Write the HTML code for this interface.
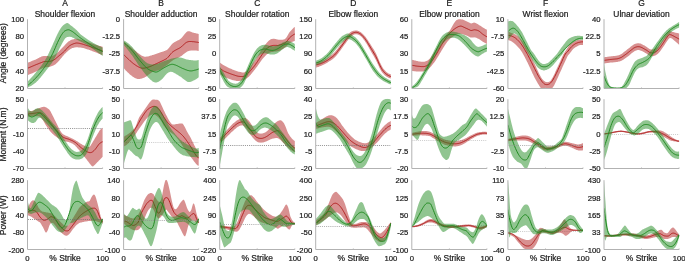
<!DOCTYPE html>
<html><head><meta charset="utf-8"><title>Joint kinematics and kinetics</title>
<style>html,body{margin:0;padding:0;background:#fff}body{width:685px;height:261px;overflow:hidden;font-family:"Liberation Sans",sans-serif}svg text{font-family:"Liberation Sans",sans-serif}</style>
</head><body>
<svg width="685" height="261" viewBox="0 0 685 261" style="display:block">
<rect width="685" height="261" fill="#fff"/>
<defs><clipPath id="cA1"><rect x="27.5" y="18.7" width="75.7" height="69.8"/></clipPath><clipPath id="cB1"><rect x="123.6" y="18.7" width="75.7" height="69.8"/></clipPath><clipPath id="cC1"><rect x="219.7" y="18.7" width="75.7" height="69.8"/></clipPath><clipPath id="cD1"><rect x="315.7" y="18.7" width="75.7" height="69.8"/></clipPath><clipPath id="cE1"><rect x="411.8" y="18.7" width="75.7" height="69.8"/></clipPath><clipPath id="cF1"><rect x="507.9" y="18.7" width="75.7" height="69.8"/></clipPath><clipPath id="cG1"><rect x="604.0" y="18.7" width="75.7" height="69.8"/></clipPath><clipPath id="cA2"><rect x="27.5" y="98.7" width="75.7" height="69.8"/></clipPath><clipPath id="cB2"><rect x="123.6" y="98.7" width="75.7" height="69.8"/></clipPath><clipPath id="cC2"><rect x="219.7" y="98.7" width="75.7" height="69.8"/></clipPath><clipPath id="cD2"><rect x="315.7" y="98.7" width="75.7" height="69.8"/></clipPath><clipPath id="cE2"><rect x="411.8" y="98.7" width="75.7" height="69.8"/></clipPath><clipPath id="cF2"><rect x="507.9" y="98.7" width="75.7" height="69.8"/></clipPath><clipPath id="cG2"><rect x="604.0" y="98.7" width="75.7" height="69.8"/></clipPath><clipPath id="cA3"><rect x="27.5" y="179.7" width="75.7" height="69.8"/></clipPath><clipPath id="cB3"><rect x="123.6" y="179.7" width="75.7" height="69.8"/></clipPath><clipPath id="cC3"><rect x="219.7" y="179.7" width="75.7" height="69.8"/></clipPath><clipPath id="cD3"><rect x="315.7" y="179.7" width="75.7" height="69.8"/></clipPath><clipPath id="cE3"><rect x="411.8" y="179.7" width="75.7" height="69.8"/></clipPath><clipPath id="cF3"><rect x="507.9" y="179.7" width="75.7" height="69.8"/></clipPath><clipPath id="cG3"><rect x="604.0" y="179.7" width="75.7" height="69.8"/></clipPath></defs>
<g clip-path="url(#cA1)"><path d="M27.5,62.7 L28.2,62.4 L28.9,62.2 L29.6,61.9 L30.3,61.7 L31.0,61.4 L31.7,61.1 L32.4,60.8 L33.1,60.5 L33.8,60.3 L34.5,60.0 L35.2,59.7 L35.9,59.4 L36.6,59.0 L37.3,58.7 L38.0,58.3 L38.7,57.9 L39.4,57.6 L40.1,57.2 L40.8,56.9 L41.5,56.6 L42.2,56.3 L42.9,56.2 L43.6,56.0 L44.3,56.0 L45.0,55.9 L45.7,55.9 L46.4,55.9 L47.1,55.9 L47.8,56.1 L48.5,56.2 L49.2,56.4 L49.9,56.4 L50.6,56.4 L51.3,56.3 L52.0,56.1 L52.7,55.8 L53.4,55.5 L54.1,55.1 L54.8,54.7 L55.5,54.2 L56.2,53.7 L56.9,53.2 L57.6,52.6 L58.3,51.9 L59.0,51.2 L59.7,50.5 L60.4,49.8 L61.1,49.1 L61.8,48.3 L62.5,47.6 L63.2,46.9 L63.9,46.1 L64.6,45.4 L65.3,44.6 L66.0,43.9 L66.7,43.1 L67.4,42.4 L68.1,41.8 L68.8,41.3 L69.5,40.9 L70.2,40.5 L70.9,40.1 L71.6,39.8 L72.3,39.6 L73.0,39.4 L73.7,39.2 L74.4,39.0 L75.1,38.8 L75.8,38.7 L76.5,38.7 L77.2,38.7 L77.9,38.8 L78.6,39.0 L79.3,39.2 L80.0,39.4 L80.7,39.6 L81.4,39.8 L82.1,40.0 L82.8,40.2 L83.5,40.5 L84.2,40.7 L84.9,41.0 L85.6,41.2 L86.3,41.5 L87.0,41.7 L87.7,42.0 L88.4,42.3 L89.1,42.5 L89.8,42.8 L90.5,43.1 L91.2,43.3 L91.9,43.5 L92.6,43.8 L93.3,44.0 L94.0,44.2 L94.7,44.5 L95.4,44.7 L96.1,44.9 L96.8,45.1 L97.5,45.3 L98.2,45.5 L98.9,45.7 L99.6,45.9 L100.3,46.1 L101.0,46.3 L101.7,46.5 L102.6,46.7 L102.6,55.2 L101.7,54.8 L101.0,54.5 L100.3,54.2 L99.6,53.9 L98.9,53.7 L98.2,53.4 L97.5,53.1 L96.8,52.8 L96.1,52.5 L95.4,52.3 L94.7,52.0 L94.0,51.7 L93.3,51.4 L92.6,51.2 L91.9,50.9 L91.2,50.6 L90.5,50.4 L89.8,50.1 L89.1,49.9 L88.4,49.6 L87.7,49.4 L87.0,49.2 L86.3,49.0 L85.6,48.7 L84.9,48.5 L84.2,48.3 L83.5,48.1 L82.8,48.0 L82.1,47.8 L81.4,47.7 L80.7,47.6 L80.0,47.5 L79.3,47.5 L78.6,47.4 L77.9,47.3 L77.2,47.3 L76.5,47.3 L75.8,47.3 L75.1,47.4 L74.4,47.5 L73.7,47.7 L73.0,47.9 L72.3,48.1 L71.6,48.4 L70.9,48.8 L70.2,49.2 L69.5,49.7 L68.8,50.2 L68.1,50.8 L67.4,51.4 L66.7,52.0 L66.0,52.7 L65.3,53.4 L64.6,54.1 L63.9,54.9 L63.2,55.8 L62.5,56.6 L61.8,57.4 L61.1,58.3 L60.4,59.1 L59.7,59.9 L59.0,60.7 L58.3,61.5 L57.6,62.2 L56.9,62.9 L56.2,63.5 L55.5,64.2 L54.8,64.7 L54.1,65.1 L53.4,65.5 L52.7,65.8 L52.0,66.1 L51.3,66.3 L50.6,66.5 L49.9,66.7 L49.2,66.9 L48.5,67.0 L47.8,67.1 L47.1,67.1 L46.4,67.2 L45.7,67.3 L45.0,67.4 L44.3,67.6 L43.6,67.8 L42.9,68.1 L42.2,68.4 L41.5,68.7 L40.8,69.1 L40.1,69.4 L39.4,69.8 L38.7,70.2 L38.0,70.6 L37.3,70.9 L36.6,71.3 L35.9,71.6 L35.2,72.0 L34.5,72.3 L33.8,72.6 L33.1,72.9 L32.4,73.2 L31.7,73.5 L31.0,73.8 L30.3,74.1 L29.6,74.3 L28.9,74.6 L28.2,74.9 L27.5,75.1Z" fill="#b22222" fill-opacity="0.5"/><path d="M27.5,68.3 L28.2,68.0 L28.9,67.7 L29.6,67.4 L30.3,67.1 L31.0,66.8 L31.7,66.5 L32.4,66.2 L33.1,65.9 L33.8,65.6 L34.5,65.3 L35.2,65.0 L35.9,64.7 L36.6,64.4 L37.3,64.2 L38.0,63.9 L38.7,63.6 L39.4,63.3 L40.1,63.0 L40.8,62.8 L41.5,62.5 L42.2,62.2 L42.9,62.0 L43.6,61.7 L44.3,61.6 L45.0,61.5 L45.7,61.5 L46.4,61.5 L47.1,61.5 L47.8,61.5 L48.5,61.5 L49.2,61.4 L49.9,61.3 L50.6,61.2 L51.3,61.0 L52.0,60.8 L52.7,60.5 L53.4,60.2 L54.1,59.8 L54.8,59.3 L55.5,58.8 L56.2,58.2 L56.9,57.6 L57.6,57.0 L58.3,56.4 L59.0,55.8 L59.7,55.2 L60.4,54.7 L61.1,54.1 L61.8,53.5 L62.5,52.9 L63.2,52.3 L63.9,51.7 L64.6,51.0 L65.3,50.3 L66.0,49.4 L66.7,48.6 L67.4,47.8 L68.1,47.1 L68.8,46.5 L69.5,45.9 L70.2,45.4 L70.9,45.0 L71.6,44.6 L72.3,44.3 L73.0,44.0 L73.7,43.7 L74.4,43.5 L75.1,43.3 L75.8,43.1 L76.5,43.0 L77.2,43.0 L77.9,43.1 L78.6,43.2 L79.3,43.3 L80.0,43.5 L80.7,43.7 L81.4,43.8 L82.1,44.0 L82.8,44.2 L83.5,44.4 L84.2,44.7 L84.9,44.9 L85.6,45.1 L86.3,45.4 L87.0,45.6 L87.7,45.8 L88.4,46.0 L89.1,46.3 L89.8,46.5 L90.5,46.7 L91.2,47.0 L91.9,47.2 L92.6,47.5 L93.3,47.7 L94.0,48.0 L94.7,48.2 L95.4,48.4 L96.1,48.7 L96.8,48.9 L97.5,49.2 L98.2,49.4 L98.9,49.7 L99.6,49.9 L100.3,50.2 L101.0,50.4 L101.7,50.7 L102.6,51.0" fill="none" stroke="#b22222" stroke-width="1" stroke-linejoin="round"/><path d="M27.5,81.7 L28.2,81.0 L28.9,80.3 L29.6,79.5 L30.3,78.8 L31.0,78.0 L31.7,77.3 L32.4,76.5 L33.1,75.7 L33.8,74.9 L34.5,74.1 L35.2,73.3 L35.9,72.4 L36.6,71.6 L37.3,70.8 L38.0,69.9 L38.7,69.1 L39.4,68.2 L40.1,67.3 L40.8,66.4 L41.5,65.5 L42.2,64.6 L42.9,63.6 L43.6,62.5 L44.3,61.4 L45.0,60.3 L45.7,59.1 L46.4,57.9 L47.1,56.5 L47.8,55.2 L48.5,53.7 L49.2,52.3 L49.9,50.8 L50.6,49.3 L51.3,47.8 L52.0,46.3 L52.7,44.7 L53.4,43.1 L54.1,41.5 L54.8,39.9 L55.5,38.3 L56.2,36.7 L56.9,35.2 L57.6,33.8 L58.3,32.4 L59.0,31.1 L59.7,29.9 L60.4,28.8 L61.1,27.7 L61.8,26.8 L62.5,26.0 L63.2,25.3 L63.9,24.7 L64.6,24.2 L65.3,23.8 L66.0,23.4 L66.7,23.0 L67.4,22.9 L68.1,23.2 L68.8,23.8 L69.5,24.3 L70.2,24.9 L70.9,25.4 L71.6,26.0 L72.3,26.6 L73.0,27.1 L73.7,27.7 L74.4,28.2 L75.1,28.8 L75.8,29.4 L76.5,30.1 L77.2,30.8 L77.9,31.5 L78.6,32.3 L79.3,33.1 L80.0,33.8 L80.7,34.4 L81.4,35.0 L82.1,35.5 L82.8,36.1 L83.5,36.6 L84.2,37.1 L84.9,37.6 L85.6,38.1 L86.3,38.6 L87.0,39.0 L87.7,39.5 L88.4,39.9 L89.1,40.4 L89.8,40.8 L90.5,41.3 L91.2,41.7 L91.9,42.1 L92.6,42.5 L93.3,42.9 L94.0,43.3 L94.7,43.7 L95.4,44.1 L96.1,44.5 L96.8,44.8 L97.5,45.2 L98.2,45.6 L98.9,45.9 L99.6,46.2 L100.3,46.6 L101.0,46.9 L101.7,47.2 L102.6,47.6 L102.6,56.0 L101.7,55.3 L101.0,54.8 L100.3,54.3 L99.6,53.8 L98.9,53.3 L98.2,52.7 L97.5,52.2 L96.8,51.7 L96.1,51.2 L95.4,50.7 L94.7,50.2 L94.0,49.7 L93.3,49.2 L92.6,48.7 L91.9,48.2 L91.2,47.7 L90.5,47.2 L89.8,46.8 L89.1,46.3 L88.4,45.8 L87.7,45.4 L87.0,44.9 L86.3,44.5 L85.6,44.1 L84.9,43.7 L84.2,43.3 L83.5,43.0 L82.8,42.6 L82.1,42.3 L81.4,41.9 L80.7,41.6 L80.0,41.2 L79.3,40.9 L78.6,40.5 L77.9,40.2 L77.2,39.8 L76.5,39.5 L75.8,39.1 L75.1,38.8 L74.4,38.4 L73.7,38.1 L73.0,37.7 L72.3,37.4 L71.6,37.1 L70.9,36.9 L70.2,36.8 L69.5,36.8 L68.8,36.8 L68.1,36.9 L67.4,37.0 L66.7,37.3 L66.0,37.7 L65.3,38.3 L64.6,39.2 L63.9,40.2 L63.2,41.5 L62.5,42.7 L61.8,44.0 L61.1,45.4 L60.4,46.7 L59.7,48.1 L59.0,49.5 L58.3,50.9 L57.6,52.4 L56.9,53.8 L56.2,55.3 L55.5,56.7 L54.8,58.0 L54.1,59.3 L53.4,60.5 L52.7,61.6 L52.0,62.7 L51.3,63.7 L50.6,64.6 L49.9,65.6 L49.2,66.5 L48.5,67.4 L47.8,68.3 L47.1,69.2 L46.4,70.1 L45.7,71.0 L45.0,71.9 L44.3,72.8 L43.6,73.7 L42.9,74.6 L42.2,75.5 L41.5,76.3 L40.8,77.2 L40.1,78.0 L39.4,78.8 L38.7,79.6 L38.0,80.4 L37.3,81.1 L36.6,81.8 L35.9,82.4 L35.2,83.0 L34.5,83.6 L33.8,84.1 L33.1,84.6 L32.4,85.0 L31.7,85.5 L31.0,85.9 L30.3,86.3 L29.6,86.6 L28.9,87.0 L28.2,87.3 L27.5,87.6Z" fill="#228b22" fill-opacity="0.5"/><path d="M27.5,85.6 L28.2,85.1 L28.9,84.5 L29.6,83.9 L30.3,83.3 L31.0,82.7 L31.7,82.0 L32.4,81.4 L33.1,80.7 L33.8,80.0 L34.5,79.3 L35.2,78.6 L35.9,77.9 L36.6,77.1 L37.3,76.3 L38.0,75.6 L38.7,74.8 L39.4,73.9 L40.1,73.1 L40.8,72.2 L41.5,71.3 L42.2,70.4 L42.9,69.5 L43.6,68.5 L44.3,67.6 L45.0,66.6 L45.7,65.5 L46.4,64.5 L47.1,63.5 L47.8,62.4 L48.5,61.2 L49.2,60.1 L49.9,58.8 L50.6,57.6 L51.3,56.3 L52.0,54.9 L52.7,53.6 L53.4,52.1 L54.1,50.5 L54.8,48.9 L55.5,47.3 L56.2,45.6 L56.9,44.0 L57.6,42.4 L58.3,40.9 L59.0,39.5 L59.7,38.1 L60.4,36.8 L61.1,35.6 L61.8,34.5 L62.5,33.4 L63.2,32.5 L63.9,31.7 L64.6,31.1 L65.3,30.7 L66.0,30.3 L66.7,30.1 L67.4,29.9 L68.1,29.8 L68.8,29.8 L69.5,30.0 L70.2,30.4 L70.9,30.7 L71.6,31.1 L72.3,31.5 L73.0,32.0 L73.7,32.5 L74.4,33.1 L75.1,33.6 L75.8,34.2 L76.5,34.8 L77.2,35.4 L77.9,35.9 L78.6,36.5 L79.3,37.1 L80.0,37.6 L80.7,38.1 L81.4,38.6 L82.1,39.1 L82.8,39.6 L83.5,40.1 L84.2,40.5 L84.9,41.0 L85.6,41.5 L86.3,42.0 L87.0,42.4 L87.7,42.9 L88.4,43.4 L89.1,43.8 L89.8,44.3 L90.5,44.7 L91.2,45.2 L91.9,45.6 L92.6,46.1 L93.3,46.5 L94.0,47.0 L94.7,47.4 L95.4,47.8 L96.1,48.2 L96.8,48.6 L97.5,49.0 L98.2,49.4 L98.9,49.8 L99.6,50.1 L100.3,50.5 L101.0,50.8 L101.7,51.1 L102.6,51.5" fill="none" stroke="#228b22" stroke-width="1" stroke-linejoin="round"/></g>
<path d="M27.5,19.2 V88.5 H102.6" fill="none" stroke="#b2b2b2" stroke-width="1"/>
<path d="M65.0,88.5 v-1 M102.6,88.5 v-1 " stroke="#b2b2b2" stroke-width="1" fill="none"/>
<g clip-path="url(#cB1)"><path d="M123.6,41.1 L124.3,41.7 L125.0,42.3 L125.7,42.9 L126.4,43.5 L127.1,44.1 L127.8,44.7 L128.5,45.3 L129.2,45.9 L129.9,46.5 L130.6,47.0 L131.3,47.6 L132.0,48.2 L132.7,48.8 L133.4,49.4 L134.1,50.0 L134.8,50.5 L135.5,51.1 L136.2,51.6 L136.9,52.2 L137.6,52.7 L138.3,53.3 L139.0,53.8 L139.7,54.3 L140.4,54.8 L141.1,55.3 L141.8,55.7 L142.5,56.0 L143.2,56.3 L143.9,56.6 L144.6,56.7 L145.3,56.8 L146.0,56.7 L146.7,56.6 L147.4,56.5 L148.1,56.4 L148.8,56.2 L149.5,56.0 L150.2,55.8 L150.9,55.6 L151.6,55.4 L152.3,55.1 L153.0,54.9 L153.7,54.7 L154.4,54.4 L155.1,54.2 L155.8,54.0 L156.5,53.7 L157.2,53.5 L157.9,53.3 L158.6,53.0 L159.3,52.8 L160.0,52.6 L160.7,52.3 L161.4,52.1 L162.1,51.9 L162.8,51.6 L163.5,51.4 L164.2,51.1 L164.9,50.9 L165.6,50.6 L166.3,50.3 L167.0,49.9 L167.7,49.3 L168.4,48.5 L169.1,47.7 L169.8,46.8 L170.5,45.9 L171.2,45.0 L171.9,44.2 L172.6,43.5 L173.3,43.0 L174.0,42.5 L174.7,42.1 L175.4,41.7 L176.1,41.3 L176.8,41.0 L177.5,40.6 L178.2,40.3 L178.9,39.9 L179.6,39.5 L180.3,39.0 L181.0,38.5 L181.7,37.8 L182.4,37.0 L183.1,36.1 L183.8,35.2 L184.5,34.3 L185.2,33.5 L185.9,32.7 L186.6,32.0 L187.3,31.6 L188.0,31.3 L188.7,31.2 L189.4,31.3 L190.1,31.5 L190.8,31.8 L191.5,32.1 L192.2,32.4 L192.9,32.6 L193.6,32.8 L194.3,32.9 L195.0,33.1 L195.7,33.3 L196.4,33.5 L197.1,33.6 L197.8,33.8 L198.7,34.0 L198.7,51.0 L197.8,50.8 L197.1,50.7 L196.4,50.6 L195.7,50.5 L195.0,50.5 L194.3,50.5 L193.6,50.5 L192.9,50.5 L192.2,50.5 L191.5,50.5 L190.8,50.6 L190.1,50.7 L189.4,50.8 L188.7,51.0 L188.0,51.3 L187.3,51.6 L186.6,52.0 L185.9,52.4 L185.2,52.9 L184.5,53.5 L183.8,54.0 L183.1,54.6 L182.4,55.2 L181.7,55.7 L181.0,56.2 L180.3,56.6 L179.6,57.0 L178.9,57.4 L178.2,57.7 L177.5,58.0 L176.8,58.3 L176.1,58.5 L175.4,58.8 L174.7,59.2 L174.0,59.6 L173.3,60.0 L172.6,60.5 L171.9,61.0 L171.2,61.5 L170.5,62.1 L169.8,62.7 L169.1,63.3 L168.4,63.9 L167.7,64.5 L167.0,65.0 L166.3,65.6 L165.6,66.1 L164.9,66.6 L164.2,67.1 L163.5,67.5 L162.8,68.0 L162.1,68.4 L161.4,68.9 L160.7,69.3 L160.0,69.7 L159.3,70.0 L158.6,70.3 L157.9,70.5 L157.2,70.7 L156.5,70.8 L155.8,71.0 L155.1,71.2 L154.4,71.3 L153.7,71.5 L153.0,71.8 L152.3,72.1 L151.6,72.4 L150.9,72.9 L150.2,73.4 L149.5,74.0 L148.8,74.5 L148.1,75.1 L147.4,75.7 L146.7,76.2 L146.0,76.7 L145.3,77.0 L144.6,77.4 L143.9,77.7 L143.2,78.0 L142.5,78.3 L141.8,78.5 L141.1,78.7 L140.4,78.8 L139.7,79.0 L139.0,79.0 L138.3,79.0 L137.6,78.9 L136.9,78.8 L136.2,78.6 L135.5,78.3 L134.8,78.0 L134.1,77.6 L133.4,77.1 L132.7,76.7 L132.0,76.1 L131.3,75.6 L130.6,75.0 L129.9,74.4 L129.2,73.8 L128.5,73.1 L127.8,72.5 L127.1,71.8 L126.4,71.1 L125.7,70.4 L125.0,69.6 L124.3,68.8 L123.6,68.1Z" fill="#b22222" fill-opacity="0.5"/><path d="M123.6,54.4 L124.3,55.2 L125.0,55.9 L125.7,56.6 L126.4,57.3 L127.1,58.0 L127.8,58.7 L128.5,59.3 L129.2,59.9 L129.9,60.6 L130.6,61.2 L131.3,61.8 L132.0,62.4 L132.7,63.0 L133.4,63.6 L134.1,64.1 L134.8,64.6 L135.5,65.1 L136.2,65.6 L136.9,66.0 L137.6,66.4 L138.3,66.8 L139.0,67.2 L139.7,67.5 L140.4,67.8 L141.1,68.0 L141.8,68.1 L142.5,68.2 L143.2,68.2 L143.9,68.2 L144.6,68.1 L145.3,67.9 L146.0,67.8 L146.7,67.6 L147.4,67.4 L148.1,67.2 L148.8,67.0 L149.5,66.7 L150.2,66.5 L150.9,66.2 L151.6,65.9 L152.3,65.6 L153.0,65.2 L153.7,64.9 L154.4,64.6 L155.1,64.3 L155.8,63.9 L156.5,63.6 L157.2,63.3 L157.9,63.0 L158.6,62.6 L159.3,62.3 L160.0,62.0 L160.7,61.6 L161.4,61.3 L162.1,61.0 L162.8,60.6 L163.5,60.3 L164.2,59.9 L164.9,59.6 L165.6,59.2 L166.3,58.8 L167.0,58.3 L167.7,57.6 L168.4,56.8 L169.1,56.0 L169.8,55.1 L170.5,54.3 L171.2,53.4 L171.9,52.7 L172.6,52.0 L173.3,51.5 L174.0,51.0 L174.7,50.6 L175.4,50.2 L176.1,49.8 L176.8,49.5 L177.5,49.1 L178.2,48.8 L178.9,48.4 L179.6,48.0 L180.3,47.6 L181.0,47.0 L181.7,46.5 L182.4,45.8 L183.1,45.2 L183.8,44.5 L184.5,43.9 L185.2,43.3 L185.9,42.7 L186.6,42.3 L187.3,42.0 L188.0,41.7 L188.7,41.6 L189.4,41.5 L190.1,41.5 L190.8,41.5 L191.5,41.5 L192.2,41.6 L192.9,41.7 L193.6,41.7 L194.3,41.8 L195.0,41.9 L195.7,42.0 L196.4,42.1 L197.1,42.2 L197.8,42.3 L198.7,42.5" fill="none" stroke="#b22222" stroke-width="1" stroke-linejoin="round"/><path d="M123.6,40.3 L124.3,40.7 L125.0,41.1 L125.7,41.5 L126.4,42.0 L127.1,42.5 L127.8,43.0 L128.5,43.6 L129.2,44.1 L129.9,44.7 L130.6,45.4 L131.3,46.1 L132.0,46.8 L132.7,47.6 L133.4,48.4 L134.1,49.2 L134.8,50.1 L135.5,51.0 L136.2,51.8 L136.9,52.7 L137.6,53.6 L138.3,54.4 L139.0,55.2 L139.7,56.0 L140.4,56.8 L141.1,57.5 L141.8,58.3 L142.5,59.0 L143.2,59.7 L143.9,60.4 L144.6,61.0 L145.3,61.7 L146.0,62.3 L146.7,62.8 L147.4,63.2 L148.1,63.6 L148.8,63.8 L149.5,64.1 L150.2,64.2 L150.9,64.3 L151.6,64.4 L152.3,64.4 L153.0,64.4 L153.7,64.4 L154.4,64.4 L155.1,64.3 L155.8,64.2 L156.5,64.1 L157.2,63.9 L157.9,63.7 L158.6,63.4 L159.3,63.1 L160.0,62.8 L160.7,62.5 L161.4,62.2 L162.1,61.9 L162.8,61.6 L163.5,61.4 L164.2,61.1 L164.9,60.9 L165.6,60.6 L166.3,60.4 L167.0,60.1 L167.7,59.9 L168.4,59.7 L169.1,59.5 L169.8,59.3 L170.5,59.0 L171.2,58.8 L171.9,58.6 L172.6,58.4 L173.3,58.3 L174.0,58.1 L174.7,57.9 L175.4,57.8 L176.1,57.7 L176.8,57.6 L177.5,57.5 L178.2,57.5 L178.9,57.5 L179.6,57.5 L180.3,57.6 L181.0,57.7 L181.7,57.8 L182.4,58.0 L183.1,58.3 L183.8,58.5 L184.5,58.8 L185.2,59.0 L185.9,59.2 L186.6,59.4 L187.3,59.5 L188.0,59.7 L188.7,59.8 L189.4,59.9 L190.1,60.0 L190.8,60.1 L191.5,60.2 L192.2,60.2 L192.9,60.3 L193.6,60.4 L194.3,60.4 L195.0,60.4 L195.7,60.4 L196.4,60.4 L197.1,60.3 L197.8,60.3 L198.7,60.1 L198.7,77.3 L197.8,78.0 L197.1,78.5 L196.4,79.0 L195.7,79.4 L195.0,79.8 L194.3,80.2 L193.6,80.5 L192.9,80.8 L192.2,81.2 L191.5,81.5 L190.8,81.7 L190.1,82.0 L189.4,82.1 L188.7,82.1 L188.0,82.0 L187.3,81.7 L186.6,81.3 L185.9,80.8 L185.2,80.3 L184.5,79.8 L183.8,79.3 L183.1,78.7 L182.4,78.2 L181.7,77.6 L181.0,77.1 L180.3,76.6 L179.6,76.2 L178.9,75.7 L178.2,75.3 L177.5,74.8 L176.8,74.4 L176.1,74.0 L175.4,73.6 L174.7,73.2 L174.0,72.8 L173.3,72.4 L172.6,72.1 L171.9,71.9 L171.2,71.8 L170.5,71.8 L169.8,72.0 L169.1,72.2 L168.4,72.6 L167.7,73.0 L167.0,73.5 L166.3,74.2 L165.6,74.9 L164.9,75.8 L164.2,76.7 L163.5,77.6 L162.8,78.4 L162.1,79.1 L161.4,79.7 L160.7,80.2 L160.0,80.8 L159.3,81.2 L158.6,81.7 L157.9,82.0 L157.2,82.3 L156.5,82.5 L155.8,82.5 L155.1,82.5 L154.4,82.3 L153.7,82.1 L153.0,81.7 L152.3,81.2 L151.6,80.6 L150.9,80.0 L150.2,79.4 L149.5,78.8 L148.8,78.1 L148.1,77.4 L147.4,76.6 L146.7,75.8 L146.0,74.9 L145.3,74.1 L144.6,73.2 L143.9,72.3 L143.2,71.4 L142.5,70.5 L141.8,69.5 L141.1,68.6 L140.4,67.6 L139.7,66.7 L139.0,65.7 L138.3,64.7 L137.6,63.7 L136.9,62.6 L136.2,61.5 L135.5,60.5 L134.8,59.4 L134.1,58.4 L133.4,57.3 L132.7,56.3 L132.0,55.3 L131.3,54.4 L130.6,53.4 L129.9,52.5 L129.2,51.6 L128.5,50.7 L127.8,49.8 L127.1,48.9 L126.4,48.1 L125.7,47.2 L125.0,46.4 L124.3,45.6 L123.6,44.8Z" fill="#228b22" fill-opacity="0.5"/><path d="M123.6,42.5 L124.3,43.1 L125.0,43.6 L125.7,44.2 L126.4,44.8 L127.1,45.5 L127.8,46.1 L128.5,46.8 L129.2,47.5 L129.9,48.2 L130.6,48.9 L131.3,49.7 L132.0,50.5 L132.7,51.3 L133.4,52.2 L134.1,53.1 L134.8,54.0 L135.5,54.9 L136.2,55.9 L136.9,56.8 L137.6,57.7 L138.3,58.6 L139.0,59.5 L139.7,60.3 L140.4,61.2 L141.1,62.0 L141.8,62.8 L142.5,63.6 L143.2,64.4 L143.9,65.2 L144.6,65.9 L145.3,66.6 L146.0,67.3 L146.7,68.0 L147.4,68.6 L148.1,69.1 L148.8,69.5 L149.5,69.9 L150.2,70.3 L150.9,70.6 L151.6,70.9 L152.3,71.1 L153.0,71.4 L153.7,71.6 L154.4,71.8 L155.1,72.0 L155.8,72.1 L156.5,72.0 L157.2,71.9 L157.9,71.5 L158.6,71.2 L159.3,70.8 L160.0,70.3 L160.7,69.9 L161.4,69.4 L162.1,69.0 L162.8,68.5 L163.5,68.1 L164.2,67.7 L164.9,67.3 L165.6,66.9 L166.3,66.5 L167.0,66.2 L167.7,65.8 L168.4,65.5 L169.1,65.1 L169.8,64.8 L170.5,64.6 L171.2,64.4 L171.9,64.3 L172.6,64.3 L173.3,64.4 L174.0,64.6 L174.7,64.8 L175.4,65.0 L176.1,65.3 L176.8,65.6 L177.5,65.9 L178.2,66.3 L178.9,66.6 L179.6,67.0 L180.3,67.3 L181.0,67.7 L181.7,68.0 L182.4,68.4 L183.1,68.6 L183.8,68.9 L184.5,69.2 L185.2,69.5 L185.9,69.8 L186.6,70.0 L187.3,70.3 L188.0,70.5 L188.7,70.6 L189.4,70.8 L190.1,70.9 L190.8,70.9 L191.5,70.9 L192.2,70.8 L192.9,70.7 L193.6,70.5 L194.3,70.3 L195.0,70.2 L195.7,70.0 L196.4,69.8 L197.1,69.6 L197.8,69.3 L198.7,69.0" fill="none" stroke="#228b22" stroke-width="1" stroke-linejoin="round"/></g>
<path d="M123.6,19.2 V88.5 H198.7" fill="none" stroke="#b2b2b2" stroke-width="1"/>
<path d="M161.1,88.5 v-1 M198.7,88.5 v-1 " stroke="#b2b2b2" stroke-width="1" fill="none"/>
<g clip-path="url(#cC1)"><path d="M219.7,62.4 L220.4,63.0 L221.1,63.5 L221.8,63.9 L222.5,64.4 L223.2,64.9 L223.9,65.3 L224.6,65.7 L225.3,66.1 L226.0,66.5 L226.7,66.8 L227.4,67.2 L228.1,67.5 L228.8,67.9 L229.5,68.2 L230.2,68.5 L230.9,68.8 L231.6,69.1 L232.3,69.4 L233.0,69.7 L233.7,70.0 L234.4,70.3 L235.1,70.5 L235.8,70.8 L236.5,71.0 L237.2,71.3 L237.9,71.5 L238.6,71.7 L239.3,71.8 L240.0,72.0 L240.7,72.1 L241.4,72.2 L242.1,72.4 L242.8,72.5 L243.5,72.5 L244.2,72.4 L244.9,72.1 L245.6,71.8 L246.3,71.2 L247.0,70.5 L247.7,69.8 L248.4,69.0 L249.1,68.1 L249.8,67.2 L250.5,66.3 L251.2,65.4 L251.9,64.5 L252.6,63.6 L253.3,62.6 L254.0,61.7 L254.7,60.7 L255.4,59.7 L256.1,58.7 L256.8,57.6 L257.5,56.5 L258.2,55.3 L258.9,54.1 L259.6,52.9 L260.3,51.7 L261.0,50.5 L261.7,49.5 L262.4,48.4 L263.1,47.5 L263.8,46.5 L264.5,45.6 L265.2,44.8 L265.9,43.9 L266.6,43.0 L267.3,42.2 L268.0,41.5 L268.7,40.8 L269.4,40.2 L270.1,39.7 L270.8,39.3 L271.5,39.0 L272.2,38.9 L272.9,38.8 L273.6,38.8 L274.3,38.8 L275.0,38.9 L275.7,39.1 L276.4,39.2 L277.1,39.4 L277.8,39.6 L278.5,39.7 L279.2,39.7 L279.9,39.8 L280.6,39.8 L281.3,39.8 L282.0,39.8 L282.7,39.7 L283.4,39.6 L284.1,39.4 L284.8,39.0 L285.5,38.5 L286.2,37.7 L286.9,36.7 L287.6,35.5 L288.3,34.3 L289.0,33.1 L289.7,32.1 L290.4,31.2 L291.1,30.4 L291.8,29.7 L292.5,28.9 L293.2,28.3 L293.9,27.6 L294.8,26.9 L294.8,41.1 L293.9,41.3 L293.2,41.5 L292.5,41.7 L291.8,42.0 L291.1,42.4 L290.4,42.8 L289.7,43.3 L289.0,43.9 L288.3,44.5 L287.6,45.2 L286.9,45.8 L286.2,46.4 L285.5,46.9 L284.8,47.4 L284.1,47.9 L283.4,48.4 L282.7,48.9 L282.0,49.3 L281.3,49.8 L280.6,50.2 L279.9,50.6 L279.2,50.9 L278.5,51.1 L277.8,51.2 L277.1,51.3 L276.4,51.4 L275.7,51.4 L275.0,51.5 L274.3,51.6 L273.6,51.7 L272.9,51.9 L272.2,52.0 L271.5,52.1 L270.8,52.3 L270.1,52.5 L269.4,52.7 L268.7,53.0 L268.0,53.5 L267.3,54.0 L266.6,54.6 L265.9,55.2 L265.2,55.9 L264.5,56.7 L263.8,57.4 L263.1,58.2 L262.4,59.1 L261.7,60.0 L261.0,60.9 L260.3,61.9 L259.6,62.9 L258.9,63.9 L258.2,64.9 L257.5,65.9 L256.8,66.9 L256.1,67.8 L255.4,68.7 L254.7,69.7 L254.0,70.6 L253.3,71.5 L252.6,72.3 L251.9,73.2 L251.2,74.0 L250.5,74.9 L249.8,75.6 L249.1,76.4 L248.4,77.0 L247.7,77.6 L247.0,78.2 L246.3,78.6 L245.6,79.1 L244.9,79.4 L244.2,79.8 L243.5,80.1 L242.8,80.3 L242.1,80.5 L241.4,80.6 L240.7,80.7 L240.0,80.8 L239.3,80.9 L238.6,80.9 L237.9,81.0 L237.2,80.9 L236.5,80.9 L235.8,80.8 L235.1,80.6 L234.4,80.5 L233.7,80.3 L233.0,80.2 L232.3,80.0 L231.6,79.8 L230.9,79.6 L230.2,79.3 L229.5,79.1 L228.8,78.8 L228.1,78.6 L227.4,78.3 L226.7,78.0 L226.0,77.7 L225.3,77.4 L224.6,77.1 L223.9,76.7 L223.2,76.3 L222.5,75.8 L221.8,75.4 L221.1,74.9 L220.4,74.3 L219.7,73.8Z" fill="#b22222" fill-opacity="0.5"/><path d="M219.7,68.1 L220.4,68.7 L221.1,69.2 L221.8,69.7 L222.5,70.2 L223.2,70.7 L223.9,71.1 L224.6,71.4 L225.3,71.7 L226.0,72.0 L226.7,72.3 L227.4,72.6 L228.1,72.9 L228.8,73.1 L229.5,73.4 L230.2,73.7 L230.9,73.9 L231.6,74.2 L232.3,74.4 L233.0,74.7 L233.7,74.9 L234.4,75.1 L235.1,75.4 L235.8,75.6 L236.5,75.8 L237.2,76.0 L237.9,76.2 L238.6,76.3 L239.3,76.4 L240.0,76.5 L240.7,76.5 L241.4,76.5 L242.1,76.6 L242.8,76.5 L243.5,76.4 L244.2,76.2 L244.9,75.9 L245.6,75.4 L246.3,74.9 L247.0,74.3 L247.7,73.7 L248.4,73.0 L249.1,72.2 L249.8,71.4 L250.5,70.6 L251.2,69.8 L251.9,68.9 L252.6,68.1 L253.3,67.2 L254.0,66.4 L254.7,65.5 L255.4,64.5 L256.1,63.5 L256.8,62.5 L257.5,61.5 L258.2,60.4 L258.9,59.4 L259.6,58.3 L260.3,57.2 L261.0,56.2 L261.7,55.1 L262.4,54.1 L263.1,53.2 L263.8,52.2 L264.5,51.3 L265.2,50.4 L265.9,49.6 L266.6,48.8 L267.3,48.1 L268.0,47.4 L268.7,46.9 L269.4,46.5 L270.1,46.2 L270.8,46.0 L271.5,45.8 L272.2,45.6 L272.9,45.5 L273.6,45.4 L274.3,45.4 L275.0,45.3 L275.7,45.4 L276.4,45.4 L277.1,45.5 L277.8,45.5 L278.5,45.4 L279.2,45.2 L279.9,45.0 L280.6,44.8 L281.3,44.6 L282.0,44.3 L282.7,44.0 L283.4,43.7 L284.1,43.4 L284.8,43.1 L285.5,42.7 L286.2,42.1 L286.9,41.3 L287.6,40.4 L288.3,39.4 L289.0,38.5 L289.7,37.7 L290.4,37.0 L291.1,36.4 L291.8,35.9 L292.5,35.4 L293.2,34.9 L293.9,34.5 L294.8,34.0" fill="none" stroke="#b22222" stroke-width="1" stroke-linejoin="round"/><path d="M219.7,65.9 L220.4,67.2 L221.1,68.4 L221.8,69.7 L222.5,70.9 L223.2,72.1 L223.9,73.3 L224.6,74.6 L225.3,75.7 L226.0,76.9 L226.7,78.0 L227.4,79.1 L228.1,80.2 L228.8,80.9 L229.5,81.5 L230.2,82.0 L230.9,82.4 L231.6,82.7 L232.3,83.0 L233.0,83.3 L233.7,83.5 L234.4,83.6 L235.1,83.7 L235.8,83.7 L236.5,83.6 L237.2,83.4 L237.9,83.0 L238.6,82.5 L239.3,81.9 L240.0,81.2 L240.7,80.3 L241.4,79.4 L242.1,78.4 L242.8,77.2 L243.5,75.9 L244.2,74.5 L244.9,73.0 L245.6,71.4 L246.3,69.7 L247.0,68.1 L247.7,66.4 L248.4,64.8 L249.1,63.2 L249.8,61.7 L250.5,60.1 L251.2,58.6 L251.9,57.2 L252.6,55.7 L253.3,54.3 L254.0,53.0 L254.7,51.8 L255.4,50.7 L256.1,49.7 L256.8,48.8 L257.5,48.0 L258.2,47.4 L258.9,46.8 L259.6,46.3 L260.3,45.9 L261.0,45.6 L261.7,45.3 L262.4,45.1 L263.1,45.0 L263.8,44.8 L264.5,44.7 L265.2,44.7 L265.9,44.8 L266.6,45.0 L267.3,45.1 L268.0,45.4 L268.7,45.6 L269.4,45.8 L270.1,45.9 L270.8,46.0 L271.5,46.1 L272.2,46.2 L272.9,46.3 L273.6,46.3 L274.3,46.2 L275.0,46.1 L275.7,45.9 L276.4,45.7 L277.1,45.5 L277.8,45.2 L278.5,44.8 L279.2,44.5 L279.9,44.1 L280.6,43.7 L281.3,43.4 L282.0,43.0 L282.7,42.6 L283.4,42.3 L284.1,42.0 L284.8,41.7 L285.5,41.5 L286.2,41.3 L286.9,41.1 L287.6,41.1 L288.3,41.1 L289.0,41.2 L289.7,41.4 L290.4,41.6 L291.1,41.9 L291.8,42.2 L292.5,42.5 L293.2,42.9 L293.9,43.3 L294.8,43.9 L294.8,51.0 L293.9,50.3 L293.2,49.8 L292.5,49.4 L291.8,48.9 L291.1,48.5 L290.4,48.1 L289.7,47.8 L289.0,47.4 L288.3,47.2 L287.6,47.1 L286.9,47.1 L286.2,47.2 L285.5,47.5 L284.8,47.8 L284.1,48.2 L283.4,48.7 L282.7,49.2 L282.0,49.7 L281.3,50.3 L280.6,50.9 L279.9,51.5 L279.2,52.0 L278.5,52.5 L277.8,53.0 L277.1,53.4 L276.4,53.7 L275.7,54.0 L275.0,54.3 L274.3,54.5 L273.6,54.6 L272.9,54.6 L272.2,54.6 L271.5,54.6 L270.8,54.5 L270.1,54.4 L269.4,54.3 L268.7,54.1 L268.0,53.9 L267.3,53.7 L266.6,53.5 L265.9,53.3 L265.2,53.2 L264.5,53.2 L263.8,53.3 L263.1,53.4 L262.4,53.6 L261.7,53.8 L261.0,54.1 L260.3,54.5 L259.6,55.0 L258.9,55.6 L258.2,56.3 L257.5,57.1 L256.8,57.9 L256.1,58.8 L255.4,59.8 L254.7,60.9 L254.0,62.0 L253.3,63.4 L252.6,64.8 L251.9,66.3 L251.2,67.8 L250.5,69.3 L249.8,70.8 L249.1,72.3 L248.4,73.8 L247.7,75.4 L247.0,76.9 L246.3,78.5 L245.6,80.0 L244.9,81.5 L244.2,83.0 L243.5,84.2 L242.8,85.3 L242.1,86.1 L241.4,86.8 L240.7,87.4 L240.0,87.8 L239.3,88.2 L238.6,88.5 L237.9,88.8 L237.2,89.0 L236.5,89.0 L235.8,89.0 L235.1,89.0 L234.4,88.9 L233.7,88.8 L233.0,88.7 L232.3,88.6 L231.6,88.4 L230.9,88.3 L230.2,88.0 L229.5,87.8 L228.8,87.5 L228.1,87.1 L227.4,86.7 L226.7,86.0 L226.0,85.2 L225.3,84.2 L224.6,83.1 L223.9,81.9 L223.2,80.6 L222.5,79.3 L221.8,78.0 L221.1,76.5 L220.4,75.0 L219.7,73.4Z" fill="#228b22" fill-opacity="0.5"/><path d="M219.7,69.6 L220.4,71.1 L221.1,72.5 L221.8,73.8 L222.5,75.1 L223.2,76.4 L223.9,77.6 L224.6,78.7 L225.3,79.8 L226.0,80.8 L226.7,81.8 L227.4,82.6 L228.1,83.4 L228.8,84.0 L229.5,84.6 L230.2,85.1 L230.9,85.5 L231.6,85.8 L232.3,86.1 L233.0,86.3 L233.7,86.5 L234.4,86.5 L235.1,86.6 L235.8,86.5 L236.5,86.4 L237.2,86.2 L237.9,85.9 L238.6,85.6 L239.3,85.1 L240.0,84.5 L240.7,83.9 L241.4,83.1 L242.1,82.2 L242.8,81.2 L243.5,80.1 L244.2,78.8 L244.9,77.3 L245.6,75.7 L246.3,74.0 L247.0,72.3 L247.7,70.7 L248.4,69.0 L249.1,67.5 L249.8,65.9 L250.5,64.4 L251.2,62.9 L251.9,61.4 L252.6,60.0 L253.3,58.6 L254.0,57.2 L254.7,56.0 L255.4,54.9 L256.1,53.9 L256.8,53.1 L257.5,52.3 L258.2,51.6 L258.9,51.0 L259.6,50.5 L260.3,50.1 L261.0,49.8 L261.7,49.6 L262.4,49.4 L263.1,49.2 L263.8,49.1 L264.5,49.0 L265.2,49.0 L265.9,49.1 L266.6,49.2 L267.3,49.4 L268.0,49.6 L268.7,49.8 L269.4,50.0 L270.1,50.2 L270.8,50.3 L271.5,50.4 L272.2,50.4 L272.9,50.4 L273.6,50.3 L274.3,50.2 L275.0,50.0 L275.7,49.7 L276.4,49.4 L277.1,49.0 L277.8,48.7 L278.5,48.3 L279.2,47.8 L279.9,47.4 L280.6,46.9 L281.3,46.4 L282.0,45.9 L282.7,45.5 L283.4,45.1 L284.1,44.7 L284.8,44.5 L285.5,44.2 L286.2,44.1 L286.9,44.0 L287.6,43.9 L288.3,44.0 L289.0,44.2 L289.7,44.4 L290.4,44.7 L291.1,45.1 L291.8,45.5 L292.5,45.9 L293.2,46.4 L293.9,46.9 L294.8,47.6" fill="none" stroke="#228b22" stroke-width="1" stroke-linejoin="round"/></g>
<path d="M219.7,19.2 V88.5 H294.8" fill="none" stroke="#b2b2b2" stroke-width="1"/>
<path d="M257.2,88.5 v-1 M294.8,88.5 v-1 " stroke="#b2b2b2" stroke-width="1" fill="none"/>
<g clip-path="url(#cD1)"><path d="M315.7,62.4 L316.4,62.3 L317.1,62.1 L317.8,62.0 L318.5,61.8 L319.2,61.6 L319.9,61.4 L320.6,61.2 L321.3,61.0 L322.0,60.8 L322.7,60.5 L323.4,60.2 L324.1,59.9 L324.8,59.5 L325.5,59.1 L326.2,58.7 L326.9,58.3 L327.6,57.8 L328.3,57.3 L329.0,56.8 L329.7,56.3 L330.4,55.8 L331.1,55.3 L331.8,54.7 L332.5,54.2 L333.2,53.6 L333.9,53.0 L334.6,52.2 L335.3,51.5 L336.0,50.6 L336.7,49.8 L337.4,48.9 L338.1,47.9 L338.8,47.0 L339.5,46.1 L340.2,45.1 L340.9,44.2 L341.6,43.2 L342.3,42.2 L343.0,41.3 L343.7,40.3 L344.4,39.3 L345.1,38.4 L345.8,37.4 L346.5,36.5 L347.2,35.6 L347.9,34.8 L348.6,34.0 L349.3,33.3 L350.0,32.6 L350.7,32.0 L351.4,31.6 L352.1,31.3 L352.8,31.0 L353.5,30.8 L354.2,30.7 L354.9,30.5 L355.6,30.5 L356.3,30.5 L357.0,30.6 L357.7,30.8 L358.4,31.0 L359.1,31.3 L359.8,31.7 L360.5,32.1 L361.2,32.6 L361.9,33.2 L362.6,33.8 L363.3,34.5 L364.0,35.2 L364.7,36.0 L365.4,36.8 L366.1,37.7 L366.8,38.7 L367.5,39.7 L368.2,40.8 L368.9,41.9 L369.6,43.0 L370.3,44.1 L371.0,45.2 L371.7,46.3 L372.4,47.4 L373.1,48.5 L373.8,49.6 L374.5,50.8 L375.2,52.0 L375.9,53.3 L376.6,54.7 L377.3,56.3 L378.0,57.9 L378.7,59.6 L379.4,61.2 L380.1,62.7 L380.8,64.1 L381.5,65.4 L382.2,66.7 L382.9,67.9 L383.6,68.9 L384.3,69.8 L385.0,70.6 L385.7,71.3 L386.4,72.0 L387.1,72.5 L387.8,73.0 L388.5,73.4 L389.2,73.8 L389.9,74.1 L390.8,74.3 L390.8,78.6 L389.9,78.3 L389.2,78.0 L388.5,77.7 L387.8,77.3 L387.1,76.9 L386.4,76.4 L385.7,76.0 L385.0,75.4 L384.3,74.8 L383.6,74.1 L382.9,73.3 L382.2,72.4 L381.5,71.4 L380.8,70.3 L380.1,69.1 L379.4,67.7 L378.7,66.1 L378.0,64.5 L377.3,62.9 L376.6,61.5 L375.9,60.1 L375.2,58.7 L374.5,57.5 L373.8,56.3 L373.1,55.1 L372.4,53.9 L371.7,52.7 L371.0,51.4 L370.3,50.2 L369.6,48.9 L368.9,47.7 L368.2,46.5 L367.5,45.2 L366.8,44.0 L366.1,42.9 L365.4,41.9 L364.7,40.8 L364.0,39.9 L363.3,39.0 L362.6,38.1 L361.9,37.3 L361.2,36.6 L360.5,36.0 L359.8,35.4 L359.1,35.0 L358.4,34.7 L357.7,34.4 L357.0,34.2 L356.3,34.2 L355.6,34.2 L354.9,34.3 L354.2,34.5 L353.5,34.8 L352.8,35.2 L352.1,35.7 L351.4,36.2 L350.7,36.9 L350.0,37.7 L349.3,38.5 L348.6,39.3 L347.9,40.2 L347.2,41.1 L346.5,42.0 L345.8,42.9 L345.1,43.9 L344.4,44.8 L343.7,45.8 L343.0,46.8 L342.3,47.8 L341.6,48.7 L340.9,49.7 L340.2,50.7 L339.5,51.6 L338.8,52.5 L338.1,53.4 L337.4,54.3 L336.7,55.2 L336.0,56.0 L335.3,56.8 L334.6,57.5 L333.9,58.1 L333.2,58.7 L332.5,59.2 L331.8,59.7 L331.1,60.2 L330.4,60.7 L329.7,61.1 L329.0,61.6 L328.3,62.1 L327.6,62.5 L326.9,62.9 L326.2,63.3 L325.5,63.7 L324.8,64.0 L324.1,64.4 L323.4,64.8 L322.7,65.1 L322.0,65.4 L321.3,65.8 L320.6,66.1 L319.9,66.3 L319.2,66.6 L318.5,66.9 L317.8,67.1 L317.1,67.3 L316.4,67.4 L315.7,67.6Z" fill="#b22222" fill-opacity="0.5"/><path d="M315.7,65.0 L316.4,64.8 L317.1,64.7 L317.8,64.5 L318.5,64.3 L319.2,64.1 L319.9,63.9 L320.6,63.7 L321.3,63.4 L322.0,63.1 L322.7,62.8 L323.4,62.5 L324.1,62.1 L324.8,61.8 L325.5,61.4 L326.2,61.0 L326.9,60.6 L327.6,60.2 L328.3,59.7 L329.0,59.2 L329.7,58.7 L330.4,58.2 L331.1,57.7 L331.8,57.2 L332.5,56.7 L333.2,56.1 L333.9,55.5 L334.6,54.9 L335.3,54.1 L336.0,53.3 L336.7,52.5 L337.4,51.6 L338.1,50.7 L338.8,49.8 L339.5,48.8 L340.2,47.9 L340.9,46.9 L341.6,46.0 L342.3,45.0 L343.0,44.0 L343.7,43.1 L344.4,42.1 L345.1,41.1 L345.8,40.2 L346.5,39.3 L347.2,38.4 L347.9,37.5 L348.6,36.7 L349.3,35.9 L350.0,35.2 L350.7,34.5 L351.4,33.9 L352.1,33.5 L352.8,33.1 L353.5,32.8 L354.2,32.6 L354.9,32.4 L355.6,32.3 L356.3,32.3 L357.0,32.4 L357.7,32.6 L358.4,32.8 L359.1,33.2 L359.8,33.6 L360.5,34.0 L361.2,34.6 L361.9,35.2 L362.6,35.9 L363.3,36.7 L364.0,37.6 L364.7,38.4 L365.4,39.3 L366.1,40.3 L366.8,41.3 L367.5,42.5 L368.2,43.6 L368.9,44.8 L369.6,46.0 L370.3,47.1 L371.0,48.3 L371.7,49.5 L372.4,50.6 L373.1,51.8 L373.8,53.0 L374.5,54.1 L375.2,55.3 L375.9,56.7 L376.6,58.1 L377.3,59.6 L378.0,61.2 L378.7,62.9 L379.4,64.4 L380.1,65.9 L380.8,67.2 L381.5,68.4 L382.2,69.6 L382.9,70.6 L383.6,71.5 L384.3,72.3 L385.0,73.0 L385.7,73.6 L386.4,74.2 L387.1,74.7 L387.8,75.1 L388.5,75.5 L389.2,75.9 L389.9,76.2 L390.8,76.5" fill="none" stroke="#b22222" stroke-width="1" stroke-linejoin="round"/><path d="M315.7,60.7 L316.4,60.5 L317.1,60.3 L317.8,60.1 L318.5,59.8 L319.2,59.5 L319.9,59.1 L320.6,58.8 L321.3,58.3 L322.0,57.9 L322.7,57.3 L323.4,56.8 L324.1,56.2 L324.8,55.6 L325.5,55.0 L326.2,54.4 L326.9,53.7 L327.6,52.9 L328.3,52.2 L329.0,51.4 L329.7,50.6 L330.4,49.7 L331.1,48.9 L331.8,48.0 L332.5,47.1 L333.2,46.2 L333.9,45.3 L334.6,44.4 L335.3,43.6 L336.0,42.7 L336.7,41.9 L337.4,41.0 L338.1,40.2 L338.8,39.4 L339.5,38.6 L340.2,37.9 L340.9,37.2 L341.6,36.6 L342.3,36.1 L343.0,35.6 L343.7,35.2 L344.4,34.8 L345.1,34.4 L345.8,34.1 L346.5,33.8 L347.2,33.6 L347.9,33.6 L348.6,33.6 L349.3,33.7 L350.0,33.9 L350.7,34.2 L351.4,34.5 L352.1,35.0 L352.8,35.4 L353.5,35.9 L354.2,36.4 L354.9,37.0 L355.6,37.6 L356.3,38.2 L357.0,39.0 L357.7,39.7 L358.4,40.6 L359.1,41.4 L359.8,42.3 L360.5,43.3 L361.2,44.3 L361.9,45.4 L362.6,46.5 L363.3,47.7 L364.0,48.8 L364.7,50.0 L365.4,51.2 L366.1,52.4 L366.8,53.6 L367.5,54.8 L368.2,56.1 L368.9,57.3 L369.6,58.6 L370.3,59.8 L371.0,61.0 L371.7,62.1 L372.4,63.2 L373.1,64.3 L373.8,65.3 L374.5,66.3 L375.2,67.3 L375.9,68.3 L376.6,69.3 L377.3,70.2 L378.0,71.0 L378.7,71.9 L379.4,72.7 L380.1,73.4 L380.8,74.1 L381.5,74.8 L382.2,75.4 L382.9,75.9 L383.6,76.5 L384.3,77.0 L385.0,77.4 L385.7,77.9 L386.4,78.3 L387.1,78.8 L387.8,79.2 L388.5,79.5 L389.2,79.9 L389.9,80.2 L390.8,80.6 L390.8,84.6 L389.9,84.3 L389.2,84.0 L388.5,83.7 L387.8,83.3 L387.1,83.0 L386.4,82.6 L385.7,82.3 L385.0,81.9 L384.3,81.6 L383.6,81.2 L382.9,80.8 L382.2,80.3 L381.5,79.8 L380.8,79.3 L380.1,78.8 L379.4,78.3 L378.7,77.6 L378.0,77.0 L377.3,76.2 L376.6,75.5 L375.9,74.6 L375.2,73.7 L374.5,72.8 L373.8,71.9 L373.1,70.9 L372.4,69.9 L371.7,68.8 L371.0,67.7 L370.3,66.5 L369.6,65.3 L368.9,64.1 L368.2,62.8 L367.5,61.6 L366.8,60.3 L366.1,59.1 L365.4,57.9 L364.7,56.7 L364.0,55.5 L363.3,54.3 L362.6,53.1 L361.9,51.9 L361.2,50.8 L360.5,49.6 L359.8,48.6 L359.1,47.6 L358.4,46.6 L357.7,45.7 L357.0,44.8 L356.3,44.0 L355.6,43.3 L354.9,42.6 L354.2,42.0 L353.5,41.4 L352.8,40.9 L352.1,40.5 L351.4,40.0 L350.7,39.7 L350.0,39.4 L349.3,39.2 L348.6,39.1 L347.9,39.1 L347.2,39.2 L346.5,39.4 L345.8,39.7 L345.1,40.1 L344.4,40.6 L343.7,41.2 L343.0,41.7 L342.3,42.3 L341.6,42.9 L340.9,43.6 L340.2,44.3 L339.5,45.1 L338.8,45.9 L338.1,46.7 L337.4,47.5 L336.7,48.3 L336.0,49.2 L335.3,50.0 L334.6,50.8 L333.9,51.7 L333.2,52.5 L332.5,53.4 L331.8,54.2 L331.1,55.0 L330.4,55.9 L329.7,56.6 L329.0,57.3 L328.3,58.0 L327.6,58.6 L326.9,59.2 L326.2,59.8 L325.5,60.3 L324.8,60.8 L324.1,61.3 L323.4,61.8 L322.7,62.2 L322.0,62.6 L321.3,63.0 L320.6,63.4 L319.9,63.7 L319.2,64.1 L318.5,64.3 L317.8,64.6 L317.1,64.9 L316.4,65.1 L315.7,65.3Z" fill="#228b22" fill-opacity="0.5"/><path d="M315.7,63.0 L316.4,62.8 L317.1,62.6 L317.8,62.3 L318.5,62.1 L319.2,61.8 L319.9,61.4 L320.6,61.1 L321.3,60.7 L322.0,60.2 L322.7,59.8 L323.4,59.3 L324.1,58.8 L324.8,58.2 L325.5,57.7 L326.2,57.1 L326.9,56.4 L327.6,55.8 L328.3,55.1 L329.0,54.4 L329.7,53.6 L330.4,52.8 L331.1,52.0 L331.8,51.1 L332.5,50.2 L333.2,49.4 L333.9,48.5 L334.6,47.6 L335.3,46.8 L336.0,45.9 L336.7,45.1 L337.4,44.3 L338.1,43.5 L338.8,42.7 L339.5,41.9 L340.2,41.1 L340.9,40.4 L341.6,39.8 L342.3,39.2 L343.0,38.7 L343.7,38.2 L344.4,37.7 L345.1,37.3 L345.8,36.9 L346.5,36.6 L347.2,36.4 L347.9,36.3 L348.6,36.3 L349.3,36.4 L350.0,36.6 L350.7,36.9 L351.4,37.3 L352.1,37.7 L352.8,38.2 L353.5,38.7 L354.2,39.2 L354.9,39.8 L355.6,40.4 L356.3,41.1 L357.0,41.9 L357.7,42.7 L358.4,43.6 L359.1,44.5 L359.8,45.4 L360.5,46.5 L361.2,47.6 L361.9,48.7 L362.6,49.8 L363.3,51.0 L364.0,52.2 L364.7,53.3 L365.4,54.5 L366.1,55.7 L366.8,57.0 L367.5,58.2 L368.2,59.5 L368.9,60.7 L369.6,62.0 L370.3,63.2 L371.0,64.3 L371.7,65.5 L372.4,66.5 L373.1,67.6 L373.8,68.6 L374.5,69.6 L375.2,70.5 L375.9,71.5 L376.6,72.4 L377.3,73.2 L378.0,74.0 L378.7,74.8 L379.4,75.5 L380.1,76.1 L380.8,76.7 L381.5,77.3 L382.2,77.8 L382.9,78.3 L383.6,78.8 L384.3,79.3 L385.0,79.7 L385.7,80.1 L386.4,80.5 L387.1,80.9 L387.8,81.2 L388.5,81.6 L389.2,81.9 L389.9,82.2 L390.8,82.6" fill="none" stroke="#228b22" stroke-width="1" stroke-linejoin="round"/></g>
<path d="M315.7,19.2 V88.5 H390.8" fill="none" stroke="#b2b2b2" stroke-width="1"/>
<path d="M353.3,88.5 v-1 M390.8,88.5 v-1 " stroke="#b2b2b2" stroke-width="1" fill="none"/>
<g clip-path="url(#cE1)"><path d="M411.8,59.6 L412.5,59.9 L413.2,60.1 L413.9,60.3 L414.6,60.4 L415.3,60.6 L416.0,60.8 L416.7,61.0 L417.4,61.1 L418.1,61.3 L418.8,61.4 L419.5,61.5 L420.2,61.6 L420.9,61.7 L421.6,61.7 L422.3,61.8 L423.0,61.8 L423.7,61.8 L424.4,61.7 L425.1,61.5 L425.8,61.3 L426.5,61.0 L427.2,60.7 L427.9,60.2 L428.6,59.7 L429.3,59.1 L430.0,58.4 L430.7,57.5 L431.4,56.5 L432.1,55.5 L432.8,54.4 L433.5,53.4 L434.2,52.3 L434.9,51.3 L435.6,50.2 L436.3,49.1 L437.0,48.0 L437.7,46.8 L438.4,45.6 L439.1,44.4 L439.8,43.3 L440.5,42.1 L441.2,41.0 L441.9,40.1 L442.6,39.2 L443.3,38.3 L444.0,37.5 L444.7,36.7 L445.4,35.8 L446.1,35.0 L446.8,34.1 L447.5,33.3 L448.2,32.4 L448.9,31.6 L449.6,30.7 L450.3,29.7 L451.0,28.6 L451.7,27.3 L452.4,26.0 L453.1,24.8 L453.8,23.6 L454.5,22.5 L455.2,21.6 L455.9,20.8 L456.6,20.1 L457.3,19.7 L458.0,19.4 L458.7,19.3 L459.4,19.2 L460.1,19.2 L460.8,19.3 L461.5,19.4 L462.2,19.5 L462.9,19.6 L463.6,19.9 L464.3,20.2 L465.0,20.6 L465.7,21.0 L466.4,21.3 L467.1,21.6 L467.8,22.0 L468.5,22.3 L469.2,22.6 L469.9,23.0 L470.6,23.3 L471.3,23.4 L472.0,23.2 L472.7,23.0 L473.4,22.7 L474.1,22.6 L474.8,22.7 L475.5,23.0 L476.2,23.3 L476.9,23.7 L477.6,24.1 L478.3,24.5 L479.0,24.9 L479.7,25.4 L480.4,25.8 L481.1,26.3 L481.8,26.8 L482.5,27.3 L483.2,27.7 L483.9,28.1 L484.6,28.5 L485.3,28.9 L486.0,29.3 L486.9,29.8 L486.9,43.9 L486.0,43.5 L485.3,43.1 L484.6,42.7 L483.9,42.3 L483.2,41.9 L482.5,41.5 L481.8,41.0 L481.1,40.5 L480.4,40.0 L479.7,39.5 L479.0,39.1 L478.3,38.7 L477.6,38.4 L476.9,38.1 L476.2,37.8 L475.5,37.6 L474.8,37.4 L474.1,37.3 L473.4,37.4 L472.7,37.5 L472.0,37.6 L471.3,37.6 L470.6,37.4 L469.9,37.2 L469.2,36.8 L468.5,36.5 L467.8,36.1 L467.1,35.8 L466.4,35.5 L465.7,35.2 L465.0,35.0 L464.3,34.7 L463.6,34.5 L462.9,34.3 L462.2,34.1 L461.5,33.9 L460.8,33.8 L460.1,33.7 L459.4,33.7 L458.7,33.8 L458.0,34.0 L457.3,34.2 L456.6,34.5 L455.9,34.8 L455.2,35.2 L454.5,35.6 L453.8,36.1 L453.1,36.6 L452.4,37.0 L451.7,37.5 L451.0,38.0 L450.3,38.6 L449.6,39.2 L448.9,39.9 L448.2,40.7 L447.5,41.6 L446.8,42.5 L446.1,43.5 L445.4,44.6 L444.7,45.6 L444.0,46.7 L443.3,47.8 L442.6,49.0 L441.9,50.1 L441.2,51.2 L440.5,52.4 L439.8,53.6 L439.1,54.7 L438.4,55.9 L437.7,57.1 L437.0,58.2 L436.3,59.3 L435.6,60.4 L434.9,61.4 L434.2,62.4 L433.5,63.3 L432.8,64.2 L432.1,65.1 L431.4,66.0 L430.7,66.8 L430.0,67.6 L429.3,68.3 L428.6,69.0 L427.9,69.5 L427.2,70.0 L426.5,70.4 L425.8,70.7 L425.1,70.9 L424.4,71.1 L423.7,71.3 L423.0,71.4 L422.3,71.5 L421.6,71.5 L420.9,71.5 L420.2,71.5 L419.5,71.5 L418.8,71.5 L418.1,71.5 L417.4,71.5 L416.7,71.5 L416.0,71.4 L415.3,71.3 L414.6,71.3 L413.9,71.2 L413.2,71.1 L412.5,71.0 L411.8,70.9Z" fill="#b22222" fill-opacity="0.5"/><path d="M411.8,65.3 L412.5,65.4 L413.2,65.5 L413.9,65.6 L414.6,65.7 L415.3,65.9 L416.0,66.0 L416.7,66.1 L417.4,66.2 L418.1,66.3 L418.8,66.3 L419.5,66.4 L420.2,66.5 L420.9,66.5 L421.6,66.6 L422.3,66.6 L423.0,66.6 L423.7,66.6 L424.4,66.5 L425.1,66.3 L425.8,66.1 L426.5,65.8 L427.2,65.5 L427.9,65.1 L428.6,64.7 L429.3,64.1 L430.0,63.4 L430.7,62.6 L431.4,61.6 L432.1,60.7 L432.8,59.7 L433.5,58.7 L434.2,57.6 L434.9,56.5 L435.6,55.4 L436.3,54.2 L437.0,53.0 L437.7,51.8 L438.4,50.6 L439.1,49.3 L439.8,48.1 L440.5,46.8 L441.2,45.6 L441.9,44.4 L442.6,43.3 L443.3,42.1 L444.0,41.0 L444.7,39.9 L445.4,38.9 L446.1,37.8 L446.8,36.8 L447.5,35.9 L448.2,35.0 L448.9,34.2 L449.6,33.4 L450.3,32.7 L451.0,32.0 L451.7,31.3 L452.4,30.7 L453.1,30.1 L453.8,29.5 L454.5,29.0 L455.2,28.5 L455.9,28.0 L456.6,27.6 L457.3,27.2 L458.0,26.8 L458.7,26.5 L459.4,26.3 L460.1,26.1 L460.8,26.1 L461.5,26.2 L462.2,26.4 L462.9,26.8 L463.6,27.1 L464.3,27.4 L465.0,27.7 L465.7,28.1 L466.4,28.4 L467.1,28.7 L467.8,29.0 L468.5,29.4 L469.2,29.7 L469.9,30.0 L470.6,30.4 L471.3,30.5 L472.0,30.4 L472.7,30.2 L473.4,30.0 L474.1,29.8 L474.8,29.8 L475.5,29.9 L476.2,30.0 L476.9,30.2 L477.6,30.4 L478.3,30.7 L479.0,31.1 L479.7,31.6 L480.4,32.2 L481.1,32.8 L481.8,33.4 L482.5,34.0 L483.2,34.5 L483.9,35.0 L484.6,35.4 L485.3,35.9 L486.0,36.3 L486.9,36.9" fill="none" stroke="#b22222" stroke-width="1" stroke-linejoin="round"/><path d="M411.8,86.4 L412.5,86.0 L413.2,85.5 L413.9,85.0 L414.6,84.3 L415.3,83.6 L416.0,82.8 L416.7,81.9 L417.4,81.0 L418.1,80.1 L418.8,79.1 L419.5,78.0 L420.2,76.8 L420.9,75.7 L421.6,74.5 L422.3,73.4 L423.0,72.2 L423.7,71.0 L424.4,69.8 L425.1,68.5 L425.8,67.3 L426.5,66.1 L427.2,64.8 L427.9,63.4 L428.6,62.0 L429.3,60.6 L430.0,59.2 L430.7,57.7 L431.4,56.3 L432.1,54.8 L432.8,53.4 L433.5,52.0 L434.2,50.5 L434.9,49.1 L435.6,47.7 L436.3,46.3 L437.0,44.9 L437.7,43.5 L438.4,42.1 L439.1,40.7 L439.8,39.4 L440.5,38.2 L441.2,37.2 L441.9,36.3 L442.6,35.5 L443.3,34.8 L444.0,34.2 L444.7,33.7 L445.4,33.2 L446.1,32.8 L446.8,32.4 L447.5,32.2 L448.2,31.9 L448.9,31.8 L449.6,31.7 L450.3,31.7 L451.0,31.6 L451.7,31.6 L452.4,31.6 L453.1,31.7 L453.8,31.8 L454.5,31.9 L455.2,32.0 L455.9,32.2 L456.6,32.3 L457.3,32.5 L458.0,32.7 L458.7,32.9 L459.4,33.1 L460.1,33.3 L460.8,33.6 L461.5,33.9 L462.2,34.2 L462.9,34.5 L463.6,34.8 L464.3,35.1 L465.0,35.5 L465.7,35.9 L466.4,36.3 L467.1,36.8 L467.8,37.3 L468.5,37.8 L469.2,38.4 L469.9,39.0 L470.6,39.8 L471.3,40.6 L472.0,41.5 L472.7,42.4 L473.4,43.2 L474.1,44.0 L474.8,44.7 L475.5,45.4 L476.2,46.0 L476.9,46.5 L477.6,46.8 L478.3,46.9 L479.0,46.8 L479.7,46.7 L480.4,46.5 L481.1,46.2 L481.8,46.0 L482.5,45.7 L483.2,45.4 L483.9,45.1 L484.6,44.8 L485.3,44.5 L486.0,44.2 L486.9,43.8 L486.9,51.6 L486.0,52.0 L485.3,52.3 L484.6,52.6 L483.9,53.0 L483.2,53.4 L482.5,53.8 L481.8,54.3 L481.1,54.8 L480.4,55.3 L479.7,55.8 L479.0,56.2 L478.3,56.4 L477.6,56.4 L476.9,56.3 L476.2,56.1 L475.5,55.7 L474.8,55.3 L474.1,54.8 L473.4,54.2 L472.7,53.7 L472.0,53.1 L471.3,52.4 L470.6,51.7 L469.9,50.9 L469.2,50.1 L468.5,49.3 L467.8,48.5 L467.1,47.7 L466.4,46.9 L465.7,46.2 L465.0,45.4 L464.3,44.7 L463.6,44.0 L462.9,43.4 L462.2,42.7 L461.5,42.0 L460.8,41.4 L460.1,40.8 L459.4,40.3 L458.7,39.8 L458.0,39.3 L457.3,38.8 L456.6,38.5 L455.9,38.2 L455.2,38.0 L454.5,37.8 L453.8,37.7 L453.1,37.7 L452.4,37.7 L451.7,37.7 L451.0,37.8 L450.3,37.9 L449.6,38.2 L448.9,38.4 L448.2,38.8 L447.5,39.2 L446.8,39.6 L446.1,40.2 L445.4,40.8 L444.7,41.4 L444.0,42.1 L443.3,42.8 L442.6,43.5 L441.9,44.3 L441.2,45.3 L440.5,46.3 L439.8,47.4 L439.1,48.7 L438.4,50.0 L437.7,51.3 L437.0,52.6 L436.3,53.9 L435.6,55.3 L434.9,56.6 L434.2,58.0 L433.5,59.3 L432.8,60.7 L432.1,62.1 L431.4,63.5 L430.7,64.8 L430.0,66.2 L429.3,67.6 L428.6,68.9 L427.9,70.2 L427.2,71.5 L426.5,72.7 L425.8,73.9 L425.1,75.1 L424.4,76.3 L423.7,77.5 L423.0,78.7 L422.3,79.9 L421.6,81.1 L420.9,82.2 L420.2,83.4 L419.5,84.5 L418.8,85.5 L418.1,86.2 L417.4,86.7 L416.7,87.1 L416.0,87.4 L415.3,87.6 L414.6,87.8 L413.9,88.0 L413.2,88.1 L412.5,88.1 L411.8,88.0Z" fill="#228b22" fill-opacity="0.5"/><path d="M411.8,87.3 L412.5,87.3 L413.2,87.1 L413.9,86.8 L414.6,86.4 L415.3,85.9 L416.0,85.2 L416.7,84.5 L417.4,83.7 L418.1,82.9 L418.8,81.9 L419.5,80.8 L420.2,79.6 L420.9,78.5 L421.6,77.3 L422.3,76.1 L423.0,75.0 L423.7,73.8 L424.4,72.7 L425.1,71.5 L425.8,70.4 L426.5,69.2 L427.2,68.1 L427.9,66.8 L428.6,65.5 L429.3,64.2 L430.0,62.8 L430.7,61.4 L431.4,59.9 L432.1,58.5 L432.8,57.1 L433.5,55.6 L434.2,54.2 L434.9,52.8 L435.6,51.4 L436.3,50.0 L437.0,48.6 L437.7,47.2 L438.4,45.8 L439.1,44.4 L439.8,43.1 L440.5,41.9 L441.2,40.8 L441.9,39.9 L442.6,39.1 L443.3,38.4 L444.0,37.7 L444.7,37.1 L445.4,36.5 L446.1,36.0 L446.8,35.5 L447.5,35.2 L448.2,34.8 L448.9,34.6 L449.6,34.6 L450.3,34.5 L451.0,34.5 L451.7,34.5 L452.4,34.5 L453.1,34.5 L453.8,34.6 L454.5,34.7 L455.2,34.8 L455.9,34.9 L456.6,35.1 L457.3,35.3 L458.0,35.5 L458.7,35.8 L459.4,36.2 L460.1,36.7 L460.8,37.2 L461.5,37.8 L462.2,38.4 L462.9,39.1 L463.6,39.8 L464.3,40.5 L465.0,41.2 L465.7,41.9 L466.4,42.6 L467.1,43.4 L467.8,44.2 L468.5,45.0 L469.2,45.9 L469.9,46.7 L470.6,47.4 L471.3,48.1 L472.0,48.7 L472.7,49.2 L473.4,49.6 L474.1,50.1 L474.8,50.5 L475.5,50.9 L476.2,51.2 L476.9,51.5 L477.6,51.7 L478.3,51.8 L479.0,51.6 L479.7,51.3 L480.4,51.0 L481.1,50.7 L481.8,50.3 L482.5,50.0 L483.2,49.7 L483.9,49.4 L484.6,49.1 L485.3,48.8 L486.0,48.5 L486.9,48.2" fill="none" stroke="#228b22" stroke-width="1" stroke-linejoin="round"/></g>
<path d="M411.8,19.2 V88.5 H486.9" fill="none" stroke="#b2b2b2" stroke-width="1"/>
<path d="M449.4,88.5 v-1 M486.9,88.5 v-1 " stroke="#b2b2b2" stroke-width="1" fill="none"/>
<g clip-path="url(#cF1)"><path d="M507.9,31.6 L508.6,31.8 L509.3,32.1 L510.0,32.4 L510.7,32.7 L511.4,32.9 L512.1,33.2 L512.8,33.5 L513.5,33.7 L514.2,33.9 L514.9,34.2 L515.6,34.5 L516.3,34.9 L517.0,35.4 L517.7,36.0 L518.4,36.6 L519.1,37.2 L519.8,37.9 L520.5,38.7 L521.2,39.5 L521.9,40.4 L522.6,41.3 L523.3,42.3 L524.0,43.3 L524.7,44.4 L525.4,45.5 L526.1,46.7 L526.8,47.9 L527.5,49.2 L528.2,50.6 L528.9,52.0 L529.6,53.5 L530.3,54.9 L531.0,56.4 L531.7,57.8 L532.4,59.3 L533.1,60.7 L533.8,62.2 L534.5,63.6 L535.2,65.1 L535.9,66.6 L536.6,68.2 L537.3,69.8 L538.0,71.3 L538.7,72.8 L539.4,74.3 L540.1,75.6 L540.8,76.8 L541.5,77.9 L542.2,78.9 L542.9,79.8 L543.6,80.6 L544.3,81.1 L545.0,81.6 L545.7,81.9 L546.4,82.1 L547.1,82.2 L547.8,82.1 L548.5,82.0 L549.2,81.8 L549.9,81.3 L550.6,80.7 L551.3,79.7 L552.0,78.6 L552.7,77.4 L553.4,76.1 L554.1,74.7 L554.8,73.2 L555.5,71.6 L556.2,70.1 L556.9,68.6 L557.6,67.0 L558.3,65.5 L559.0,63.9 L559.7,62.4 L560.4,60.9 L561.1,59.3 L561.8,57.8 L562.5,56.3 L563.2,54.8 L563.9,53.5 L564.6,52.4 L565.3,51.3 L566.0,50.3 L566.7,49.1 L567.4,47.9 L568.1,46.7 L568.8,45.7 L569.5,44.8 L570.2,44.1 L570.9,43.5 L571.6,43.0 L572.3,42.5 L573.0,42.1 L573.7,41.7 L574.4,41.3 L575.1,41.0 L575.8,40.7 L576.5,40.5 L577.2,40.3 L577.9,40.1 L578.6,40.0 L579.3,39.9 L580.0,39.8 L580.7,39.7 L581.4,39.7 L582.1,39.7 L583.0,39.7 L583.0,44.9 L582.1,44.9 L581.4,44.9 L580.7,45.0 L580.0,45.1 L579.3,45.3 L578.6,45.6 L577.9,45.9 L577.2,46.3 L576.5,46.7 L575.8,47.1 L575.1,47.5 L574.4,48.0 L573.7,48.6 L573.0,49.3 L572.3,50.1 L571.6,51.0 L570.9,51.9 L570.2,52.8 L569.5,53.7 L568.8,54.5 L568.1,55.3 L567.4,56.4 L566.7,57.9 L566.0,59.4 L565.3,61.0 L564.6,62.5 L563.9,64.1 L563.2,65.6 L562.5,67.1 L561.8,68.7 L561.1,70.2 L560.4,71.8 L559.7,73.3 L559.0,74.8 L558.3,76.4 L557.6,77.9 L556.9,79.5 L556.2,81.0 L555.5,82.5 L554.8,84.0 L554.1,85.4 L553.4,86.6 L552.7,87.6 L552.0,88.4 L551.3,89.0 L550.6,89.4 L549.9,89.7 L549.2,89.9 L548.5,89.9 L547.8,90.0 L547.1,90.0 L546.4,90.0 L545.7,90.0 L545.0,90.0 L544.3,89.9 L543.6,89.8 L542.9,89.5 L542.2,89.1 L541.5,88.6 L540.8,87.9 L540.1,87.0 L539.4,85.9 L538.7,84.8 L538.0,83.7 L537.3,82.4 L536.6,81.2 L535.9,80.0 L535.2,78.7 L534.5,77.4 L533.8,76.1 L533.1,74.6 L532.4,73.2 L531.7,71.6 L531.0,70.1 L530.3,68.6 L529.6,67.0 L528.9,65.5 L528.2,64.1 L527.5,62.6 L526.8,61.2 L526.1,59.8 L525.4,58.4 L524.7,57.0 L524.0,55.7 L523.3,54.4 L522.6,53.2 L521.9,52.1 L521.2,51.0 L520.5,50.1 L519.8,49.1 L519.1,48.3 L518.4,47.4 L517.7,46.7 L517.0,45.9 L516.3,45.2 L515.6,44.5 L514.9,43.9 L514.2,43.3 L513.5,42.7 L512.8,42.2 L512.1,41.7 L511.4,41.3 L510.7,40.9 L510.0,40.6 L509.3,40.4 L508.6,40.2 L507.9,40.0Z" fill="#b22222" fill-opacity="0.5"/><path d="M507.9,35.4 L508.6,35.4 L509.3,35.5 L510.0,35.7 L510.7,35.8 L511.4,36.0 L512.1,36.3 L512.8,36.6 L513.5,36.9 L514.2,37.3 L514.9,37.7 L515.6,38.2 L516.3,38.8 L517.0,39.4 L517.7,40.1 L518.4,40.8 L519.1,41.5 L519.8,42.3 L520.5,43.2 L521.2,44.1 L521.9,45.1 L522.6,46.1 L523.3,47.2 L524.0,48.3 L524.7,49.6 L525.4,50.8 L526.1,52.0 L526.8,53.2 L527.5,54.5 L528.2,55.7 L528.9,57.1 L529.6,58.5 L530.3,59.9 L531.0,61.3 L531.7,62.7 L532.4,64.1 L533.1,65.5 L533.8,66.9 L534.5,68.3 L535.2,69.7 L535.9,71.1 L536.6,72.5 L537.3,73.9 L538.0,75.3 L538.7,76.6 L539.4,77.7 L540.1,78.8 L540.8,79.8 L541.5,80.8 L542.2,81.8 L542.9,82.6 L543.6,83.3 L544.3,83.9 L545.0,84.3 L545.7,84.5 L546.4,84.6 L547.1,84.6 L547.8,84.5 L548.5,84.3 L549.2,84.0 L549.9,83.5 L550.6,82.9 L551.3,82.1 L552.0,81.2 L552.7,80.2 L553.4,79.0 L554.1,77.7 L554.8,76.4 L555.5,75.0 L556.2,73.6 L556.9,72.2 L557.6,70.7 L558.3,69.2 L559.0,67.6 L559.7,66.1 L560.4,64.5 L561.1,63.0 L561.8,61.5 L562.5,59.9 L563.2,58.4 L563.9,56.9 L564.6,55.4 L565.3,54.0 L566.0,53.0 L566.7,52.4 L567.4,51.8 L568.1,51.0 L568.8,50.0 L569.5,49.1 L570.2,48.2 L570.9,47.4 L571.6,46.7 L572.3,46.0 L573.0,45.4 L573.7,44.9 L574.4,44.4 L575.1,43.9 L575.8,43.5 L576.5,43.2 L577.2,42.9 L577.9,42.7 L578.6,42.4 L579.3,42.3 L580.0,42.1 L580.7,42.0 L581.4,41.9 L582.1,41.9 L583.0,41.8" fill="none" stroke="#b22222" stroke-width="1" stroke-linejoin="round"/><path d="M507.9,21.6 L508.6,21.3 L509.3,21.0 L510.0,20.9 L510.7,20.8 L511.4,20.9 L512.1,21.0 L512.8,21.3 L513.5,21.8 L514.2,22.4 L514.9,23.0 L515.6,23.8 L516.3,24.6 L517.0,25.4 L517.7,26.3 L518.4,27.1 L519.1,28.0 L519.8,29.0 L520.5,29.9 L521.2,30.9 L521.9,32.0 L522.6,33.3 L523.3,34.7 L524.0,36.1 L524.7,37.5 L525.4,38.9 L526.1,40.3 L526.8,41.7 L527.5,43.1 L528.2,44.5 L528.9,45.9 L529.6,47.3 L530.3,48.7 L531.0,49.9 L531.7,50.9 L532.4,51.7 L533.1,52.6 L533.8,53.5 L534.5,54.5 L535.2,55.6 L535.9,56.7 L536.6,57.8 L537.3,58.8 L538.0,59.8 L538.7,60.8 L539.4,61.6 L540.1,62.3 L540.8,62.9 L541.5,63.3 L542.2,63.7 L542.9,63.9 L543.6,64.0 L544.3,64.0 L545.0,63.9 L545.7,63.7 L546.4,63.5 L547.1,63.3 L547.8,62.9 L548.5,62.4 L549.2,61.9 L549.9,61.3 L550.6,60.6 L551.3,60.0 L552.0,59.3 L552.7,58.6 L553.4,57.8 L554.1,57.1 L554.8,56.3 L555.5,55.5 L556.2,54.7 L556.9,53.9 L557.6,53.0 L558.3,52.1 L559.0,51.1 L559.7,50.1 L560.4,49.0 L561.1,48.1 L561.8,47.1 L562.5,46.2 L563.2,45.3 L563.9,44.3 L564.6,43.4 L565.3,42.5 L566.0,41.6 L566.7,40.7 L567.4,40.0 L568.1,39.3 L568.8,38.8 L569.5,38.3 L570.2,37.9 L570.9,37.5 L571.6,37.2 L572.3,36.9 L573.0,36.7 L573.7,36.5 L574.4,36.3 L575.1,36.1 L575.8,36.0 L576.5,35.9 L577.2,35.8 L577.9,35.8 L578.6,35.8 L579.3,35.8 L580.0,35.8 L580.7,35.9 L581.4,35.9 L582.1,36.0 L583.0,36.2 L583.0,40.0 L582.1,39.8 L581.4,39.8 L580.7,39.7 L580.0,39.8 L579.3,39.8 L578.6,40.0 L577.9,40.1 L577.2,40.4 L576.5,40.6 L575.8,40.9 L575.1,41.3 L574.4,41.7 L573.7,42.1 L573.0,42.5 L572.3,43.0 L571.6,43.4 L570.9,43.9 L570.2,44.5 L569.5,45.0 L568.8,45.6 L568.1,46.2 L567.4,46.9 L566.7,47.7 L566.0,48.5 L565.3,49.4 L564.6,50.5 L563.9,51.8 L563.2,53.0 L562.5,54.1 L561.8,54.9 L561.1,55.7 L560.4,56.5 L559.7,57.4 L559.0,58.2 L558.3,59.0 L557.6,59.8 L556.9,60.6 L556.2,61.4 L555.5,62.3 L554.8,63.1 L554.1,63.9 L553.4,64.7 L552.7,65.5 L552.0,66.2 L551.3,66.8 L550.6,67.4 L549.9,67.9 L549.2,68.4 L548.5,68.9 L547.8,69.3 L547.1,69.6 L546.4,69.9 L545.7,70.1 L545.0,70.3 L544.3,70.4 L543.6,70.4 L542.9,70.3 L542.2,70.1 L541.5,69.9 L540.8,69.5 L540.1,69.2 L539.4,68.8 L538.7,68.3 L538.0,67.7 L537.3,67.0 L536.6,66.2 L535.9,65.1 L535.2,64.1 L534.5,63.0 L533.8,62.0 L533.1,60.9 L532.4,59.9 L531.7,58.8 L531.0,57.8 L530.3,56.8 L529.6,55.7 L528.9,54.7 L528.2,53.7 L527.5,52.6 L526.8,51.5 L526.1,50.3 L525.4,49.1 L524.7,47.8 L524.0,46.5 L523.3,45.2 L522.6,44.0 L521.9,42.7 L521.2,41.5 L520.5,40.3 L519.8,39.1 L519.1,37.9 L518.4,36.9 L517.7,36.0 L517.0,35.2 L516.3,34.6 L515.6,34.0 L514.9,33.6 L514.2,33.5 L513.5,33.7 L512.8,34.3 L512.1,35.0 L511.4,35.7 L510.7,36.5 L510.0,37.4 L509.3,38.2 L508.6,39.1 L507.9,40.0Z" fill="#228b22" fill-opacity="0.5"/><path d="M507.9,31.6 L508.6,30.8 L509.3,30.2 L510.0,29.7 L510.7,29.2 L511.4,28.7 L512.1,28.4 L512.8,28.2 L513.5,28.2 L514.2,28.4 L514.9,28.8 L515.6,29.3 L516.3,29.9 L517.0,30.7 L517.7,31.4 L518.4,32.3 L519.1,33.3 L519.8,34.5 L520.5,35.7 L521.2,36.9 L521.9,38.1 L522.6,39.4 L523.3,40.6 L524.0,41.9 L524.7,43.2 L525.4,44.4 L526.1,45.7 L526.8,46.9 L527.5,48.2 L528.2,49.4 L528.9,50.6 L529.6,51.7 L530.3,52.9 L531.0,54.1 L531.7,55.1 L532.4,56.2 L533.1,57.2 L533.8,58.2 L534.5,59.2 L535.2,60.2 L535.9,61.1 L536.6,62.0 L537.3,62.8 L538.0,63.6 L538.7,64.3 L539.4,65.0 L540.1,65.6 L540.8,66.0 L541.5,66.4 L542.2,66.6 L542.9,66.7 L543.6,66.8 L544.3,66.8 L545.0,66.8 L545.7,66.7 L546.4,66.5 L547.1,66.3 L547.8,65.9 L548.5,65.5 L549.2,65.0 L549.9,64.4 L550.6,63.8 L551.3,63.2 L552.0,62.6 L552.7,61.9 L553.4,61.2 L554.1,60.5 L554.8,59.7 L555.5,59.0 L556.2,58.2 L556.9,57.5 L557.6,56.7 L558.3,56.0 L559.0,55.3 L559.7,54.6 L560.4,53.9 L561.1,53.2 L561.8,52.5 L562.5,51.6 L563.2,50.7 L563.9,50.0 L564.6,49.3 L565.3,48.6 L566.0,47.9 L566.7,47.2 L567.4,46.5 L568.1,45.8 L568.8,45.1 L569.5,44.4 L570.2,43.9 L570.9,43.3 L571.6,42.7 L572.3,42.1 L573.0,41.6 L573.7,41.1 L574.4,40.6 L575.1,40.2 L575.8,39.8 L576.5,39.4 L577.2,39.1 L577.9,38.9 L578.6,38.6 L579.3,38.5 L580.0,38.3 L580.7,38.3 L581.4,38.2 L582.1,38.2 L583.0,38.2" fill="none" stroke="#228b22" stroke-width="1" stroke-linejoin="round"/></g>
<path d="M507.9,19.2 V88.5 H583.0" fill="none" stroke="#b2b2b2" stroke-width="1"/>
<path d="M545.5,88.5 v-1 M583.0,88.5 v-1 " stroke="#b2b2b2" stroke-width="1" fill="none"/>
<g clip-path="url(#cG1)"><path d="M604.0,57.3 L604.7,57.2 L605.4,57.1 L606.1,57.0 L606.8,56.9 L607.5,56.8 L608.2,56.7 L608.9,56.6 L609.6,56.5 L610.3,56.4 L611.0,56.3 L611.7,56.2 L612.4,56.2 L613.1,56.1 L613.8,56.1 L614.5,56.0 L615.2,55.9 L615.9,55.8 L616.6,55.7 L617.3,55.6 L618.0,55.4 L618.7,55.2 L619.4,55.0 L620.1,54.7 L620.8,54.3 L621.5,53.9 L622.2,53.4 L622.9,52.9 L623.6,52.3 L624.3,51.8 L625.0,51.3 L625.7,50.7 L626.4,50.2 L627.1,49.6 L627.8,49.1 L628.5,48.5 L629.2,48.0 L629.9,47.4 L630.6,46.8 L631.3,46.3 L632.0,45.7 L632.7,45.2 L633.4,44.7 L634.1,44.3 L634.8,43.9 L635.5,43.7 L636.2,43.5 L636.9,43.4 L637.6,43.3 L638.3,43.3 L639.0,43.3 L639.7,43.4 L640.4,43.6 L641.1,43.8 L641.8,44.2 L642.5,44.5 L643.2,44.9 L643.9,45.3 L644.6,45.6 L645.3,46.1 L646.0,46.5 L646.7,46.9 L647.4,47.4 L648.1,47.9 L648.8,48.4 L649.5,48.9 L650.2,49.2 L650.9,49.5 L651.6,49.5 L652.3,49.5 L653.0,49.4 L653.7,49.2 L654.4,48.9 L655.1,48.6 L655.8,48.2 L656.5,47.8 L657.2,47.2 L657.9,46.5 L658.6,45.6 L659.3,44.7 L660.0,43.7 L660.7,42.7 L661.4,41.7 L662.1,40.7 L662.8,39.7 L663.5,38.6 L664.2,37.5 L664.9,36.4 L665.6,35.3 L666.3,34.3 L667.0,33.2 L667.7,32.4 L668.4,31.7 L669.1,31.3 L669.8,31.1 L670.5,31.2 L671.2,31.4 L671.9,31.7 L672.6,31.9 L673.3,32.1 L674.0,32.3 L674.7,32.5 L675.4,32.7 L676.1,32.8 L676.8,33.0 L677.5,33.1 L678.2,33.3 L679.1,33.5 L679.1,44.8 L678.2,43.9 L677.5,43.3 L676.8,42.7 L676.1,42.1 L675.4,41.5 L674.7,40.9 L674.0,40.3 L673.3,39.7 L672.6,39.1 L671.9,38.6 L671.2,38.2 L670.5,38.0 L669.8,38.0 L669.1,38.5 L668.4,39.2 L667.7,40.2 L667.0,41.2 L666.3,42.2 L665.6,43.3 L664.9,44.4 L664.2,45.5 L663.5,46.6 L662.8,47.6 L662.1,48.6 L661.4,49.6 L660.7,50.5 L660.0,51.4 L659.3,52.2 L658.6,53.0 L657.9,53.7 L657.2,54.3 L656.5,54.8 L655.8,55.2 L655.1,55.5 L654.4,55.8 L653.7,56.0 L653.0,56.2 L652.3,56.3 L651.6,56.3 L650.9,56.2 L650.2,56.0 L649.5,55.7 L648.8,55.2 L648.1,54.7 L647.4,54.2 L646.7,53.7 L646.0,53.3 L645.3,52.9 L644.6,52.5 L643.9,52.1 L643.2,51.7 L642.5,51.3 L641.8,51.0 L641.1,50.7 L640.4,50.4 L639.7,50.2 L639.0,50.1 L638.3,50.0 L637.6,50.1 L636.9,50.2 L636.2,50.5 L635.5,50.8 L634.8,51.1 L634.1,51.6 L633.4,52.0 L632.7,52.5 L632.0,53.1 L631.3,53.6 L630.6,54.2 L629.9,54.8 L629.2,55.4 L628.5,55.9 L627.8,56.5 L627.1,57.0 L626.4,57.5 L625.7,58.1 L625.0,58.6 L624.3,59.0 L623.6,59.5 L622.9,59.9 L622.2,60.3 L621.5,60.7 L620.8,61.0 L620.1,61.2 L619.4,61.4 L618.7,61.6 L618.0,61.8 L617.3,61.9 L616.6,62.0 L615.9,62.1 L615.2,62.2 L614.5,62.2 L613.8,62.3 L613.1,62.4 L612.4,62.4 L611.7,62.5 L611.0,62.6 L610.3,62.6 L609.6,62.7 L608.9,62.8 L608.2,62.9 L607.5,63.0 L606.8,63.1 L606.1,63.2 L605.4,63.3 L604.7,63.4 L604.0,63.5Z" fill="#b22222" fill-opacity="0.5"/><path d="M604.0,60.4 L604.7,60.3 L605.4,60.2 L606.1,60.1 L606.8,60.0 L607.5,59.9 L608.2,59.8 L608.9,59.7 L609.6,59.6 L610.3,59.5 L611.0,59.4 L611.7,59.4 L612.4,59.3 L613.1,59.2 L613.8,59.2 L614.5,59.1 L615.2,59.0 L615.9,59.0 L616.6,58.9 L617.3,58.8 L618.0,58.6 L618.7,58.4 L619.4,58.2 L620.1,57.9 L620.8,57.6 L621.5,57.3 L622.2,56.8 L622.9,56.4 L623.6,55.9 L624.3,55.4 L625.0,54.9 L625.7,54.4 L626.4,53.9 L627.1,53.3 L627.8,52.8 L628.5,52.2 L629.2,51.7 L629.9,51.1 L630.6,50.5 L631.3,50.0 L632.0,49.4 L632.7,48.9 L633.4,48.3 L634.1,47.9 L634.8,47.5 L635.5,47.2 L636.2,47.0 L636.9,46.8 L637.6,46.7 L638.3,46.7 L639.0,46.7 L639.7,46.8 L640.4,47.0 L641.1,47.2 L641.8,47.6 L642.5,47.9 L643.2,48.3 L643.9,48.7 L644.6,49.1 L645.3,49.5 L646.0,49.9 L646.7,50.3 L647.4,50.8 L648.1,51.3 L648.8,51.8 L649.5,52.3 L650.2,52.6 L650.9,52.9 L651.6,52.9 L652.3,52.9 L653.0,52.8 L653.7,52.6 L654.4,52.3 L655.1,52.1 L655.8,51.7 L656.5,51.3 L657.2,50.8 L657.9,50.1 L658.6,49.3 L659.3,48.4 L660.0,47.5 L660.7,46.6 L661.4,45.6 L662.1,44.7 L662.8,43.6 L663.5,42.6 L664.2,41.5 L664.9,40.4 L665.6,39.3 L666.3,38.2 L667.0,37.2 L667.7,36.2 L668.4,35.4 L669.1,34.8 L669.8,34.5 L670.5,34.7 L671.2,34.9 L671.9,35.2 L672.6,35.6 L673.3,35.9 L674.0,36.3 L674.7,36.7 L675.4,37.1 L676.1,37.4 L676.8,37.8 L677.5,38.2 L678.2,38.6 L679.1,39.1" fill="none" stroke="#b22222" stroke-width="1" stroke-linejoin="round"/><path d="M604.0,63.8 L604.7,68.1 L605.4,71.9 L606.1,75.1 L606.8,77.9 L607.5,80.3 L608.2,82.3 L608.9,83.9 L609.6,85.2 L610.3,86.2 L611.0,86.6 L611.7,86.9 L612.4,87.1 L613.1,87.3 L613.8,87.4 L614.5,87.5 L615.2,87.6 L615.9,87.6 L616.6,87.7 L617.3,87.7 L618.0,87.8 L618.7,87.7 L619.4,87.7 L620.1,87.5 L620.8,87.2 L621.5,86.9 L622.2,86.2 L622.9,85.3 L623.6,84.2 L624.3,82.9 L625.0,81.6 L625.7,80.3 L626.4,78.9 L627.1,77.5 L627.8,76.0 L628.5,74.4 L629.2,72.8 L629.9,71.2 L630.6,69.6 L631.3,68.1 L632.0,66.7 L632.7,65.3 L633.4,64.0 L634.1,62.8 L634.8,61.8 L635.5,61.0 L636.2,60.4 L636.9,59.9 L637.6,59.6 L638.3,59.3 L639.0,59.1 L639.7,58.8 L640.4,58.5 L641.1,58.2 L641.8,57.9 L642.5,57.7 L643.2,57.4 L643.9,57.1 L644.6,56.8 L645.3,56.5 L646.0,56.2 L646.7,55.8 L647.4,55.0 L648.1,54.1 L648.8,53.1 L649.5,52.3 L650.2,51.6 L650.9,50.9 L651.6,50.0 L652.3,49.0 L653.0,48.0 L653.7,47.0 L654.4,46.1 L655.1,45.1 L655.8,44.1 L656.5,43.1 L657.2,42.1 L657.9,41.2 L658.6,40.2 L659.3,39.2 L660.0,38.2 L660.7,37.3 L661.4,36.4 L662.1,35.5 L662.8,34.6 L663.5,33.8 L664.2,32.9 L664.9,32.1 L665.6,31.4 L666.3,30.6 L667.0,30.0 L667.7,29.4 L668.4,28.8 L669.1,28.3 L669.8,27.8 L670.5,27.4 L671.2,26.9 L671.9,26.5 L672.6,26.0 L673.3,25.6 L674.0,25.2 L674.7,24.7 L675.4,24.3 L676.1,23.9 L676.8,23.5 L677.5,23.0 L678.2,22.6 L679.1,22.1 L679.1,27.5 L678.2,27.9 L677.5,28.2 L676.8,28.5 L676.1,28.9 L675.4,29.3 L674.7,29.7 L674.0,30.2 L673.3,30.6 L672.6,31.1 L671.9,31.6 L671.2,32.2 L670.5,32.8 L669.8,33.4 L669.1,34.1 L668.4,34.7 L667.7,35.4 L667.0,36.1 L666.3,36.9 L665.6,37.7 L664.9,38.5 L664.2,39.4 L663.5,40.4 L662.8,41.4 L662.1,42.4 L661.4,43.5 L660.7,44.5 L660.0,45.6 L659.3,46.6 L658.6,47.7 L657.9,48.8 L657.2,49.9 L656.5,50.9 L655.8,52.0 L655.1,52.9 L654.4,53.5 L653.7,54.1 L653.0,55.1 L652.3,56.4 L651.6,57.7 L650.9,59.0 L650.2,60.2 L649.5,61.3 L648.8,62.4 L648.1,63.4 L647.4,64.3 L646.7,65.0 L646.0,65.6 L645.3,66.0 L644.6,66.3 L643.9,66.6 L643.2,66.9 L642.5,67.2 L641.8,67.3 L641.1,67.5 L640.4,67.6 L639.7,67.8 L639.0,68.1 L638.3,68.4 L637.6,68.9 L636.9,69.6 L636.2,70.4 L635.5,71.4 L634.8,72.6 L634.1,74.0 L633.4,75.4 L632.7,76.9 L632.0,78.4 L631.3,80.0 L630.6,81.8 L629.9,83.5 L629.2,84.8 L628.5,85.8 L627.8,86.6 L627.1,87.2 L626.4,87.9 L625.7,88.7 L625.0,89.7 L624.3,90.6 L623.6,91.5 L622.9,92.2 L622.2,92.9 L621.5,93.4 L620.8,93.9 L620.1,94.3 L619.4,94.7 L618.7,95.0 L618.0,95.2 L617.3,95.4 L616.6,95.5 L615.9,95.7 L615.2,95.7 L614.5,95.7 L613.8,95.7 L613.1,95.7 L612.4,95.6 L611.7,95.4 L611.0,95.3 L610.3,95.1 L609.6,94.8 L608.9,94.5 L608.2,94.2 L607.5,93.8 L606.8,93.4 L606.1,93.0 L605.4,92.5 L604.7,91.9 L604.0,91.3Z" fill="#228b22" fill-opacity="0.5"/><path d="M604.0,76.0 L604.7,78.0 L605.4,79.8 L606.1,81.4 L606.8,82.8 L607.5,84.1 L608.2,85.2 L608.9,86.2 L609.6,86.8 L610.3,87.2 L611.0,87.4 L611.7,87.7 L612.4,87.8 L613.1,87.9 L613.8,88.0 L614.5,88.1 L615.2,88.1 L615.9,88.1 L616.6,88.2 L617.3,88.2 L618.0,88.1 L618.7,88.1 L619.4,88.1 L620.1,88.0 L620.8,87.8 L621.5,87.6 L622.2,87.3 L622.9,87.0 L623.6,86.6 L624.3,86.1 L625.0,85.5 L625.7,84.6 L626.4,83.6 L627.1,82.5 L627.8,81.3 L628.5,80.0 L629.2,78.7 L629.9,77.3 L630.6,75.8 L631.3,74.3 L632.0,72.8 L632.7,71.4 L633.4,70.1 L634.1,69.0 L634.8,68.0 L635.5,67.1 L636.2,66.3 L636.9,65.6 L637.6,65.0 L638.3,64.4 L639.0,64.0 L639.7,63.7 L640.4,63.4 L641.1,63.1 L641.8,62.8 L642.5,62.5 L643.2,62.1 L643.9,61.8 L644.6,61.4 L645.3,61.0 L646.0,60.6 L646.7,60.1 L647.4,59.7 L648.1,59.1 L648.8,58.5 L649.5,57.8 L650.2,57.0 L650.9,56.1 L651.6,55.1 L652.3,54.0 L653.0,52.8 L653.7,51.4 L654.4,50.1 L655.1,48.8 L655.8,47.8 L656.5,46.7 L657.2,45.6 L657.9,44.6 L658.6,43.6 L659.3,42.6 L660.0,41.6 L660.7,40.7 L661.4,39.7 L662.1,38.8 L662.8,37.8 L663.5,36.9 L664.2,36.1 L664.9,35.2 L665.6,34.4 L666.3,33.7 L667.0,33.0 L667.7,32.3 L668.4,31.6 L669.1,31.0 L669.8,30.4 L670.5,29.8 L671.2,29.3 L671.9,28.8 L672.6,28.3 L673.3,27.8 L674.0,27.4 L674.7,27.0 L675.4,26.5 L676.1,26.1 L676.8,25.8 L677.5,25.4 L678.2,25.1 L679.1,24.7" fill="none" stroke="#228b22" stroke-width="1" stroke-linejoin="round"/></g>
<path d="M604.0,19.2 V88.5 H679.1" fill="none" stroke="#b2b2b2" stroke-width="1"/>
<path d="M641.5,88.5 v-1 M679.1,88.5 v-1 " stroke="#b2b2b2" stroke-width="1" fill="none"/>
<g clip-path="url(#cA2)"><path d="M27.5,111.2 L28.2,111.2 L28.9,111.2 L29.6,111.2 L30.3,111.1 L31.0,111.0 L31.7,110.9 L32.4,110.7 L33.1,110.5 L33.8,110.2 L34.5,109.9 L35.2,109.6 L35.9,109.3 L36.6,109.1 L37.3,108.8 L38.0,108.5 L38.7,108.2 L39.4,108.0 L40.1,107.7 L40.8,107.5 L41.5,107.3 L42.2,107.1 L42.9,106.9 L43.6,106.8 L44.3,106.8 L45.0,107.0 L45.7,107.2 L46.4,107.5 L47.1,107.9 L47.8,108.4 L48.5,108.9 L49.2,109.6 L49.9,110.5 L50.6,111.6 L51.3,112.9 L52.0,114.3 L52.7,115.7 L53.4,117.1 L54.1,118.5 L54.8,119.9 L55.5,121.3 L56.2,122.7 L56.9,124.1 L57.6,125.5 L58.3,126.9 L59.0,128.3 L59.7,129.7 L60.4,131.0 L61.1,132.1 L61.8,133.0 L62.5,133.7 L63.2,134.3 L63.9,134.7 L64.6,135.1 L65.3,135.4 L66.0,135.7 L66.7,136.0 L67.4,136.3 L68.1,136.6 L68.8,136.9 L69.5,137.2 L70.2,137.6 L70.9,137.9 L71.6,138.3 L72.3,138.6 L73.0,139.0 L73.7,139.3 L74.4,139.7 L75.1,140.0 L75.8,140.4 L76.5,140.9 L77.2,141.3 L77.9,141.8 L78.6,142.3 L79.3,142.7 L80.0,143.2 L80.7,143.7 L81.4,144.1 L82.1,144.5 L82.8,144.9 L83.5,145.2 L84.2,145.6 L84.9,145.9 L85.6,146.2 L86.3,146.5 L87.0,146.8 L87.7,147.0 L88.4,147.1 L89.1,146.9 L89.8,146.5 L90.5,145.7 L91.2,144.6 L91.9,143.4 L92.6,142.3 L93.3,141.1 L94.0,139.9 L94.7,138.8 L95.4,137.6 L96.1,136.4 L96.8,135.3 L97.5,134.1 L98.2,132.9 L98.9,131.8 L99.6,130.6 L100.3,129.7 L101.0,128.9 L101.7,128.4 L102.6,127.7 L102.6,156.7 L101.7,157.7 L101.0,158.4 L100.3,159.2 L99.6,159.9 L98.9,160.6 L98.2,161.4 L97.5,162.1 L96.8,162.8 L96.1,163.6 L95.4,164.3 L94.7,164.9 L94.0,165.6 L93.3,166.2 L92.6,166.4 L91.9,166.1 L91.2,165.5 L90.5,164.6 L89.8,163.7 L89.1,162.8 L88.4,161.8 L87.7,160.9 L87.0,159.9 L86.3,159.0 L85.6,158.2 L84.9,157.3 L84.2,156.4 L83.5,155.5 L82.8,154.7 L82.1,153.8 L81.4,152.9 L80.7,152.1 L80.0,151.2 L79.3,150.3 L78.6,149.5 L77.9,148.7 L77.2,147.9 L76.5,147.1 L75.8,146.4 L75.1,145.6 L74.4,145.0 L73.7,144.4 L73.0,144.0 L72.3,143.6 L71.6,143.2 L70.9,142.9 L70.2,142.6 L69.5,142.4 L68.8,142.1 L68.1,142.0 L67.4,141.8 L66.7,141.7 L66.0,141.6 L65.3,141.4 L64.6,141.2 L63.9,141.0 L63.2,140.7 L62.5,140.4 L61.8,140.0 L61.1,139.7 L60.4,139.3 L59.7,139.0 L59.0,138.6 L58.3,138.2 L57.6,137.8 L56.9,137.3 L56.2,136.8 L55.5,136.3 L54.8,135.8 L54.1,135.2 L53.4,134.6 L52.7,134.0 L52.0,133.3 L51.3,132.6 L50.6,131.8 L49.9,130.9 L49.2,130.0 L48.5,129.0 L47.8,128.1 L47.1,127.1 L46.4,126.1 L45.7,124.9 L45.0,123.7 L44.3,122.4 L43.6,121.2 L42.9,120.1 L42.2,119.1 L41.5,118.3 L40.8,117.6 L40.1,117.0 L39.4,116.6 L38.7,116.3 L38.0,116.3 L37.3,116.2 L36.6,116.2 L35.9,116.2 L35.2,116.2 L34.5,116.2 L33.8,116.2 L33.1,116.3 L32.4,116.3 L31.7,116.4 L31.0,116.4 L30.3,116.5 L29.6,116.6 L28.9,116.7 L28.2,116.7 L27.5,116.9Z" fill="#b22222" fill-opacity="0.5"/><path d="M27.5,114.0 L28.2,114.0 L28.9,113.9 L29.6,113.8 L30.3,113.7 L31.0,113.6 L31.7,113.6 L32.4,113.5 L33.1,113.4 L33.8,113.3 L34.5,113.2 L35.2,113.1 L35.9,113.0 L36.6,112.9 L37.3,112.7 L38.0,112.6 L38.7,112.6 L39.4,112.6 L40.1,112.7 L40.8,112.9 L41.5,113.3 L42.2,113.7 L42.9,114.2 L43.6,114.8 L44.3,115.5 L45.0,116.1 L45.7,116.9 L46.4,117.7 L47.1,118.6 L47.8,119.4 L48.5,120.3 L49.2,121.2 L49.9,122.1 L50.6,122.9 L51.3,123.8 L52.0,124.7 L52.7,125.6 L53.4,126.4 L54.1,127.3 L54.8,128.2 L55.5,129.1 L56.2,129.9 L56.9,130.8 L57.6,131.7 L58.3,132.6 L59.0,133.4 L59.7,134.2 L60.4,134.9 L61.1,135.6 L61.8,136.2 L62.5,136.7 L63.2,137.2 L63.9,137.6 L64.6,137.9 L65.3,138.2 L66.0,138.4 L66.7,138.6 L67.4,138.8 L68.1,139.0 L68.8,139.2 L69.5,139.5 L70.2,139.8 L70.9,140.1 L71.6,140.4 L72.3,140.7 L73.0,141.1 L73.7,141.5 L74.4,141.9 L75.1,142.3 L75.8,142.8 L76.5,143.4 L77.2,144.0 L77.9,144.7 L78.6,145.4 L79.3,146.0 L80.0,146.7 L80.7,147.3 L81.4,147.9 L82.1,148.4 L82.8,148.9 L83.5,149.4 L84.2,149.9 L84.9,150.4 L85.6,150.8 L86.3,151.3 L87.0,151.7 L87.7,152.1 L88.4,152.3 L89.1,152.5 L89.8,152.6 L90.5,152.6 L91.2,152.5 L91.9,152.2 L92.6,151.8 L93.3,151.2 L94.0,150.6 L94.7,149.9 L95.4,149.1 L96.1,148.2 L96.8,147.2 L97.5,146.2 L98.2,145.2 L98.9,144.3 L99.6,143.5 L100.3,143.0 L101.0,142.5 L101.7,142.1 L102.6,141.8" fill="none" stroke="#b22222" stroke-width="1" stroke-linejoin="round"/><path d="M27.5,106.9 L28.2,108.4 L28.9,109.5 L29.6,110.4 L30.3,110.9 L31.0,111.3 L31.7,111.4 L32.4,111.3 L33.1,110.9 L33.8,110.3 L34.5,109.7 L35.2,109.1 L35.9,108.8 L36.6,108.5 L37.3,108.3 L38.0,108.3 L38.7,108.4 L39.4,108.6 L40.1,109.0 L40.8,109.4 L41.5,110.0 L42.2,110.6 L42.9,111.3 L43.6,112.0 L44.3,112.7 L45.0,113.5 L45.7,114.3 L46.4,115.2 L47.1,116.1 L47.8,116.9 L48.5,117.8 L49.2,118.7 L49.9,119.6 L50.6,120.5 L51.3,121.3 L52.0,122.1 L52.7,122.9 L53.4,123.7 L54.1,124.4 L54.8,125.2 L55.5,126.0 L56.2,126.8 L56.9,127.8 L57.6,128.8 L58.3,129.9 L59.0,131.0 L59.7,132.2 L60.4,133.3 L61.1,134.5 L61.8,135.6 L62.5,136.8 L63.2,137.8 L63.9,138.9 L64.6,140.0 L65.3,141.0 L66.0,142.1 L66.7,143.1 L67.4,144.1 L68.1,145.2 L68.8,146.1 L69.5,147.0 L70.2,147.8 L70.9,148.5 L71.6,149.2 L72.3,149.7 L73.0,150.3 L73.7,150.8 L74.4,151.3 L75.1,151.6 L75.8,151.8 L76.5,151.9 L77.2,151.9 L77.9,151.8 L78.6,151.7 L79.3,151.5 L80.0,151.3 L80.7,150.9 L81.4,150.4 L82.1,149.7 L82.8,148.9 L83.5,147.9 L84.2,146.7 L84.9,145.4 L85.6,144.0 L86.3,142.4 L87.0,140.7 L87.7,138.9 L88.4,137.0 L89.1,134.9 L89.8,132.7 L90.5,130.5 L91.2,128.3 L91.9,126.3 L92.6,124.5 L93.3,122.7 L94.0,121.0 L94.7,119.3 L95.4,117.8 L96.1,116.3 L96.8,114.9 L97.5,113.5 L98.2,112.3 L98.9,111.2 L99.6,110.3 L100.3,109.4 L101.0,108.6 L101.7,107.8 L102.6,107.0 L102.6,118.4 L101.7,119.4 L101.0,120.2 L100.3,121.2 L99.6,122.1 L98.9,123.2 L98.2,124.4 L97.5,125.6 L96.8,127.0 L96.1,128.5 L95.4,130.2 L94.7,131.9 L94.0,133.6 L93.3,135.4 L92.6,137.2 L91.9,139.1 L91.2,141.1 L90.5,143.1 L89.8,145.2 L89.1,147.3 L88.4,149.3 L87.7,151.0 L87.0,152.6 L86.3,153.9 L85.6,155.0 L84.9,155.9 L84.2,156.7 L83.5,157.3 L82.8,157.9 L82.1,158.4 L81.4,158.8 L80.7,159.1 L80.0,159.3 L79.3,159.4 L78.6,159.5 L77.9,159.6 L77.2,159.6 L76.5,159.6 L75.8,159.5 L75.1,159.3 L74.4,159.1 L73.7,158.8 L73.0,158.4 L72.3,157.9 L71.6,157.4 L70.9,156.9 L70.2,156.2 L69.5,155.5 L68.8,154.6 L68.1,153.7 L67.4,152.7 L66.7,151.6 L66.0,150.6 L65.3,149.6 L64.6,148.5 L63.9,147.4 L63.2,146.4 L62.5,145.3 L61.8,144.2 L61.1,143.0 L60.4,141.9 L59.7,140.7 L59.0,139.6 L58.3,138.5 L57.6,137.4 L56.9,136.3 L56.2,135.3 L55.5,134.3 L54.8,133.3 L54.1,132.4 L53.4,131.5 L52.7,130.6 L52.0,129.8 L51.3,129.0 L50.6,128.2 L49.9,127.4 L49.2,126.6 L48.5,125.8 L47.8,125.1 L47.1,124.3 L46.4,123.6 L45.7,122.8 L45.0,122.0 L44.3,121.3 L43.6,120.6 L42.9,119.9 L42.2,119.2 L41.5,118.6 L40.8,118.0 L40.1,117.7 L39.4,117.8 L38.7,118.1 L38.0,118.6 L37.3,119.5 L36.6,120.6 L35.9,121.6 L35.2,122.2 L34.5,122.6 L33.8,122.9 L33.1,123.1 L32.4,123.1 L31.7,122.9 L31.0,122.6 L30.3,122.3 L29.6,121.8 L28.9,121.2 L28.2,120.5 L27.5,119.7Z" fill="#228b22" fill-opacity="0.5"/><path d="M27.5,114.0 L28.2,114.9 L28.9,115.6 L29.6,116.1 L30.3,116.5 L31.0,116.8 L31.7,117.0 L32.4,116.9 L33.1,116.7 L33.8,116.4 L34.5,116.0 L35.2,115.6 L35.9,115.2 L36.6,114.7 L37.3,114.1 L38.0,113.7 L38.7,113.3 L39.4,113.2 L40.1,113.3 L40.8,113.7 L41.5,114.3 L42.2,114.9 L42.9,115.6 L43.6,116.3 L44.3,117.0 L45.0,117.8 L45.7,118.6 L46.4,119.4 L47.1,120.2 L47.8,121.0 L48.5,121.8 L49.2,122.6 L49.9,123.4 L50.6,124.2 L51.3,125.0 L52.0,125.8 L52.7,126.6 L53.4,127.4 L54.1,128.3 L54.8,129.1 L55.5,129.9 L56.2,130.8 L56.9,131.7 L57.6,132.7 L58.3,133.8 L59.0,135.0 L59.7,136.2 L60.4,137.4 L61.1,138.7 L61.8,139.9 L62.5,141.0 L63.2,142.1 L63.9,143.2 L64.6,144.3 L65.3,145.3 L66.0,146.4 L66.7,147.4 L67.4,148.4 L68.1,149.4 L68.8,150.3 L69.5,151.1 L70.2,151.9 L70.9,152.5 L71.6,153.1 L72.3,153.6 L73.0,154.0 L73.7,154.5 L74.4,154.9 L75.1,155.3 L75.8,155.5 L76.5,155.7 L77.2,155.8 L77.9,155.8 L78.6,155.8 L79.3,155.7 L80.0,155.6 L80.7,155.3 L81.4,154.8 L82.1,154.2 L82.8,153.5 L83.5,152.6 L84.2,151.6 L84.9,150.5 L85.6,149.2 L86.3,147.8 L87.0,146.3 L87.7,144.6 L88.4,142.7 L89.1,140.6 L89.8,138.4 L90.5,136.2 L91.2,134.0 L91.9,132.0 L92.6,130.1 L93.3,128.4 L94.0,126.7 L94.7,125.0 L95.4,123.4 L96.1,121.9 L96.8,120.5 L97.5,119.2 L98.2,118.0 L98.9,116.9 L99.6,115.9 L100.3,115.0 L101.0,114.2 L101.7,113.5 L102.6,112.7" fill="none" stroke="#228b22" stroke-width="1" stroke-linejoin="round"/><line x1="28.3" x2="102.6" y1="128.5" y2="128.5" stroke="#6a6a6a" stroke-width="0.9" stroke-dasharray="0.75 1.15"/></g>
<path d="M27.5,99.2 V168.5 H102.6" fill="none" stroke="#b2b2b2" stroke-width="1"/>
<path d="M65.0,168.5 v-1 M102.6,168.5 v-1 " stroke="#b2b2b2" stroke-width="1" fill="none"/>
<g clip-path="url(#cB2)"><line x1="124.4" x2="198.7" y1="142.5" y2="142.5" stroke="#b8b8b8" stroke-width="0.9" stroke-dasharray="0.75 1.15"/><path d="M123.6,136.7 L124.3,136.4 L125.0,136.0 L125.7,135.6 L126.4,135.2 L127.1,134.7 L127.8,134.2 L128.5,133.7 L129.2,133.3 L129.9,132.8 L130.6,132.2 L131.3,131.6 L132.0,131.0 L132.7,130.3 L133.4,129.6 L134.1,128.7 L134.8,127.8 L135.5,126.7 L136.2,125.1 L136.9,123.3 L137.6,121.3 L138.3,119.5 L139.0,117.8 L139.7,116.6 L140.4,115.6 L141.1,114.5 L141.8,113.5 L142.5,112.5 L143.2,111.4 L143.9,110.4 L144.6,109.4 L145.3,108.4 L146.0,107.4 L146.7,106.5 L147.4,105.5 L148.1,104.5 L148.8,103.5 L149.5,102.6 L150.2,101.7 L150.9,100.9 L151.6,100.3 L152.3,99.8 L153.0,99.6 L153.7,99.5 L154.4,99.6 L155.1,99.7 L155.8,99.7 L156.5,99.7 L157.2,99.8 L157.9,100.0 L158.6,100.4 L159.3,101.0 L160.0,102.1 L160.7,103.4 L161.4,104.9 L162.1,106.5 L162.8,108.1 L163.5,109.7 L164.2,111.1 L164.9,112.5 L165.6,113.9 L166.3,115.2 L167.0,116.6 L167.7,117.9 L168.4,119.2 L169.1,120.4 L169.8,121.5 L170.5,122.6 L171.2,123.4 L171.9,124.0 L172.6,124.4 L173.3,124.5 L174.0,124.5 L174.7,124.4 L175.4,124.3 L176.1,124.1 L176.8,124.0 L177.5,123.9 L178.2,123.8 L178.9,123.7 L179.6,123.6 L180.3,123.5 L181.0,123.4 L181.7,123.4 L182.4,123.6 L183.1,124.2 L183.8,125.2 L184.5,126.4 L185.2,127.7 L185.9,129.2 L186.6,130.7 L187.3,132.0 L188.0,133.2 L188.7,134.4 L189.4,135.6 L190.1,136.8 L190.8,138.1 L191.5,139.5 L192.2,140.9 L192.9,142.3 L193.6,143.8 L194.3,145.2 L195.0,146.6 L195.7,147.9 L196.4,149.0 L197.1,149.8 L197.8,150.3 L198.7,150.8 L198.7,165.8 L197.8,165.4 L197.1,164.9 L196.4,164.3 L195.7,163.5 L195.0,162.6 L194.3,161.7 L193.6,160.7 L192.9,159.8 L192.2,158.8 L191.5,157.9 L190.8,157.0 L190.1,156.2 L189.4,155.3 L188.7,154.5 L188.0,153.6 L187.3,152.7 L186.6,151.8 L185.9,150.9 L185.2,150.0 L184.5,149.0 L183.8,147.9 L183.1,146.8 L182.4,145.7 L181.7,144.6 L181.0,143.6 L180.3,142.5 L179.6,141.5 L178.9,140.6 L178.2,139.6 L177.5,138.7 L176.8,137.8 L176.1,137.0 L175.4,136.2 L174.7,135.5 L174.0,134.8 L173.3,134.2 L172.6,133.7 L171.9,133.2 L171.2,132.7 L170.5,132.3 L169.8,131.8 L169.1,131.2 L168.4,130.6 L167.7,130.0 L167.0,129.4 L166.3,128.7 L165.6,127.9 L164.9,127.1 L164.2,126.3 L163.5,125.2 L162.8,124.0 L162.1,122.6 L161.4,121.4 L160.7,120.2 L160.0,119.2 L159.3,118.4 L158.6,117.6 L157.9,116.9 L157.2,116.3 L156.5,115.7 L155.8,115.2 L155.1,114.9 L154.4,114.6 L153.7,114.4 L153.0,114.3 L152.3,114.4 L151.6,114.7 L150.9,115.0 L150.2,115.4 L149.5,115.8 L148.8,116.4 L148.1,117.0 L147.4,117.7 L146.7,118.5 L146.0,119.3 L145.3,120.2 L144.6,121.1 L143.9,122.1 L143.2,123.0 L142.5,123.9 L141.8,124.9 L141.1,125.9 L140.4,126.9 L139.7,127.9 L139.0,129.0 L138.3,130.0 L137.6,131.1 L136.9,132.2 L136.2,133.2 L135.5,134.3 L134.8,135.3 L134.1,136.3 L133.4,137.3 L132.7,138.2 L132.0,139.1 L131.3,139.9 L130.6,140.7 L129.9,141.5 L129.2,142.3 L128.5,143.0 L127.8,143.7 L127.1,144.3 L126.4,144.9 L125.7,145.4 L125.0,145.8 L124.3,146.3 L123.6,146.6Z" fill="#b22222" fill-opacity="0.5"/><path d="M123.6,141.8 L124.3,141.3 L125.0,140.7 L125.7,140.1 L126.4,139.4 L127.1,138.8 L127.8,138.1 L128.5,137.4 L129.2,136.6 L129.9,135.9 L130.6,135.1 L131.3,134.3 L132.0,133.5 L132.7,132.6 L133.4,131.7 L134.1,130.7 L134.8,129.6 L135.5,128.5 L136.2,127.3 L136.9,126.1 L137.6,124.8 L138.3,123.5 L139.0,122.3 L139.7,121.0 L140.4,119.8 L141.1,118.7 L141.8,117.6 L142.5,116.5 L143.2,115.4 L143.9,114.3 L144.6,113.3 L145.3,112.3 L146.0,111.4 L146.7,110.5 L147.4,109.8 L148.1,109.1 L148.8,108.6 L149.5,108.1 L150.2,107.7 L150.9,107.3 L151.6,107.0 L152.3,106.7 L153.0,106.5 L153.7,106.4 L154.4,106.4 L155.1,106.5 L155.8,106.8 L156.5,107.2 L157.2,107.6 L157.9,108.2 L158.6,108.9 L159.3,109.8 L160.0,110.7 L160.7,111.7 L161.4,112.9 L162.1,114.1 L162.8,115.3 L163.5,116.5 L164.2,117.7 L164.9,118.7 L165.6,119.8 L166.3,120.8 L167.0,121.8 L167.7,122.7 L168.4,123.5 L169.1,124.2 L169.8,124.8 L170.5,125.4 L171.2,126.0 L171.9,126.6 L172.6,127.2 L173.3,127.8 L174.0,128.3 L174.7,128.9 L175.4,129.5 L176.1,130.0 L176.8,130.6 L177.5,131.1 L178.2,131.7 L178.9,132.2 L179.6,132.8 L180.3,133.4 L181.0,134.0 L181.7,134.7 L182.4,135.4 L183.1,136.1 L183.8,136.9 L184.5,137.8 L185.2,138.7 L185.9,139.6 L186.6,140.6 L187.3,141.6 L188.0,142.6 L188.7,143.7 L189.4,144.7 L190.1,145.8 L190.8,146.9 L191.5,148.0 L192.2,149.1 L192.9,150.3 L193.6,151.5 L194.3,152.7 L195.0,153.9 L195.7,155.0 L196.4,156.0 L197.1,156.7 L197.8,157.3 L198.7,157.9" fill="none" stroke="#b22222" stroke-width="1" stroke-linejoin="round"/><path d="M123.6,122.5 L124.3,122.3 L125.0,122.0 L125.7,121.8 L126.4,121.6 L127.1,121.3 L127.8,121.1 L128.5,120.8 L129.2,120.4 L129.9,120.2 L130.6,120.3 L131.3,121.3 L132.0,123.4 L132.7,125.9 L133.4,128.2 L134.1,130.3 L134.8,132.5 L135.5,134.6 L136.2,136.6 L136.9,138.2 L137.6,139.0 L138.3,139.4 L139.0,139.5 L139.7,139.6 L140.4,139.3 L141.1,138.5 L141.8,137.0 L142.5,134.8 L143.2,132.3 L143.9,129.7 L144.6,127.2 L145.3,125.0 L146.0,122.8 L146.7,120.6 L147.4,118.5 L148.1,116.5 L148.8,114.5 L149.5,112.8 L150.2,111.2 L150.9,109.9 L151.6,108.8 L152.3,107.9 L153.0,107.2 L153.7,106.6 L154.4,106.1 L155.1,106.0 L155.8,106.0 L156.5,106.2 L157.2,106.6 L157.9,107.1 L158.6,107.9 L159.3,108.9 L160.0,110.1 L160.7,111.2 L161.4,112.4 L162.1,113.6 L162.8,114.8 L163.5,116.0 L164.2,117.3 L164.9,118.6 L165.6,119.8 L166.3,121.1 L167.0,122.3 L167.7,123.6 L168.4,124.7 L169.1,125.8 L169.8,126.9 L170.5,127.9 L171.2,128.9 L171.9,129.9 L172.6,130.9 L173.3,131.8 L174.0,132.7 L174.7,133.6 L175.4,134.5 L176.1,135.3 L176.8,136.1 L177.5,136.9 L178.2,137.6 L178.9,138.3 L179.6,139.0 L180.3,139.7 L181.0,140.3 L181.7,140.8 L182.4,141.4 L183.1,141.9 L183.8,142.3 L184.5,142.8 L185.2,143.2 L185.9,143.6 L186.6,144.0 L187.3,144.4 L188.0,144.8 L188.7,145.2 L189.4,145.6 L190.1,146.0 L190.8,146.4 L191.5,146.7 L192.2,147.1 L192.9,147.4 L193.6,147.7 L194.3,148.0 L195.0,148.3 L195.7,148.4 L196.4,148.4 L197.1,148.4 L197.8,148.3 L198.7,148.1 L198.7,157.1 L197.8,157.2 L197.1,157.2 L196.4,157.2 L195.7,157.2 L195.0,157.2 L194.3,157.1 L193.6,157.1 L192.9,157.0 L192.2,157.0 L191.5,156.9 L190.8,156.8 L190.1,156.7 L189.4,156.6 L188.7,156.6 L188.0,156.5 L187.3,156.3 L186.6,156.2 L185.9,156.0 L185.2,155.8 L184.5,155.6 L183.8,155.4 L183.1,155.2 L182.4,154.9 L181.7,154.5 L181.0,154.1 L180.3,153.7 L179.6,153.1 L178.9,152.5 L178.2,151.8 L177.5,151.1 L176.8,150.2 L176.1,149.4 L175.4,148.5 L174.7,147.7 L174.0,146.8 L173.3,145.9 L172.6,145.0 L171.9,144.1 L171.2,143.2 L170.5,142.3 L169.8,141.5 L169.1,140.6 L168.4,139.6 L167.7,138.6 L167.0,137.4 L166.3,136.2 L165.6,135.1 L164.9,133.9 L164.2,132.7 L163.5,131.6 L162.8,130.4 L162.1,129.2 L161.4,128.1 L160.7,126.9 L160.0,125.7 L159.3,124.6 L158.6,123.5 L157.9,122.7 L157.2,122.2 L156.5,122.0 L155.8,122.0 L155.1,122.2 L154.4,122.7 L153.7,123.4 L153.0,124.3 L152.3,125.3 L151.6,126.4 L150.9,127.7 L150.2,129.2 L149.5,131.0 L148.8,133.1 L148.1,135.4 L147.4,137.8 L146.7,140.4 L146.0,143.0 L145.3,145.7 L144.6,148.6 L143.9,151.5 L143.2,154.2 L142.5,156.5 L141.8,158.2 L141.1,159.3 L140.4,159.4 L139.7,158.8 L139.0,158.0 L138.3,157.1 L137.6,156.5 L136.9,156.2 L136.2,156.0 L135.5,155.7 L134.8,155.1 L134.1,154.4 L133.4,153.7 L132.7,153.0 L132.0,152.3 L131.3,151.6 L130.6,150.9 L129.9,150.2 L129.2,149.5 L128.5,149.5 L127.8,150.7 L127.1,152.6 L126.4,154.8 L125.7,157.1 L125.0,159.4 L124.3,162.1 L123.6,165.1Z" fill="#228b22" fill-opacity="0.5"/><path d="M123.6,142.4 L124.3,141.6 L125.0,140.9 L125.7,140.2 L126.4,139.5 L127.1,138.8 L127.8,138.0 L128.5,137.3 L129.2,136.6 L129.9,135.9 L130.6,135.3 L131.3,135.3 L132.0,136.4 L132.7,138.0 L133.4,139.6 L134.1,141.2 L134.8,143.1 L135.5,145.0 L136.2,146.6 L136.9,147.7 L137.6,148.3 L138.3,148.6 L139.0,148.6 L139.7,148.5 L140.4,148.0 L141.1,147.1 L141.8,145.5 L142.5,143.3 L143.2,140.8 L143.9,138.2 L144.6,135.7 L145.3,133.5 L146.0,131.3 L146.7,129.2 L147.4,127.1 L148.1,125.0 L148.8,123.1 L149.5,121.2 L150.2,119.6 L150.9,118.1 L151.6,116.9 L152.3,115.8 L153.0,114.9 L153.7,114.1 L154.4,113.6 L155.1,113.4 L155.8,113.4 L156.5,113.6 L157.2,113.8 L157.9,114.2 L158.6,115.0 L159.3,116.1 L160.0,117.2 L160.7,118.4 L161.4,119.6 L162.1,120.7 L162.8,121.9 L163.5,123.1 L164.2,124.2 L164.9,125.4 L165.6,126.6 L166.3,127.7 L167.0,128.9 L167.7,130.1 L168.4,131.2 L169.1,132.4 L169.8,133.6 L170.5,134.7 L171.2,135.9 L171.9,137.1 L172.6,138.2 L173.3,139.2 L174.0,140.1 L174.7,141.0 L175.4,141.8 L176.1,142.5 L176.8,143.2 L177.5,143.9 L178.2,144.6 L178.9,145.2 L179.6,145.8 L180.3,146.4 L181.0,146.9 L181.7,147.4 L182.4,147.8 L183.1,148.1 L183.8,148.4 L184.5,148.7 L185.2,149.0 L185.9,149.2 L186.6,149.5 L187.3,149.8 L188.0,150.1 L188.7,150.3 L189.4,150.6 L190.1,150.8 L190.8,151.1 L191.5,151.3 L192.2,151.6 L192.9,151.8 L193.6,152.1 L194.3,152.3 L195.0,152.5 L195.7,152.6 L196.4,152.6 L197.1,152.6 L197.8,152.5 L198.7,152.3" fill="none" stroke="#228b22" stroke-width="1" stroke-linejoin="round"/></g>
<path d="M123.6,99.2 V168.5 H198.7" fill="none" stroke="#b2b2b2" stroke-width="1"/>
<path d="M161.1,168.5 v-1 M198.7,168.5 v-1 " stroke="#b2b2b2" stroke-width="1" fill="none"/>
<g clip-path="url(#cC2)"><path d="M219.7,138.0 L220.4,137.3 L221.1,136.5 L221.8,135.7 L222.5,134.9 L223.2,134.1 L223.9,133.4 L224.6,132.6 L225.3,131.8 L226.0,131.0 L226.7,130.3 L227.4,129.5 L228.1,128.7 L228.8,128.0 L229.5,127.2 L230.2,126.4 L230.9,125.7 L231.6,125.0 L232.3,124.3 L233.0,123.6 L233.7,123.0 L234.4,122.4 L235.1,121.9 L235.8,121.3 L236.5,120.8 L237.2,120.3 L237.9,119.9 L238.6,119.5 L239.3,119.2 L240.0,118.9 L240.7,118.6 L241.4,118.4 L242.1,118.2 L242.8,118.0 L243.5,117.9 L244.2,117.9 L244.9,117.9 L245.6,118.1 L246.3,118.4 L247.0,118.9 L247.7,119.5 L248.4,120.2 L249.1,121.0 L249.8,121.9 L250.5,122.9 L251.2,124.0 L251.9,125.2 L252.6,126.5 L253.3,127.8 L254.0,128.9 L254.7,129.9 L255.4,130.7 L256.1,131.5 L256.8,132.1 L257.5,132.7 L258.2,133.1 L258.9,133.4 L259.6,133.5 L260.3,133.6 L261.0,133.7 L261.7,133.6 L262.4,133.5 L263.1,133.3 L263.8,133.0 L264.5,132.8 L265.2,132.5 L265.9,132.1 L266.6,131.6 L267.3,131.0 L268.0,130.3 L268.7,129.6 L269.4,128.9 L270.1,128.2 L270.8,127.5 L271.5,126.8 L272.2,126.1 L272.9,125.4 L273.6,124.7 L274.3,124.0 L275.0,123.3 L275.7,122.6 L276.4,122.0 L277.1,121.4 L277.8,121.0 L278.5,120.7 L279.2,120.5 L279.9,120.3 L280.6,120.2 L281.3,120.5 L282.0,121.0 L282.7,121.7 L283.4,122.6 L284.1,123.6 L284.8,124.9 L285.5,126.5 L286.2,128.3 L286.9,130.2 L287.6,131.9 L288.3,133.4 L289.0,134.6 L289.7,135.7 L290.4,136.7 L291.1,137.6 L291.8,138.5 L292.5,139.2 L293.2,139.8 L293.9,140.4 L294.8,141.0 L294.8,152.3 L293.9,151.8 L293.2,151.5 L292.5,151.1 L291.8,150.6 L291.1,150.2 L290.4,149.7 L289.7,149.1 L289.0,148.5 L288.3,147.8 L287.6,147.1 L286.9,146.4 L286.2,145.7 L285.5,145.0 L284.8,144.3 L284.1,143.6 L283.4,142.9 L282.7,142.2 L282.0,141.5 L281.3,140.8 L280.6,140.1 L279.9,139.4 L279.2,138.9 L278.5,138.5 L277.8,138.3 L277.1,138.1 L276.4,138.1 L275.7,138.1 L275.0,138.2 L274.3,138.3 L273.6,138.4 L272.9,138.5 L272.2,138.7 L271.5,139.0 L270.8,139.3 L270.1,139.6 L269.4,140.0 L268.7,140.3 L268.0,140.6 L267.3,140.9 L266.6,141.2 L265.9,141.5 L265.2,141.7 L264.5,141.9 L263.8,142.2 L263.1,142.4 L262.4,142.5 L261.7,142.6 L261.0,142.7 L260.3,142.6 L259.6,142.6 L258.9,142.4 L258.2,142.2 L257.5,141.9 L256.8,141.5 L256.1,141.0 L255.4,140.4 L254.7,139.7 L254.0,139.0 L253.3,138.2 L252.6,137.4 L251.9,136.5 L251.2,135.7 L250.5,134.8 L249.8,133.8 L249.1,132.8 L248.4,131.8 L247.7,130.7 L247.0,129.6 L246.3,128.6 L245.6,127.7 L244.9,126.9 L244.2,126.3 L243.5,125.8 L242.8,125.5 L242.1,125.3 L241.4,125.4 L240.7,125.6 L240.0,125.8 L239.3,126.1 L238.6,126.4 L237.9,126.8 L237.2,127.3 L236.5,127.8 L235.8,128.4 L235.1,129.0 L234.4,129.6 L233.7,130.3 L233.0,130.9 L232.3,131.5 L231.6,132.1 L230.9,132.8 L230.2,133.5 L229.5,134.2 L228.8,134.9 L228.1,135.6 L227.4,136.3 L226.7,137.0 L226.0,137.7 L225.3,138.4 L224.6,139.1 L223.9,139.8 L223.2,140.4 L222.5,141.1 L221.8,141.8 L221.1,142.4 L220.4,143.1 L219.7,143.7Z" fill="#b22222" fill-opacity="0.5"/><path d="M219.7,140.9 L220.4,140.1 L221.1,139.3 L221.8,138.5 L222.5,137.7 L223.2,136.9 L223.9,136.2 L224.6,135.4 L225.3,134.7 L226.0,134.0 L226.7,133.3 L227.4,132.6 L228.1,131.9 L228.8,131.2 L229.5,130.5 L230.2,129.8 L230.9,129.1 L231.6,128.5 L232.3,127.8 L233.0,127.2 L233.7,126.6 L234.4,125.9 L235.1,125.3 L235.8,124.7 L236.5,124.2 L237.2,123.7 L237.9,123.2 L238.6,122.9 L239.3,122.6 L240.0,122.3 L240.7,122.1 L241.4,122.0 L242.1,121.9 L242.8,121.9 L243.5,122.0 L244.2,122.3 L244.9,122.8 L245.6,123.5 L246.3,124.3 L247.0,125.3 L247.7,126.2 L248.4,127.1 L249.1,128.1 L249.8,129.0 L250.5,129.9 L251.2,130.9 L251.9,131.8 L252.6,132.7 L253.3,133.7 L254.0,134.6 L254.7,135.5 L255.4,136.3 L256.1,136.9 L256.8,137.4 L257.5,137.7 L258.2,138.0 L258.9,138.2 L259.6,138.3 L260.3,138.4 L261.0,138.4 L261.7,138.4 L262.4,138.3 L263.1,138.1 L263.8,137.8 L264.5,137.6 L265.2,137.3 L265.9,136.9 L266.6,136.5 L267.3,136.1 L268.0,135.6 L268.7,135.1 L269.4,134.6 L270.1,134.0 L270.8,133.5 L271.5,133.0 L272.2,132.6 L272.9,132.2 L273.6,131.9 L274.3,131.6 L275.0,131.3 L275.7,131.1 L276.4,130.8 L277.1,130.7 L277.8,130.6 L278.5,130.7 L279.2,131.0 L279.9,131.5 L280.6,132.2 L281.3,133.0 L282.0,133.8 L282.7,134.7 L283.4,135.6 L284.1,136.5 L284.8,137.4 L285.5,138.3 L286.2,139.3 L286.9,140.2 L287.6,141.2 L288.3,142.1 L289.0,142.9 L289.7,143.7 L290.4,144.4 L291.1,145.1 L291.8,145.8 L292.5,146.3 L293.2,146.9 L293.9,147.4 L294.8,148.1" fill="none" stroke="#b22222" stroke-width="1" stroke-linejoin="round"/><path d="M219.7,134.9 L220.4,131.9 L221.1,129.1 L221.8,126.4 L222.5,123.8 L223.2,121.3 L223.9,119.0 L224.6,116.8 L225.3,114.8 L226.0,112.9 L226.7,111.3 L227.4,109.9 L228.1,108.7 L228.8,107.6 L229.5,106.6 L230.2,105.7 L230.9,104.9 L231.6,104.2 L232.3,103.6 L233.0,103.2 L233.7,102.8 L234.4,102.7 L235.1,102.7 L235.8,102.8 L236.5,103.1 L237.2,103.6 L237.9,104.2 L238.6,105.1 L239.3,106.1 L240.0,107.2 L240.7,108.3 L241.4,109.5 L242.1,110.7 L242.8,111.9 L243.5,113.2 L244.2,114.6 L244.9,116.1 L245.6,117.5 L246.3,119.0 L247.0,120.4 L247.7,121.6 L248.4,122.6 L249.1,123.5 L249.8,124.2 L250.5,124.7 L251.2,125.1 L251.9,125.5 L252.6,125.7 L253.3,125.8 L254.0,125.7 L254.7,125.5 L255.4,125.2 L256.1,124.6 L256.8,124.0 L257.5,123.2 L258.2,122.4 L258.9,121.6 L259.6,120.8 L260.3,120.2 L261.0,119.6 L261.7,119.0 L262.4,118.5 L263.1,118.0 L263.8,117.7 L264.5,117.4 L265.2,117.2 L265.9,117.2 L266.6,117.2 L267.3,117.4 L268.0,117.8 L268.7,118.3 L269.4,118.9 L270.1,119.5 L270.8,120.1 L271.5,120.7 L272.2,121.3 L272.9,121.9 L273.6,122.5 L274.3,122.9 L275.0,123.3 L275.7,123.8 L276.4,124.4 L277.1,125.2 L277.8,126.2 L278.5,127.1 L279.2,128.0 L279.9,129.0 L280.6,129.9 L281.3,130.8 L282.0,131.8 L282.7,132.7 L283.4,133.6 L284.1,134.6 L284.8,135.5 L285.5,136.4 L286.2,137.4 L286.9,138.3 L287.6,139.2 L288.3,140.2 L289.0,141.1 L289.7,142.0 L290.4,143.0 L291.1,143.8 L291.8,144.7 L292.5,145.5 L293.2,146.3 L293.9,147.1 L294.8,148.1 L294.8,154.6 L293.9,154.1 L293.2,153.6 L292.5,153.2 L291.8,152.6 L291.1,152.0 L290.4,151.4 L289.7,150.6 L289.0,149.8 L288.3,149.0 L287.6,148.2 L286.9,147.3 L286.2,146.4 L285.5,145.5 L284.8,144.6 L284.1,143.6 L283.4,142.7 L282.7,141.7 L282.0,140.8 L281.3,139.9 L280.6,139.1 L279.9,138.2 L279.2,137.4 L278.5,136.6 L277.8,135.9 L277.1,135.2 L276.4,134.5 L275.7,133.9 L275.0,133.3 L274.3,132.7 L273.6,132.1 L272.9,131.6 L272.2,131.0 L271.5,130.5 L270.8,130.1 L270.1,129.6 L269.4,129.2 L268.7,128.8 L268.0,128.4 L267.3,128.1 L266.6,127.9 L265.9,127.7 L265.2,127.6 L264.5,127.6 L263.8,127.7 L263.1,127.9 L262.4,128.2 L261.7,128.6 L261.0,129.0 L260.3,129.5 L259.6,130.1 L258.9,130.8 L258.2,131.6 L257.5,132.4 L256.8,133.1 L256.1,133.7 L255.4,134.2 L254.7,134.6 L254.0,134.8 L253.3,134.9 L252.6,134.9 L251.9,134.8 L251.2,134.6 L250.5,134.3 L249.8,133.9 L249.1,133.4 L248.4,132.8 L247.7,132.0 L247.0,131.0 L246.3,130.1 L245.6,129.1 L244.9,128.0 L244.2,127.0 L243.5,125.9 L242.8,124.8 L242.1,123.6 L241.4,122.5 L240.7,121.2 L240.0,120.1 L239.3,118.9 L238.6,117.8 L237.9,117.0 L237.2,116.3 L236.5,115.9 L235.8,115.6 L235.1,115.5 L234.4,115.4 L233.7,115.7 L233.0,116.2 L232.3,116.9 L231.6,117.8 L230.9,118.9 L230.2,120.0 L229.5,121.1 L228.8,122.4 L228.1,123.9 L227.4,125.8 L226.7,128.4 L226.0,131.8 L225.3,135.5 L224.6,139.2 L223.9,143.0 L223.2,146.8 L222.5,150.6 L221.8,154.5 L221.1,158.3 L220.4,162.2 L219.7,166.0Z" fill="#228b22" fill-opacity="0.5"/><path d="M219.7,149.1 L220.4,145.9 L221.1,142.7 L221.8,139.6 L222.5,136.5 L223.2,133.4 L223.9,130.3 L224.6,127.3 L225.3,124.4 L226.0,121.7 L226.7,119.2 L227.4,117.2 L228.1,115.7 L228.8,114.6 L229.5,113.6 L230.2,112.8 L230.9,112.0 L231.6,111.3 L232.3,110.7 L233.0,110.2 L233.7,109.9 L234.4,109.8 L235.1,109.8 L235.8,110.0 L236.5,110.2 L237.2,110.6 L237.9,111.2 L238.6,112.1 L239.3,113.3 L240.0,114.4 L240.7,115.6 L241.4,116.8 L242.1,117.9 L242.8,119.1 L243.5,120.3 L244.2,121.4 L244.9,122.6 L245.6,123.8 L246.3,124.9 L247.0,126.1 L247.7,127.2 L248.4,128.2 L249.1,128.9 L249.8,129.5 L250.5,130.0 L251.2,130.3 L251.9,130.5 L252.6,130.7 L253.3,130.7 L254.0,130.6 L254.7,130.3 L255.4,130.0 L256.1,129.5 L256.8,128.8 L257.5,128.1 L258.2,127.3 L258.9,126.6 L259.6,125.9 L260.3,125.3 L261.0,124.8 L261.7,124.3 L262.4,123.9 L263.1,123.5 L263.8,123.2 L264.5,123.1 L265.2,123.0 L265.9,123.0 L266.6,123.1 L267.3,123.3 L268.0,123.6 L268.7,124.0 L269.4,124.4 L270.1,124.8 L270.8,125.2 L271.5,125.7 L272.2,126.2 L272.9,126.7 L273.6,127.3 L274.3,127.9 L275.0,128.5 L275.7,129.1 L276.4,129.7 L277.1,130.4 L277.8,131.1 L278.5,131.8 L279.2,132.6 L279.9,133.4 L280.6,134.2 L281.3,135.1 L282.0,136.1 L282.7,137.1 L283.4,138.3 L284.1,139.4 L284.8,140.6 L285.5,141.6 L286.2,142.4 L286.9,143.3 L287.6,144.1 L288.3,144.9 L289.0,145.6 L289.7,146.4 L290.4,147.1 L291.1,147.8 L291.8,148.5 L292.5,149.2 L293.2,149.9 L293.9,150.6 L294.8,151.5" fill="none" stroke="#228b22" stroke-width="1" stroke-linejoin="round"/><line x1="220.5" x2="294.8" y1="145.5" y2="145.5" stroke="#6a6a6a" stroke-width="0.9" stroke-dasharray="0.75 1.15"/></g>
<path d="M219.7,99.2 V168.5 H294.8" fill="none" stroke="#b2b2b2" stroke-width="1"/>
<path d="M257.2,168.5 v-1 M294.8,168.5 v-1 " stroke="#b2b2b2" stroke-width="1" fill="none"/>
<g clip-path="url(#cD2)"><path d="M315.7,123.1 L316.4,122.6 L317.1,122.2 L317.8,121.7 L318.5,121.3 L319.2,120.9 L319.9,120.4 L320.6,120.0 L321.3,119.5 L322.0,119.1 L322.7,118.7 L323.4,118.3 L324.1,117.8 L324.8,117.4 L325.5,117.0 L326.2,116.6 L326.9,116.2 L327.6,115.9 L328.3,115.6 L329.0,115.4 L329.7,115.3 L330.4,115.2 L331.1,115.2 L331.8,115.3 L332.5,115.5 L333.2,115.7 L333.9,116.0 L334.6,116.4 L335.3,116.8 L336.0,117.4 L336.7,118.1 L337.4,118.8 L338.1,119.7 L338.8,120.6 L339.5,121.6 L340.2,122.6 L340.9,123.6 L341.6,124.7 L342.3,125.7 L343.0,126.6 L343.7,127.6 L344.4,128.4 L345.1,129.3 L345.8,130.2 L346.5,131.0 L347.2,131.9 L347.9,132.7 L348.6,133.5 L349.3,134.3 L350.0,135.0 L350.7,135.8 L351.4,136.5 L352.1,137.1 L352.8,137.7 L353.5,138.3 L354.2,138.9 L354.9,139.4 L355.6,139.9 L356.3,140.3 L357.0,140.7 L357.7,141.1 L358.4,141.4 L359.1,141.7 L359.8,142.0 L360.5,142.3 L361.2,142.5 L361.9,142.7 L362.6,142.9 L363.3,143.1 L364.0,143.2 L364.7,143.2 L365.4,143.2 L366.1,143.2 L366.8,143.0 L367.5,142.8 L368.2,142.5 L368.9,142.1 L369.6,141.6 L370.3,141.1 L371.0,140.5 L371.7,139.9 L372.4,139.3 L373.1,138.6 L373.8,137.8 L374.5,137.1 L375.2,136.3 L375.9,135.5 L376.6,134.7 L377.3,133.9 L378.0,133.1 L378.7,132.2 L379.4,131.4 L380.1,130.5 L380.8,129.7 L381.5,128.9 L382.2,128.0 L382.9,127.2 L383.6,126.5 L384.3,125.8 L385.0,125.1 L385.7,124.5 L386.4,123.9 L387.1,123.3 L387.8,122.8 L388.5,122.3 L389.2,121.9 L389.9,121.5 L390.8,121.1 L390.8,129.6 L389.9,130.1 L389.2,130.4 L388.5,130.8 L387.8,131.3 L387.1,131.8 L386.4,132.4 L385.7,133.0 L385.0,133.6 L384.3,134.3 L383.6,135.0 L382.9,135.8 L382.2,136.5 L381.5,137.3 L380.8,138.2 L380.1,139.1 L379.4,140.0 L378.7,140.8 L378.0,141.6 L377.3,142.3 L376.6,143.0 L375.9,143.6 L375.2,144.3 L374.5,144.9 L373.8,145.6 L373.1,146.2 L372.4,146.8 L371.7,147.4 L371.0,148.1 L370.3,148.7 L369.6,149.2 L368.9,149.8 L368.2,150.1 L367.5,150.4 L366.8,150.6 L366.1,150.7 L365.4,150.8 L364.7,150.9 L364.0,151.0 L363.3,151.1 L362.6,151.1 L361.9,151.1 L361.2,151.0 L360.5,150.8 L359.8,150.6 L359.1,150.4 L358.4,150.1 L357.7,149.8 L357.0,149.5 L356.3,149.2 L355.6,148.9 L354.9,148.5 L354.2,148.2 L353.5,147.8 L352.8,147.5 L352.1,147.1 L351.4,146.7 L350.7,146.2 L350.0,145.7 L349.3,145.1 L348.6,144.5 L347.9,143.8 L347.2,143.1 L346.5,142.4 L345.8,141.7 L345.1,141.0 L344.4,140.2 L343.7,139.5 L343.0,138.7 L342.3,138.0 L341.6,137.2 L340.9,136.4 L340.2,135.6 L339.5,134.8 L338.8,134.1 L338.1,133.3 L337.4,132.6 L336.7,131.9 L336.0,131.2 L335.3,130.5 L334.6,129.9 L333.9,129.3 L333.2,128.8 L332.5,128.3 L331.8,127.8 L331.1,127.5 L330.4,127.2 L329.7,127.0 L329.0,126.8 L328.3,126.8 L327.6,126.7 L326.9,126.8 L326.2,126.8 L325.5,126.9 L324.8,127.0 L324.1,127.1 L323.4,127.2 L322.7,127.3 L322.0,127.4 L321.3,127.6 L320.6,127.7 L319.9,127.9 L319.2,128.1 L318.5,128.3 L317.8,128.4 L317.1,128.6 L316.4,128.8 L315.7,129.0Z" fill="#b22222" fill-opacity="0.5"/><path d="M315.7,126.2 L316.4,125.9 L317.1,125.6 L317.8,125.3 L318.5,125.0 L319.2,124.7 L319.9,124.4 L320.6,124.1 L321.3,123.9 L322.0,123.6 L322.7,123.3 L323.4,123.1 L324.1,122.8 L324.8,122.6 L325.5,122.3 L326.2,122.1 L326.9,121.9 L327.6,121.8 L328.3,121.7 L329.0,121.7 L329.7,121.7 L330.4,121.8 L331.1,122.0 L331.8,122.3 L332.5,122.6 L333.2,122.9 L333.9,123.3 L334.6,123.7 L335.3,124.2 L336.0,124.8 L336.7,125.4 L337.4,126.0 L338.1,126.8 L338.8,127.6 L339.5,128.4 L340.2,129.2 L340.9,130.0 L341.6,130.8 L342.3,131.6 L343.0,132.4 L343.7,133.2 L344.4,134.0 L345.1,134.8 L345.8,135.6 L346.5,136.4 L347.2,137.1 L347.9,137.9 L348.6,138.7 L349.3,139.4 L350.0,140.1 L350.7,140.7 L351.4,141.3 L352.1,141.8 L352.8,142.3 L353.5,142.8 L354.2,143.2 L354.9,143.7 L355.6,144.1 L356.3,144.5 L357.0,144.9 L357.7,145.2 L358.4,145.6 L359.1,145.9 L359.8,146.2 L360.5,146.5 L361.2,146.8 L361.9,147.0 L362.6,147.2 L363.3,147.4 L364.0,147.5 L364.7,147.5 L365.4,147.5 L366.1,147.3 L366.8,147.1 L367.5,146.8 L368.2,146.4 L368.9,146.0 L369.6,145.6 L370.3,145.1 L371.0,144.7 L371.7,144.1 L372.4,143.5 L373.1,142.9 L373.8,142.1 L374.5,141.3 L375.2,140.4 L375.9,139.6 L376.6,138.7 L377.3,137.9 L378.0,137.0 L378.7,136.2 L379.4,135.4 L380.1,134.6 L380.8,133.9 L381.5,133.1 L382.2,132.3 L382.9,131.5 L383.6,130.8 L384.3,130.1 L385.0,129.4 L385.7,128.8 L386.4,128.1 L387.1,127.5 L387.8,127.0 L388.5,126.6 L389.2,126.2 L389.9,125.8 L390.8,125.4" fill="none" stroke="#b22222" stroke-width="1" stroke-linejoin="round"/><path d="M315.7,106.9 L316.4,110.5 L317.1,113.5 L317.8,115.8 L318.5,117.3 L319.2,118.5 L319.9,119.3 L320.6,119.7 L321.3,119.6 L322.0,119.4 L322.7,119.2 L323.4,118.9 L324.1,118.6 L324.8,118.4 L325.5,118.2 L326.2,118.1 L326.9,118.0 L327.6,117.9 L328.3,117.9 L329.0,118.0 L329.7,118.3 L330.4,118.8 L331.1,119.4 L331.8,120.1 L332.5,120.8 L333.2,121.7 L333.9,122.6 L334.6,123.5 L335.3,124.5 L336.0,125.4 L336.7,126.3 L337.4,127.3 L338.1,128.2 L338.8,129.1 L339.5,130.1 L340.2,131.0 L340.9,131.9 L341.6,132.9 L342.3,133.8 L343.0,134.7 L343.7,135.7 L344.4,136.6 L345.1,137.5 L345.8,138.5 L346.5,139.4 L347.2,140.5 L347.9,141.8 L348.6,143.3 L349.3,144.9 L350.0,146.4 L350.7,147.8 L351.4,148.9 L352.1,150.0 L352.8,151.0 L353.5,151.9 L354.2,152.7 L354.9,153.5 L355.6,154.2 L356.3,154.8 L357.0,155.2 L357.7,155.5 L358.4,155.8 L359.1,155.9 L359.8,156.0 L360.5,156.0 L361.2,155.8 L361.9,155.4 L362.6,154.8 L363.3,154.1 L364.0,153.2 L364.7,152.1 L365.4,150.8 L366.1,149.4 L366.8,147.9 L367.5,146.2 L368.2,144.4 L368.9,142.5 L369.6,140.5 L370.3,138.4 L371.0,136.2 L371.7,133.9 L372.4,131.5 L373.1,128.8 L373.8,125.9 L374.5,123.0 L375.2,120.1 L375.9,117.3 L376.6,114.6 L377.3,112.2 L378.0,109.8 L378.7,107.7 L379.4,105.7 L380.1,104.0 L380.8,102.6 L381.5,101.5 L382.2,100.7 L382.9,100.2 L383.6,99.8 L384.3,99.5 L385.0,99.2 L385.7,99.0 L386.4,98.9 L387.1,98.8 L387.8,98.8 L388.5,98.9 L389.2,99.1 L389.9,99.3 L390.8,99.8 L390.8,110.6 L389.9,109.7 L389.2,109.2 L388.5,109.0 L387.8,109.1 L387.1,109.6 L386.4,110.3 L385.7,111.2 L385.0,112.3 L384.3,113.6 L383.6,115.1 L382.9,116.8 L382.2,118.5 L381.5,120.3 L380.8,122.2 L380.1,124.1 L379.4,126.2 L378.7,128.4 L378.0,130.8 L377.3,133.2 L376.6,135.5 L375.9,137.9 L375.2,140.2 L374.5,142.4 L373.8,144.6 L373.1,146.7 L372.4,148.8 L371.7,150.9 L371.0,152.9 L370.3,154.9 L369.6,156.7 L368.9,158.5 L368.2,160.1 L367.5,161.6 L366.8,163.0 L366.1,164.3 L365.4,165.3 L364.7,166.1 L364.0,166.7 L363.3,167.3 L362.6,167.7 L361.9,168.1 L361.2,168.4 L360.5,168.7 L359.8,168.9 L359.1,169.0 L358.4,169.0 L357.7,168.7 L357.0,168.3 L356.3,167.7 L355.6,166.8 L354.9,165.8 L354.2,164.6 L353.5,163.3 L352.8,161.9 L352.1,160.4 L351.4,158.9 L350.7,157.5 L350.0,156.1 L349.3,154.9 L348.6,153.7 L347.9,152.6 L347.2,151.4 L346.5,150.2 L345.8,149.1 L345.1,147.9 L344.4,146.7 L343.7,145.6 L343.0,144.4 L342.3,143.2 L341.6,142.1 L340.9,140.9 L340.2,139.8 L339.5,138.8 L338.8,137.9 L338.1,137.0 L337.4,136.2 L336.7,135.3 L336.0,134.5 L335.3,133.7 L334.6,133.0 L333.9,132.3 L333.2,131.7 L332.5,131.1 L331.8,130.6 L331.1,130.1 L330.4,129.8 L329.7,129.6 L329.0,129.5 L328.3,129.6 L327.6,129.8 L326.9,130.0 L326.2,130.3 L325.5,130.5 L324.8,130.7 L324.1,131.0 L323.4,131.2 L322.7,131.4 L322.0,131.7 L321.3,131.9 L320.6,132.1 L319.9,132.4 L319.2,132.6 L318.5,132.8 L317.8,133.1 L317.1,133.4 L316.4,133.6 L315.7,133.9Z" fill="#228b22" fill-opacity="0.5"/><path d="M315.7,122.5 L316.4,124.1 L317.1,125.4 L317.8,126.4 L318.5,126.8 L319.2,126.6 L319.9,126.4 L320.6,126.1 L321.3,125.8 L322.0,125.5 L322.7,125.3 L323.4,125.0 L324.1,124.8 L324.8,124.6 L325.5,124.3 L326.2,124.1 L326.9,123.9 L327.6,123.8 L328.3,123.8 L329.0,123.9 L329.7,124.1 L330.4,124.4 L331.1,124.9 L331.8,125.4 L332.5,126.0 L333.2,126.6 L333.9,127.3 L334.6,128.0 L335.3,128.8 L336.0,129.6 L336.7,130.5 L337.4,131.3 L338.1,132.1 L338.8,133.0 L339.5,133.9 L340.2,134.7 L340.9,135.6 L341.6,136.6 L342.3,137.5 L343.0,138.5 L343.7,139.5 L344.4,140.5 L345.1,141.6 L345.8,142.7 L346.5,144.0 L347.2,145.2 L347.9,146.4 L348.6,147.7 L349.3,149.1 L350.0,150.6 L350.7,152.0 L351.4,153.5 L352.1,154.8 L352.8,156.1 L353.5,157.2 L354.2,158.2 L354.9,159.0 L355.6,159.8 L356.3,160.6 L357.0,161.3 L357.7,161.8 L358.4,162.1 L359.1,162.4 L359.8,162.4 L360.5,162.3 L361.2,162.1 L361.9,161.6 L362.6,161.1 L363.3,160.3 L364.0,159.5 L364.7,158.5 L365.4,157.4 L366.1,156.2 L366.8,155.0 L367.5,153.6 L368.2,152.1 L368.9,150.5 L369.6,148.7 L370.3,146.7 L371.0,144.7 L371.7,142.6 L372.4,140.4 L373.1,138.2 L373.8,135.8 L374.5,133.3 L375.2,130.7 L375.9,128.0 L376.6,125.4 L377.3,122.8 L378.0,120.5 L378.7,118.3 L379.4,116.3 L380.1,114.4 L380.8,112.6 L381.5,111.0 L382.2,109.4 L382.9,108.0 L383.6,106.8 L384.3,105.8 L385.0,104.9 L385.7,104.1 L386.4,103.6 L387.1,103.1 L387.8,102.9 L388.5,102.7 L389.2,102.7 L389.9,102.9 L390.8,103.2" fill="none" stroke="#228b22" stroke-width="1" stroke-linejoin="round"/><line x1="316.5" x2="390.8" y1="145.5" y2="145.5" stroke="#6a6a6a" stroke-width="0.9" stroke-dasharray="0.75 1.15"/></g>
<path d="M315.7,99.2 V168.5 H390.8" fill="none" stroke="#b2b2b2" stroke-width="1"/>
<path d="M353.3,168.5 v-1 M390.8,168.5 v-1 " stroke="#b2b2b2" stroke-width="1" fill="none"/>
<g clip-path="url(#cE2)"><line x1="412.6" x2="486.9" y1="140.5" y2="140.5" stroke="#b8b8b8" stroke-width="0.9" stroke-dasharray="0.75 1.15"/><path d="M411.8,132.9 L412.5,132.8 L413.2,132.6 L413.9,132.4 L414.6,132.2 L415.3,132.1 L416.0,131.9 L416.7,131.8 L417.4,131.7 L418.1,131.5 L418.8,131.4 L419.5,131.3 L420.2,131.2 L420.9,131.1 L421.6,131.1 L422.3,131.0 L423.0,131.0 L423.7,131.0 L424.4,131.0 L425.1,131.0 L425.8,131.1 L426.5,131.1 L427.2,131.2 L427.9,131.3 L428.6,131.5 L429.3,131.6 L430.0,131.9 L430.7,132.1 L431.4,132.4 L432.1,132.7 L432.8,133.1 L433.5,133.4 L434.2,133.8 L434.9,134.1 L435.6,134.5 L436.3,134.9 L437.0,135.3 L437.7,135.7 L438.4,136.1 L439.1,136.6 L439.8,137.0 L440.5,137.5 L441.2,137.9 L441.9,138.3 L442.6,138.6 L443.3,138.9 L444.0,139.2 L444.7,139.5 L445.4,139.7 L446.1,139.9 L446.8,140.1 L447.5,140.3 L448.2,140.5 L448.9,140.6 L449.6,140.8 L450.3,140.9 L451.0,141.0 L451.7,141.1 L452.4,141.2 L453.1,141.2 L453.8,141.3 L454.5,141.3 L455.2,141.2 L455.9,141.2 L456.6,141.1 L457.3,141.0 L458.0,140.9 L458.7,140.8 L459.4,140.6 L460.1,140.5 L460.8,140.3 L461.5,140.0 L462.2,139.8 L462.9,139.6 L463.6,139.3 L464.3,139.0 L465.0,138.6 L465.7,138.3 L466.4,137.9 L467.1,137.5 L467.8,137.1 L468.5,136.7 L469.2,136.3 L469.9,135.9 L470.6,135.5 L471.3,135.2 L472.0,134.9 L472.7,134.5 L473.4,134.2 L474.1,133.9 L474.8,133.6 L475.5,133.3 L476.2,133.0 L476.9,132.8 L477.6,132.6 L478.3,132.4 L479.0,132.3 L479.7,132.1 L480.4,132.0 L481.1,132.0 L481.8,131.9 L482.5,131.8 L483.2,131.8 L483.9,131.8 L484.6,131.8 L485.3,131.8 L486.0,131.8 L486.9,131.9 L486.9,134.7 L486.0,134.6 L485.3,134.6 L484.6,134.5 L483.9,134.5 L483.2,134.6 L482.5,134.6 L481.8,134.7 L481.1,134.9 L480.4,135.0 L479.7,135.2 L479.0,135.4 L478.3,135.6 L477.6,135.8 L476.9,136.1 L476.2,136.4 L475.5,136.8 L474.8,137.1 L474.1,137.5 L473.4,137.9 L472.7,138.3 L472.0,138.7 L471.3,139.1 L470.6,139.5 L469.9,139.9 L469.2,140.4 L468.5,140.9 L467.8,141.3 L467.1,141.8 L466.4,142.3 L465.7,142.7 L465.0,143.2 L464.3,143.6 L463.6,144.0 L462.9,144.3 L462.2,144.7 L461.5,145.0 L460.8,145.2 L460.1,145.5 L459.4,145.7 L458.7,145.9 L458.0,146.1 L457.3,146.2 L456.6,146.3 L455.9,146.4 L455.2,146.4 L454.5,146.4 L453.8,146.4 L453.1,146.3 L452.4,146.3 L451.7,146.2 L451.0,146.1 L450.3,146.0 L449.6,145.9 L448.9,145.7 L448.2,145.6 L447.5,145.4 L446.8,145.2 L446.1,145.1 L445.4,144.9 L444.7,144.7 L444.0,144.4 L443.3,144.1 L442.6,143.8 L441.9,143.3 L441.2,142.9 L440.5,142.5 L439.8,142.1 L439.1,141.7 L438.4,141.2 L437.7,140.8 L437.0,140.4 L436.3,140.0 L435.6,139.6 L434.9,139.1 L434.2,138.7 L433.5,138.3 L432.8,137.9 L432.1,137.5 L431.4,137.0 L430.7,136.6 L430.0,136.3 L429.3,136.0 L428.6,135.9 L427.9,135.8 L427.2,135.7 L426.5,135.7 L425.8,135.6 L425.1,135.6 L424.4,135.5 L423.7,135.5 L423.0,135.4 L422.3,135.4 L421.6,135.3 L420.9,135.3 L420.2,135.3 L419.5,135.3 L418.8,135.3 L418.1,135.3 L417.4,135.4 L416.7,135.4 L416.0,135.4 L415.3,135.5 L414.6,135.5 L413.9,135.6 L413.2,135.7 L412.5,135.7 L411.8,135.8Z" fill="#b22222" fill-opacity="0.5"/><path d="M411.8,134.4 L412.5,134.2 L413.2,134.1 L413.9,134.0 L414.6,133.9 L415.3,133.8 L416.0,133.7 L416.7,133.6 L417.4,133.5 L418.1,133.4 L418.8,133.4 L419.5,133.3 L420.2,133.3 L420.9,133.2 L421.6,133.2 L422.3,133.2 L423.0,133.2 L423.7,133.2 L424.4,133.3 L425.1,133.3 L425.8,133.3 L426.5,133.4 L427.2,133.5 L427.9,133.6 L428.6,133.7 L429.3,133.9 L430.0,134.1 L430.7,134.4 L431.4,134.7 L432.1,135.1 L432.8,135.4 L433.5,135.8 L434.2,136.2 L434.9,136.6 L435.6,137.0 L436.3,137.4 L437.0,137.8 L437.7,138.3 L438.4,138.7 L439.1,139.1 L439.8,139.6 L440.5,140.0 L441.2,140.4 L441.9,140.8 L442.6,141.2 L443.3,141.5 L444.0,141.8 L444.7,142.1 L445.4,142.3 L446.1,142.5 L446.8,142.7 L447.5,142.9 L448.2,143.0 L448.9,143.2 L449.6,143.3 L450.3,143.5 L451.0,143.6 L451.7,143.6 L452.4,143.7 L453.1,143.8 L453.8,143.8 L454.5,143.8 L455.2,143.8 L455.9,143.8 L456.6,143.7 L457.3,143.6 L458.0,143.5 L458.7,143.4 L459.4,143.2 L460.1,143.0 L460.8,142.8 L461.5,142.5 L462.2,142.2 L462.9,141.9 L463.6,141.6 L464.3,141.3 L465.0,140.9 L465.7,140.5 L466.4,140.1 L467.1,139.6 L467.8,139.2 L468.5,138.8 L469.2,138.3 L469.9,137.9 L470.6,137.5 L471.3,137.1 L472.0,136.8 L472.7,136.4 L473.4,136.0 L474.1,135.7 L474.8,135.4 L475.5,135.0 L476.2,134.7 L476.9,134.4 L477.6,134.2 L478.3,134.0 L479.0,133.8 L479.7,133.7 L480.4,133.5 L481.1,133.4 L481.8,133.3 L482.5,133.2 L483.2,133.2 L483.9,133.2 L484.6,133.1 L485.3,133.2 L486.0,133.2 L486.9,133.3" fill="none" stroke="#b22222" stroke-width="1" stroke-linejoin="round"/><path d="M411.8,113.9 L412.5,116.7 L413.2,118.2 L413.9,118.5 L414.6,118.5 L415.3,118.0 L416.0,117.0 L416.7,115.6 L417.4,114.1 L418.1,112.6 L418.8,111.1 L419.5,109.8 L420.2,108.5 L420.9,107.4 L421.6,106.3 L422.3,105.5 L423.0,105.0 L423.7,104.6 L424.4,104.3 L425.1,104.2 L425.8,104.1 L426.5,104.1 L427.2,104.1 L427.9,104.2 L428.6,104.5 L429.3,104.9 L430.0,105.4 L430.7,106.1 L431.4,107.4 L432.1,109.2 L432.8,111.7 L433.5,114.1 L434.2,116.6 L434.9,119.0 L435.6,121.5 L436.3,123.9 L437.0,126.4 L437.7,128.8 L438.4,131.1 L439.1,132.9 L439.8,134.2 L440.5,135.0 L441.2,135.6 L441.9,136.1 L442.6,136.5 L443.3,136.7 L444.0,136.8 L444.7,136.8 L445.4,136.6 L446.1,136.4 L446.8,136.2 L447.5,136.0 L448.2,135.7 L448.9,135.4 L449.6,135.2 L450.3,134.9 L451.0,134.6 L451.7,134.3 L452.4,134.0 L453.1,133.6 L453.8,133.1 L454.5,132.6 L455.2,132.0 L455.9,131.4 L456.6,130.7 L457.3,130.1 L458.0,129.4 L458.7,128.7 L459.4,128.0 L460.1,127.3 L460.8,126.6 L461.5,125.9 L462.2,125.2 L462.9,124.7 L463.6,124.4 L464.3,124.1 L465.0,123.8 L465.7,123.2 L466.4,122.4 L467.1,121.3 L467.8,120.2 L468.5,119.0 L469.2,117.7 L469.9,116.5 L470.6,115.3 L471.3,114.2 L472.0,113.1 L472.7,111.9 L473.4,110.8 L474.1,109.8 L474.8,108.9 L475.5,108.4 L476.2,108.5 L476.9,109.0 L477.6,109.7 L478.3,110.4 L479.0,111.1 L479.7,111.8 L480.4,112.5 L481.1,113.2 L481.8,113.9 L482.5,114.6 L483.2,115.3 L483.9,116.1 L484.6,116.8 L485.3,117.5 L486.0,118.2 L486.9,119.1 L486.9,126.8 L486.0,125.6 L485.3,124.7 L484.6,123.9 L483.9,123.1 L483.2,122.4 L482.5,121.7 L481.8,121.1 L481.1,120.6 L480.4,120.2 L479.7,119.9 L479.0,119.7 L478.3,119.7 L477.6,119.9 L476.9,120.4 L476.2,121.1 L475.5,122.1 L474.8,123.0 L474.1,123.9 L473.4,124.9 L472.7,125.8 L472.0,126.7 L471.3,127.7 L470.6,128.6 L469.9,129.5 L469.2,130.5 L468.5,131.4 L467.8,132.3 L467.1,133.2 L466.4,134.1 L465.7,134.8 L465.0,135.5 L464.3,136.1 L463.6,136.6 L462.9,137.1 L462.2,137.5 L461.5,138.0 L460.8,138.5 L460.1,138.9 L459.4,139.4 L458.7,139.9 L458.0,140.3 L457.3,140.8 L456.6,141.3 L455.9,141.7 L455.2,142.2 L454.5,142.8 L453.8,144.0 L453.1,145.6 L452.4,147.3 L451.7,149.2 L451.0,151.6 L450.3,154.1 L449.6,156.3 L448.9,157.9 L448.2,158.9 L447.5,159.6 L446.8,159.9 L446.1,159.9 L445.4,159.7 L444.7,159.1 L444.0,158.5 L443.3,157.8 L442.6,157.0 L441.9,155.9 L441.2,154.6 L440.5,153.1 L439.8,151.5 L439.1,149.8 L438.4,148.0 L437.7,146.0 L437.0,143.9 L436.3,141.7 L435.6,139.6 L434.9,137.6 L434.2,135.6 L433.5,133.7 L432.8,131.9 L432.1,130.1 L431.4,128.5 L430.7,127.2 L430.0,126.2 L429.3,125.2 L428.6,124.5 L427.9,124.0 L427.2,123.8 L426.5,124.0 L425.8,124.3 L425.1,124.9 L424.4,125.8 L423.7,126.9 L423.0,128.2 L422.3,129.5 L421.6,131.0 L420.9,132.5 L420.2,134.3 L419.5,136.3 L418.8,138.2 L418.1,139.5 L417.4,139.9 L416.7,139.7 L416.0,139.0 L415.3,138.2 L414.6,137.5 L413.9,136.7 L413.2,136.0 L412.5,135.2 L411.8,134.2Z" fill="#228b22" fill-opacity="0.5"/><path d="M411.8,125.7 L412.5,126.6 L413.2,127.2 L413.9,127.6 L414.6,127.6 L415.3,127.5 L416.0,127.2 L416.7,126.8 L417.4,126.2 L418.1,125.3 L418.8,124.3 L419.5,123.1 L420.2,121.8 L420.9,120.6 L421.6,119.4 L422.3,118.3 L423.0,117.4 L423.7,116.6 L424.4,115.8 L425.1,115.2 L425.8,114.6 L426.5,114.1 L427.2,113.7 L427.9,113.7 L428.6,113.9 L429.3,114.5 L430.0,115.2 L430.7,116.2 L431.4,117.5 L432.1,119.2 L432.8,121.3 L433.5,123.4 L434.2,125.5 L434.9,127.6 L435.6,129.7 L436.3,131.8 L437.0,133.9 L437.7,136.0 L438.4,138.1 L439.1,139.9 L439.8,141.6 L440.5,143.2 L441.2,144.7 L441.9,145.8 L442.6,146.7 L443.3,147.4 L444.0,147.8 L444.7,148.0 L445.4,148.1 L446.1,148.0 L446.8,147.8 L447.5,147.4 L448.2,146.9 L448.9,146.2 L449.6,145.4 L450.3,144.3 L451.0,143.2 L451.7,142.1 L452.4,141.0 L453.1,140.0 L453.8,139.3 L454.5,138.5 L455.2,137.8 L455.9,137.1 L456.6,136.4 L457.3,135.7 L458.0,135.1 L458.7,134.5 L459.4,133.9 L460.1,133.3 L460.8,132.7 L461.5,132.1 L462.2,131.5 L462.9,130.8 L463.6,130.2 L464.3,129.6 L465.0,128.9 L465.7,128.3 L466.4,127.5 L467.1,126.6 L467.8,125.6 L468.5,124.4 L469.2,123.3 L469.9,122.1 L470.6,121.0 L471.3,120.0 L472.0,119.1 L472.7,118.1 L473.4,117.2 L474.1,116.3 L474.8,115.4 L475.5,114.6 L476.2,114.0 L476.9,113.8 L477.6,114.0 L478.3,114.6 L479.0,115.3 L479.7,116.0 L480.4,116.8 L481.1,117.5 L481.8,118.2 L482.5,118.8 L483.2,119.4 L483.9,120.0 L484.6,120.6 L485.3,121.2 L486.0,121.8 L486.9,122.5" fill="none" stroke="#228b22" stroke-width="1" stroke-linejoin="round"/></g>
<path d="M411.8,99.2 V168.5 H486.9" fill="none" stroke="#b2b2b2" stroke-width="1"/>
<path d="M449.4,168.5 v-1 M486.9,168.5 v-1 " stroke="#b2b2b2" stroke-width="1" fill="none"/>
<g clip-path="url(#cF2)"><path d="M507.9,139.0 L508.6,138.8 L509.3,138.6 L510.0,138.4 L510.7,138.3 L511.4,138.1 L512.1,137.9 L512.8,137.7 L513.5,137.5 L514.2,137.4 L514.9,137.2 L515.6,137.0 L516.3,136.8 L517.0,136.6 L517.7,136.5 L518.4,136.3 L519.1,136.1 L519.8,136.0 L520.5,135.8 L521.2,135.7 L521.9,135.6 L522.6,135.5 L523.3,135.5 L524.0,135.5 L524.7,135.5 L525.4,135.5 L526.1,135.6 L526.8,135.7 L527.5,135.8 L528.2,136.0 L528.9,136.2 L529.6,136.5 L530.3,136.8 L531.0,137.2 L531.7,137.7 L532.4,138.2 L533.1,138.6 L533.8,139.1 L534.5,139.6 L535.2,140.1 L535.9,140.6 L536.6,141.1 L537.3,141.6 L538.0,142.1 L538.7,142.6 L539.4,143.1 L540.1,143.5 L540.8,144.0 L541.5,144.5 L542.2,145.0 L542.9,145.5 L543.6,145.9 L544.3,146.2 L545.0,146.5 L545.7,146.6 L546.4,146.7 L547.1,146.7 L547.8,146.7 L548.5,146.6 L549.2,146.6 L549.9,146.6 L550.6,146.5 L551.3,146.4 L552.0,146.3 L552.7,146.2 L553.4,146.0 L554.1,145.8 L554.8,145.6 L555.5,145.3 L556.2,145.0 L556.9,144.7 L557.6,144.4 L558.3,144.1 L559.0,143.9 L559.7,143.6 L560.4,143.3 L561.1,143.0 L561.8,142.8 L562.5,142.5 L563.2,142.2 L563.9,142.0 L564.6,141.9 L565.3,141.8 L566.0,141.8 L566.7,141.9 L567.4,142.0 L568.1,142.2 L568.8,142.3 L569.5,142.5 L570.2,142.7 L570.9,142.9 L571.6,143.0 L572.3,143.2 L573.0,143.4 L573.7,143.6 L574.4,143.8 L575.1,143.9 L575.8,144.1 L576.5,144.3 L577.2,144.4 L577.9,144.5 L578.6,144.4 L579.3,144.3 L580.0,144.2 L580.7,143.9 L581.4,143.7 L582.1,143.4 L583.0,142.9 L583.0,150.3 L582.1,150.4 L581.4,150.5 L580.7,150.6 L580.0,150.6 L579.3,150.5 L578.6,150.4 L577.9,150.3 L577.2,150.1 L576.5,149.9 L575.8,149.6 L575.1,149.3 L574.4,148.9 L573.7,148.6 L573.0,148.3 L572.3,147.9 L571.6,147.6 L570.9,147.4 L570.2,147.1 L569.5,146.8 L568.8,146.6 L568.1,146.3 L567.4,146.1 L566.7,146.0 L566.0,145.8 L565.3,145.8 L564.6,145.8 L563.9,145.8 L563.2,145.9 L562.5,146.1 L561.8,146.3 L561.1,146.5 L560.4,146.7 L559.7,147.0 L559.0,147.3 L558.3,147.5 L557.6,147.8 L556.9,148.1 L556.2,148.4 L555.5,148.7 L554.8,149.0 L554.1,149.2 L553.4,149.5 L552.7,149.7 L552.0,149.9 L551.3,150.1 L550.6,150.2 L549.9,150.4 L549.2,150.5 L548.5,150.6 L547.8,150.7 L547.1,150.7 L546.4,150.6 L545.7,150.5 L545.0,150.4 L544.3,150.2 L543.6,149.9 L542.9,149.5 L542.2,149.1 L541.5,148.6 L540.8,148.2 L540.1,147.8 L539.4,147.4 L538.7,147.0 L538.0,146.5 L537.3,146.1 L536.6,145.7 L535.9,145.3 L535.2,144.9 L534.5,144.4 L533.8,144.0 L533.1,143.6 L532.4,143.2 L531.7,142.8 L531.0,142.4 L530.3,142.0 L529.6,141.7 L528.9,141.4 L528.2,141.2 L527.5,141.0 L526.8,140.8 L526.1,140.7 L525.4,140.6 L524.7,140.5 L524.0,140.5 L523.3,140.4 L522.6,140.4 L521.9,140.4 L521.2,140.4 L520.5,140.4 L519.8,140.4 L519.1,140.4 L518.4,140.5 L517.7,140.5 L517.0,140.5 L516.3,140.6 L515.6,140.6 L514.9,140.7 L514.2,140.7 L513.5,140.8 L512.8,140.8 L512.1,140.9 L511.4,140.9 L510.7,141.0 L510.0,141.0 L509.3,141.1 L508.6,141.2 L507.9,141.2Z" fill="#b22222" fill-opacity="0.5"/><path d="M507.9,140.1 L508.6,140.0 L509.3,139.9 L510.0,139.7 L510.7,139.6 L511.4,139.5 L512.1,139.4 L512.8,139.3 L513.5,139.1 L514.2,139.0 L514.9,138.9 L515.6,138.8 L516.3,138.7 L517.0,138.6 L517.7,138.5 L518.4,138.4 L519.1,138.3 L519.8,138.2 L520.5,138.1 L521.2,138.0 L521.9,138.0 L522.6,137.9 L523.3,137.9 L524.0,138.0 L524.7,138.0 L525.4,138.1 L526.1,138.2 L526.8,138.3 L527.5,138.4 L528.2,138.6 L528.9,138.8 L529.6,139.1 L530.3,139.4 L531.0,139.8 L531.7,140.2 L532.4,140.7 L533.1,141.1 L533.8,141.6 L534.5,142.0 L535.2,142.5 L535.9,142.9 L536.6,143.4 L537.3,143.9 L538.0,144.3 L538.7,144.8 L539.4,145.2 L540.1,145.7 L540.8,146.1 L541.5,146.6 L542.2,147.0 L542.9,147.5 L543.6,147.9 L544.3,148.2 L545.0,148.4 L545.7,148.6 L546.4,148.6 L547.1,148.7 L547.8,148.7 L548.5,148.6 L549.2,148.6 L549.9,148.5 L550.6,148.4 L551.3,148.3 L552.0,148.1 L552.7,147.9 L553.4,147.8 L554.1,147.5 L554.8,147.3 L555.5,147.0 L556.2,146.7 L556.9,146.4 L557.6,146.1 L558.3,145.8 L559.0,145.6 L559.7,145.3 L560.4,145.0 L561.1,144.8 L561.8,144.5 L562.5,144.3 L563.2,144.1 L563.9,143.9 L564.6,143.8 L565.3,143.8 L566.0,143.8 L566.7,143.9 L567.4,144.1 L568.1,144.2 L568.8,144.4 L569.5,144.7 L570.2,144.9 L570.9,145.1 L571.6,145.3 L572.3,145.6 L573.0,145.8 L573.7,146.1 L574.4,146.4 L575.1,146.6 L575.8,146.9 L576.5,147.1 L577.2,147.3 L577.9,147.4 L578.6,147.4 L579.3,147.4 L580.0,147.4 L580.7,147.2 L581.4,147.1 L582.1,146.9 L583.0,146.6" fill="none" stroke="#b22222" stroke-width="1" stroke-linejoin="round"/><path d="M507.9,108.3 L508.6,111.3 L509.3,114.2 L510.0,117.1 L510.7,120.0 L511.4,122.9 L512.1,125.7 L512.8,128.5 L513.5,131.0 L514.2,133.3 L514.9,135.3 L515.6,137.2 L516.3,139.0 L517.0,140.8 L517.7,142.5 L518.4,144.2 L519.1,145.8 L519.8,147.2 L520.5,148.6 L521.2,149.8 L521.9,150.8 L522.6,151.6 L523.3,152.1 L524.0,152.3 L524.7,152.4 L525.4,152.3 L526.1,151.9 L526.8,151.4 L527.5,150.6 L528.2,149.8 L528.9,149.0 L529.6,148.1 L530.3,147.2 L531.0,146.2 L531.7,145.1 L532.4,144.0 L533.1,143.0 L533.8,142.0 L534.5,141.3 L535.2,140.6 L535.9,140.0 L536.6,139.3 L537.3,138.5 L538.0,138.0 L538.7,138.2 L539.4,138.9 L540.1,139.6 L540.8,140.3 L541.5,141.0 L542.2,141.7 L542.9,142.4 L543.6,143.1 L544.3,143.8 L545.0,144.5 L545.7,145.2 L546.4,145.8 L547.1,146.2 L547.8,146.5 L548.5,146.6 L549.2,146.7 L549.9,146.6 L550.6,146.6 L551.3,146.4 L552.0,146.2 L552.7,146.0 L553.4,145.7 L554.1,145.3 L554.8,144.9 L555.5,144.4 L556.2,143.8 L556.9,143.2 L557.6,142.6 L558.3,142.0 L559.0,141.4 L559.7,140.8 L560.4,140.2 L561.1,139.5 L561.8,138.4 L562.5,136.8 L563.2,134.8 L563.9,132.8 L564.6,130.7 L565.3,128.7 L566.0,126.6 L566.7,124.6 L567.4,122.5 L568.1,120.5 L568.8,118.4 L569.5,116.4 L570.2,114.4 L570.9,112.7 L571.6,111.3 L572.3,110.1 L573.0,109.2 L573.7,108.4 L574.4,107.8 L575.1,107.4 L575.8,107.1 L576.5,107.0 L577.2,106.9 L577.9,106.9 L578.6,106.9 L579.3,107.0 L580.0,107.1 L580.7,107.3 L581.4,107.6 L582.1,107.9 L583.0,108.3 L583.0,118.3 L582.1,118.0 L581.4,117.9 L580.7,117.8 L580.0,117.8 L579.3,117.9 L578.6,118.0 L577.9,118.2 L577.2,118.5 L576.5,118.8 L575.8,119.3 L575.1,119.9 L574.4,120.7 L573.7,121.7 L573.0,122.9 L572.3,124.2 L571.6,125.6 L570.9,127.1 L570.2,128.7 L569.5,130.4 L568.8,132.2 L568.1,134.1 L567.4,135.8 L566.7,137.3 L566.0,138.8 L565.3,140.1 L564.6,141.3 L563.9,142.4 L563.2,143.3 L562.5,144.0 L561.8,144.7 L561.1,145.4 L560.4,146.0 L559.7,146.6 L559.0,147.1 L558.3,147.6 L557.6,148.1 L556.9,148.6 L556.2,149.1 L555.5,149.5 L554.8,150.0 L554.1,150.4 L553.4,150.8 L552.7,151.2 L552.0,151.5 L551.3,151.8 L550.6,152.1 L549.9,152.3 L549.2,152.6 L548.5,152.7 L547.8,152.8 L547.1,152.8 L546.4,152.6 L545.7,152.3 L545.0,151.8 L544.3,151.4 L543.6,150.9 L542.9,150.4 L542.2,150.0 L541.5,149.5 L540.8,149.0 L540.1,148.5 L539.4,148.0 L538.7,147.5 L538.0,147.2 L537.3,147.3 L536.6,147.5 L535.9,148.0 L535.2,148.5 L534.5,149.3 L533.8,150.5 L533.1,152.0 L532.4,153.9 L531.7,156.0 L531.0,158.2 L530.3,160.3 L529.6,162.3 L528.9,164.2 L528.2,166.0 L527.5,167.5 L526.8,168.6 L526.1,168.9 L525.4,168.7 L524.7,168.1 L524.0,167.4 L523.3,166.5 L522.6,165.5 L521.9,164.5 L521.2,163.8 L520.5,163.3 L519.8,162.9 L519.1,162.6 L518.4,162.3 L517.7,161.9 L517.0,161.4 L516.3,160.8 L515.6,160.1 L514.9,159.4 L514.2,158.6 L513.5,157.8 L512.8,156.7 L512.1,155.3 L511.4,153.7 L510.7,151.9 L510.0,149.9 L509.3,147.7 L508.6,145.1 L507.9,142.4Z" fill="#228b22" fill-opacity="0.5"/><path d="M507.9,124.8 L508.6,127.4 L509.3,130.0 L510.0,132.5 L510.7,134.8 L511.4,137.1 L512.1,139.3 L512.8,141.4 L513.5,143.3 L514.2,145.2 L514.9,146.9 L515.6,148.6 L516.3,150.1 L517.0,151.6 L517.7,153.0 L518.4,154.2 L519.1,155.4 L519.8,156.4 L520.5,157.3 L521.2,158.1 L521.9,158.8 L522.6,159.3 L523.3,159.7 L524.0,159.9 L524.7,160.0 L525.4,160.0 L526.1,159.9 L526.8,159.5 L527.5,158.6 L528.2,157.3 L528.9,155.9 L529.6,154.5 L530.3,153.1 L531.0,151.7 L531.7,150.3 L532.4,148.9 L533.1,147.5 L533.8,146.1 L534.5,145.2 L535.2,144.6 L535.9,144.1 L536.6,143.6 L537.3,143.1 L538.0,142.8 L538.7,143.0 L539.4,143.6 L540.1,144.1 L540.8,144.7 L541.5,145.2 L542.2,145.8 L542.9,146.4 L543.6,146.9 L544.3,147.5 L545.0,148.0 L545.7,148.6 L546.4,149.0 L547.1,149.3 L547.8,149.3 L548.5,149.2 L549.2,149.1 L549.9,148.9 L550.6,148.8 L551.3,148.6 L552.0,148.4 L552.7,148.1 L553.4,147.9 L554.1,147.5 L554.8,147.2 L555.5,146.8 L556.2,146.4 L556.9,145.9 L557.6,145.3 L558.3,144.8 L559.0,144.2 L559.7,143.5 L560.4,142.8 L561.1,141.9 L561.8,141.0 L562.5,139.9 L563.2,138.8 L563.9,137.5 L564.6,136.0 L565.3,134.5 L566.0,132.9 L566.7,131.2 L567.4,129.4 L568.1,127.5 L568.8,125.5 L569.5,123.5 L570.2,121.6 L570.9,119.9 L571.6,118.4 L572.3,117.1 L573.0,115.9 L573.7,115.0 L574.4,114.3 L575.1,113.7 L575.8,113.3 L576.5,113.0 L577.2,112.7 L577.9,112.6 L578.6,112.5 L579.3,112.4 L580.0,112.3 L580.7,112.3 L581.4,112.3 L582.1,112.4 L583.0,112.6" fill="none" stroke="#228b22" stroke-width="1" stroke-linejoin="round"/><line x1="508.7" x2="583.0" y1="145.5" y2="145.5" stroke="#8e8e8e" stroke-width="0.9" stroke-dasharray="0.75 1.15"/></g>
<path d="M507.9,99.2 V168.5 H583.0" fill="none" stroke="#b2b2b2" stroke-width="1"/>
<path d="M545.5,168.5 v-1 M583.0,168.5 v-1 " stroke="#b2b2b2" stroke-width="1" fill="none"/>
<g clip-path="url(#cG2)"><line x1="604.8" x2="679.1" y1="134.5" y2="134.5" stroke="#b8b8b8" stroke-width="0.9" stroke-dasharray="0.75 1.15"/><path d="M604.0,133.3 L604.7,133.2 L605.4,133.1 L606.1,133.1 L606.8,133.0 L607.5,132.9 L608.2,132.8 L608.9,132.6 L609.6,132.5 L610.3,132.4 L611.0,132.3 L611.7,132.1 L612.4,132.0 L613.1,131.8 L613.8,131.6 L614.5,131.5 L615.2,131.3 L615.9,131.1 L616.6,131.0 L617.3,130.9 L618.0,130.8 L618.7,130.7 L619.4,130.7 L620.1,130.6 L620.8,130.6 L621.5,130.6 L622.2,130.7 L622.9,130.7 L623.6,130.8 L624.3,130.9 L625.0,131.0 L625.7,131.1 L626.4,131.3 L627.1,131.4 L627.8,131.6 L628.5,131.7 L629.2,131.9 L629.9,132.0 L630.6,132.2 L631.3,132.3 L632.0,132.4 L632.7,132.5 L633.4,132.7 L634.1,132.8 L634.8,132.9 L635.5,133.0 L636.2,133.1 L636.9,133.1 L637.6,133.2 L638.3,133.2 L639.0,133.1 L639.7,133.0 L640.4,132.9 L641.1,132.8 L641.8,132.6 L642.5,132.5 L643.2,132.4 L643.9,132.2 L644.6,132.0 L645.3,131.8 L646.0,131.6 L646.7,131.4 L647.4,131.2 L648.1,131.1 L648.8,131.0 L649.5,130.9 L650.2,130.8 L650.9,130.7 L651.6,130.7 L652.3,130.6 L653.0,130.5 L653.7,130.5 L654.4,130.4 L655.1,130.4 L655.8,130.4 L656.5,130.4 L657.2,130.3 L657.9,130.4 L658.6,130.4 L659.3,130.4 L660.0,130.5 L660.7,130.6 L661.4,130.8 L662.1,131.0 L662.8,131.3 L663.5,131.6 L664.2,132.0 L664.9,132.4 L665.6,132.8 L666.3,133.3 L667.0,133.8 L667.7,134.3 L668.4,134.8 L669.1,135.3 L669.8,135.8 L670.5,136.3 L671.2,136.8 L671.9,137.2 L672.6,137.7 L673.3,138.1 L674.0,138.5 L674.7,138.9 L675.4,139.3 L676.1,139.6 L676.8,139.9 L677.5,140.1 L678.2,140.2 L679.1,140.4 L679.1,142.1 L678.2,142.0 L677.5,141.9 L676.8,141.8 L676.1,141.6 L675.4,141.5 L674.7,141.4 L674.0,141.3 L673.3,141.2 L672.6,141.1 L671.9,140.9 L671.2,140.7 L670.5,140.5 L669.8,140.2 L669.1,139.9 L668.4,139.5 L667.7,139.1 L667.0,138.7 L666.3,138.3 L665.6,137.9 L664.9,137.5 L664.2,137.1 L663.5,136.7 L662.8,136.3 L662.1,135.8 L661.4,135.4 L660.7,135.0 L660.0,134.6 L659.3,134.2 L658.6,133.9 L657.9,133.6 L657.2,133.4 L656.5,133.2 L655.8,133.0 L655.1,132.9 L654.4,132.8 L653.7,132.7 L653.0,132.6 L652.3,132.6 L651.6,132.5 L650.9,132.5 L650.2,132.6 L649.5,132.6 L648.8,132.7 L648.1,132.8 L647.4,132.9 L646.7,133.1 L646.0,133.3 L645.3,133.5 L644.6,133.7 L643.9,133.9 L643.2,134.1 L642.5,134.2 L641.8,134.3 L641.1,134.4 L640.4,134.5 L639.7,134.6 L639.0,134.6 L638.3,134.6 L637.6,134.6 L636.9,134.6 L636.2,134.5 L635.5,134.4 L634.8,134.3 L634.1,134.2 L633.4,134.1 L632.7,134.0 L632.0,133.8 L631.3,133.7 L630.6,133.6 L629.9,133.4 L629.2,133.3 L628.5,133.1 L627.8,133.0 L627.1,132.8 L626.4,132.7 L625.7,132.6 L625.0,132.4 L624.3,132.3 L623.6,132.2 L622.9,132.1 L622.2,132.1 L621.5,132.1 L620.8,132.0 L620.1,132.1 L619.4,132.1 L618.7,132.1 L618.0,132.2 L617.3,132.3 L616.6,132.4 L615.9,132.5 L615.2,132.7 L614.5,132.8 L613.8,132.9 L613.1,133.1 L612.4,133.2 L611.7,133.3 L611.0,133.4 L610.3,133.6 L609.6,133.7 L608.9,133.8 L608.2,133.9 L607.5,134.0 L606.8,134.1 L606.1,134.2 L605.4,134.3 L604.7,134.4 L604.0,134.4Z" fill="#b22222" fill-opacity="0.5"/><path d="M604.0,133.9 L604.7,133.8 L605.4,133.7 L606.1,133.6 L606.8,133.5 L607.5,133.4 L608.2,133.3 L608.9,133.2 L609.6,133.1 L610.3,133.0 L611.0,132.9 L611.7,132.7 L612.4,132.6 L613.1,132.4 L613.8,132.3 L614.5,132.1 L615.2,132.0 L615.9,131.8 L616.6,131.7 L617.3,131.6 L618.0,131.5 L618.7,131.4 L619.4,131.4 L620.1,131.3 L620.8,131.3 L621.5,131.3 L622.2,131.4 L622.9,131.4 L623.6,131.5 L624.3,131.6 L625.0,131.7 L625.7,131.9 L626.4,132.0 L627.1,132.1 L627.8,132.3 L628.5,132.4 L629.2,132.6 L629.9,132.7 L630.6,132.9 L631.3,133.0 L632.0,133.1 L632.7,133.3 L633.4,133.4 L634.1,133.5 L634.8,133.6 L635.5,133.7 L636.2,133.8 L636.9,133.9 L637.6,133.9 L638.3,133.9 L639.0,133.9 L639.7,133.8 L640.4,133.7 L641.1,133.6 L641.8,133.5 L642.5,133.3 L643.2,133.2 L643.9,133.0 L644.6,132.9 L645.3,132.7 L646.0,132.5 L646.7,132.3 L647.4,132.1 L648.1,131.9 L648.8,131.8 L649.5,131.7 L650.2,131.7 L650.9,131.6 L651.6,131.6 L652.3,131.6 L653.0,131.6 L653.7,131.6 L654.4,131.6 L655.1,131.6 L655.8,131.7 L656.5,131.7 L657.2,131.8 L657.9,131.9 L658.6,132.1 L659.3,132.3 L660.0,132.5 L660.7,132.8 L661.4,133.2 L662.1,133.5 L662.8,133.8 L663.5,134.2 L664.2,134.6 L664.9,135.0 L665.6,135.4 L666.3,135.8 L667.0,136.2 L667.7,136.7 L668.4,137.1 L669.1,137.5 L669.8,138.0 L670.5,138.4 L671.2,138.7 L671.9,139.1 L672.6,139.4 L673.3,139.7 L674.0,139.9 L674.7,140.2 L675.4,140.4 L676.1,140.6 L676.8,140.8 L677.5,141.0 L678.2,141.1 L679.1,141.2" fill="none" stroke="#b22222" stroke-width="1" stroke-linejoin="round"/><path d="M604.0,133.9 L604.7,132.0 L605.4,130.2 L606.1,128.4 L606.8,126.6 L607.5,124.8 L608.2,123.0 L608.9,121.3 L609.6,119.6 L610.3,117.9 L611.0,116.3 L611.7,114.9 L612.4,113.8 L613.1,112.9 L613.8,112.4 L614.5,112.0 L615.2,111.7 L615.9,111.3 L616.6,110.9 L617.3,110.6 L618.0,110.0 L618.7,109.4 L619.4,109.0 L620.1,108.9 L620.8,109.6 L621.5,110.9 L622.2,112.5 L622.9,114.0 L623.6,115.4 L624.3,116.7 L625.0,118.1 L625.7,119.4 L626.4,120.8 L627.1,122.1 L627.8,123.3 L628.5,124.5 L629.2,125.6 L629.9,126.7 L630.6,127.7 L631.3,128.6 L632.0,129.3 L632.7,129.8 L633.4,129.9 L634.1,129.7 L634.8,129.1 L635.5,128.4 L636.2,127.5 L636.9,126.6 L637.6,125.7 L638.3,125.0 L639.0,124.3 L639.7,123.6 L640.4,123.0 L641.1,122.4 L641.8,121.8 L642.5,121.3 L643.2,120.8 L643.9,120.6 L644.6,120.4 L645.3,120.3 L646.0,120.3 L646.7,120.3 L647.4,120.3 L648.1,120.4 L648.8,120.6 L649.5,120.9 L650.2,121.4 L650.9,121.9 L651.6,122.4 L652.3,123.0 L653.0,123.7 L653.7,124.4 L654.4,125.1 L655.1,125.9 L655.8,126.6 L656.5,127.4 L657.2,128.2 L657.9,129.1 L658.6,129.9 L659.3,130.8 L660.0,131.7 L660.7,132.7 L661.4,133.6 L662.1,134.6 L662.8,135.6 L663.5,136.6 L664.2,137.7 L664.9,138.8 L665.6,139.9 L666.3,141.0 L667.0,142.0 L667.7,143.0 L668.4,144.0 L669.1,144.9 L669.8,145.8 L670.5,146.7 L671.2,147.6 L671.9,148.4 L672.6,149.1 L673.3,149.8 L674.0,150.3 L674.7,150.8 L675.4,151.2 L676.1,151.5 L676.8,151.6 L677.5,151.7 L678.2,151.6 L679.1,151.5 L679.1,158.8 L678.2,158.9 L677.5,158.9 L676.8,158.8 L676.1,158.6 L675.4,158.5 L674.7,158.2 L674.0,158.0 L673.3,157.6 L672.6,157.2 L671.9,156.7 L671.2,156.1 L670.5,155.4 L669.8,154.6 L669.1,153.8 L668.4,153.0 L667.7,152.1 L667.0,151.1 L666.3,150.1 L665.6,149.1 L664.9,148.1 L664.2,147.0 L663.5,146.0 L662.8,145.0 L662.1,143.9 L661.4,142.8 L660.7,141.7 L660.0,140.6 L659.3,139.6 L658.6,138.5 L657.9,137.5 L657.2,136.6 L656.5,135.8 L655.8,135.0 L655.1,134.3 L654.4,133.6 L653.7,132.9 L653.0,132.2 L652.3,131.6 L651.6,130.9 L650.9,130.4 L650.2,129.9 L649.5,129.4 L648.8,129.1 L648.1,128.9 L647.4,128.8 L646.7,128.8 L646.0,128.8 L645.3,128.8 L644.6,128.9 L643.9,129.1 L643.2,129.4 L642.5,129.8 L641.8,130.3 L641.1,130.9 L640.4,131.6 L639.7,132.3 L639.0,132.9 L638.3,133.4 L637.6,133.9 L636.9,134.4 L636.2,134.8 L635.5,135.1 L634.8,135.4 L634.1,135.4 L633.4,135.3 L632.7,135.1 L632.0,134.8 L631.3,134.4 L630.6,134.0 L629.9,133.5 L629.2,133.0 L628.5,132.4 L627.8,131.7 L627.1,130.9 L626.4,130.1 L625.7,129.3 L625.0,128.5 L624.3,127.6 L623.6,126.7 L622.9,125.8 L622.2,124.8 L621.5,123.9 L620.8,123.0 L620.1,122.4 L619.4,122.1 L618.7,122.0 L618.0,122.2 L617.3,122.5 L616.6,122.9 L615.9,123.6 L615.2,124.5 L614.5,125.8 L613.8,127.4 L613.1,129.5 L612.4,131.7 L611.7,134.0 L611.0,136.4 L610.3,138.9 L609.6,141.5 L608.9,144.1 L608.2,146.8 L607.5,149.5 L606.8,152.0 L606.1,154.3 L605.4,156.4 L604.7,158.3 L604.0,160.0Z" fill="#228b22" fill-opacity="0.5"/><path d="M604.0,147.5 L604.7,145.5 L605.4,143.5 L606.1,141.4 L606.8,139.3 L607.5,137.1 L608.2,134.7 L608.9,132.3 L609.6,129.9 L610.3,127.7 L611.0,125.6 L611.7,123.7 L612.4,122.0 L613.1,120.5 L613.8,119.2 L614.5,118.2 L615.2,117.4 L615.9,116.8 L616.6,116.5 L617.3,116.3 L618.0,116.2 L618.7,116.2 L619.4,116.4 L620.1,116.9 L620.8,117.5 L621.5,118.2 L622.2,119.0 L622.9,119.9 L623.6,120.9 L624.3,122.0 L625.0,123.2 L625.7,124.4 L626.4,125.6 L627.1,126.7 L627.8,127.7 L628.5,128.7 L629.2,129.5 L629.9,130.3 L630.6,131.1 L631.3,131.8 L632.0,132.3 L632.7,132.7 L633.4,132.8 L634.1,132.5 L634.8,132.0 L635.5,131.4 L636.2,130.8 L636.9,130.1 L637.6,129.5 L638.3,128.9 L639.0,128.3 L639.7,127.8 L640.4,127.2 L641.1,126.6 L641.8,126.1 L642.5,125.5 L643.2,125.1 L643.9,124.8 L644.6,124.6 L645.3,124.5 L646.0,124.5 L646.7,124.5 L647.4,124.6 L648.1,124.7 L648.8,124.9 L649.5,125.2 L650.2,125.6 L650.9,126.0 L651.6,126.5 L652.3,127.0 L653.0,127.7 L653.7,128.3 L654.4,129.1 L655.1,129.9 L655.8,130.7 L656.5,131.6 L657.2,132.4 L657.9,133.3 L658.6,134.2 L659.3,135.1 L660.0,136.0 L660.7,137.0 L661.4,137.9 L662.1,138.9 L662.8,139.8 L663.5,140.8 L664.2,141.9 L664.9,142.9 L665.6,143.9 L666.3,145.0 L667.0,146.0 L667.7,147.0 L668.4,148.0 L669.1,148.9 L669.8,149.8 L670.5,150.7 L671.2,151.6 L671.9,152.3 L672.6,153.0 L673.3,153.5 L674.0,153.9 L674.7,154.2 L675.4,154.6 L676.1,154.8 L676.8,155.0 L677.5,155.1 L678.2,155.2 L679.1,155.1" fill="none" stroke="#228b22" stroke-width="1" stroke-linejoin="round"/></g>
<path d="M604.0,99.2 V168.5 H679.1" fill="none" stroke="#b2b2b2" stroke-width="1"/>
<path d="M641.5,168.5 v-1 M679.1,168.5 v-1 " stroke="#b2b2b2" stroke-width="1" fill="none"/>
<g clip-path="url(#cA3)"><path d="M27.5,209.6 L28.2,207.5 L28.9,205.6 L29.6,204.0 L30.3,202.7 L31.0,201.7 L31.7,200.9 L32.4,200.4 L33.1,200.2 L33.8,200.4 L34.5,200.8 L35.2,201.4 L35.9,202.2 L36.6,203.4 L37.3,204.9 L38.0,206.5 L38.7,207.9 L39.4,208.8 L40.1,209.7 L40.8,210.4 L41.5,211.1 L42.2,211.5 L42.9,211.7 L43.6,211.8 L44.3,211.9 L45.0,212.1 L45.7,212.2 L46.4,212.4 L47.1,212.5 L47.8,212.6 L48.5,212.8 L49.2,212.9 L49.9,213.1 L50.6,213.2 L51.3,213.3 L52.0,213.6 L52.7,214.1 L53.4,214.7 L54.1,215.4 L54.8,216.1 L55.5,216.8 L56.2,217.5 L56.9,218.2 L57.6,218.9 L58.3,219.6 L59.0,220.3 L59.7,221.0 L60.4,221.7 L61.1,222.4 L61.8,223.1 L62.5,223.8 L63.2,224.5 L63.9,225.1 L64.6,225.5 L65.3,225.7 L66.0,225.8 L66.7,225.8 L67.4,225.7 L68.1,225.4 L68.8,224.8 L69.5,223.9 L70.2,222.7 L70.9,221.6 L71.6,220.4 L72.3,219.2 L73.0,218.1 L73.7,216.9 L74.4,215.7 L75.1,214.6 L75.8,213.4 L76.5,212.2 L77.2,211.1 L77.9,209.9 L78.6,208.8 L79.3,207.8 L80.0,207.0 L80.7,206.3 L81.4,205.6 L82.1,205.0 L82.8,204.4 L83.5,203.9 L84.2,203.4 L84.9,203.0 L85.6,202.5 L86.3,202.1 L87.0,201.8 L87.7,201.6 L88.4,201.5 L89.1,201.3 L89.8,200.7 L90.5,199.3 L91.2,197.8 L91.9,196.5 L92.6,195.5 L93.3,194.8 L94.0,194.5 L94.7,195.0 L95.4,196.3 L96.1,198.3 L96.8,200.7 L97.5,203.3 L98.2,206.0 L98.9,208.7 L99.6,211.7 L100.3,214.8 L101.0,217.5 L101.7,219.0 L102.6,219.5 L102.6,223.7 L101.7,223.3 L101.0,223.0 L100.3,222.8 L99.6,222.5 L98.9,222.2 L98.2,221.9 L97.5,221.7 L96.8,221.4 L96.1,221.2 L95.4,221.0 L94.7,220.9 L94.0,220.8 L93.3,220.7 L92.6,220.7 L91.9,220.8 L91.2,220.8 L90.5,220.9 L89.8,220.9 L89.1,221.0 L88.4,221.1 L87.7,221.2 L87.0,221.3 L86.3,221.4 L85.6,221.5 L84.9,221.6 L84.2,221.7 L83.5,221.9 L82.8,222.0 L82.1,222.2 L81.4,222.4 L80.7,222.6 L80.0,222.8 L79.3,223.1 L78.6,223.5 L77.9,223.9 L77.2,224.4 L76.5,225.1 L75.8,225.8 L75.1,226.6 L74.4,227.4 L73.7,228.2 L73.0,229.1 L72.3,230.0 L71.6,231.0 L70.9,232.0 L70.2,232.9 L69.5,233.8 L68.8,234.5 L68.1,235.1 L67.4,235.5 L66.7,235.7 L66.0,235.7 L65.3,235.5 L64.6,235.2 L63.9,234.8 L63.2,234.3 L62.5,233.8 L61.8,233.1 L61.1,232.4 L60.4,231.8 L59.7,231.0 L59.0,230.3 L58.3,229.6 L57.6,228.7 L56.9,227.8 L56.2,226.8 L55.5,225.8 L54.8,224.9 L54.1,224.0 L53.4,223.2 L52.7,222.9 L52.0,222.8 L51.3,223.0 L50.6,223.5 L49.9,224.4 L49.2,226.1 L48.5,228.2 L47.8,230.2 L47.1,231.4 L46.4,232.4 L45.7,232.6 L45.0,231.6 L44.3,230.1 L43.6,228.6 L42.9,227.1 L42.2,225.9 L41.5,224.7 L40.8,223.5 L40.1,222.6 L39.4,222.1 L38.7,221.7 L38.0,221.2 L37.3,220.7 L36.6,220.3 L35.9,219.8 L35.2,219.3 L34.5,218.9 L33.8,218.4 L33.1,217.9 L32.4,217.5 L31.7,217.0 L31.0,216.5 L30.3,216.2 L29.6,215.9 L28.9,215.6 L28.2,215.5 L27.5,215.3Z" fill="#b22222" fill-opacity="0.5"/><path d="M27.5,212.5 L28.2,211.9 L28.9,211.5 L29.6,211.1 L30.3,210.8 L31.0,210.6 L31.7,210.4 L32.4,210.3 L33.1,210.3 L33.8,210.4 L34.5,210.6 L35.2,210.9 L35.9,211.4 L36.6,212.1 L37.3,212.9 L38.0,213.9 L38.7,215.1 L39.4,216.2 L40.1,217.1 L40.8,217.9 L41.5,218.7 L42.2,219.4 L42.9,219.8 L43.6,220.2 L44.3,220.2 L45.0,220.2 L45.7,220.0 L46.4,219.7 L47.1,219.4 L47.8,219.0 L48.5,218.4 L49.2,217.8 L49.9,217.2 L50.6,216.8 L51.3,216.7 L52.0,216.8 L52.7,217.1 L53.4,217.5 L54.1,218.1 L54.8,218.9 L55.5,219.7 L56.2,220.6 L56.9,221.6 L57.6,222.5 L58.3,223.5 L59.0,224.4 L59.7,225.3 L60.4,226.2 L61.1,227.0 L61.8,227.8 L62.5,228.6 L63.2,229.3 L63.9,230.0 L64.6,230.4 L65.3,230.7 L66.0,230.9 L66.7,230.9 L67.4,230.9 L68.1,230.7 L68.8,230.3 L69.5,229.6 L70.2,228.6 L70.9,227.7 L71.6,226.8 L72.3,225.8 L73.0,224.9 L73.7,224.0 L74.4,223.0 L75.1,222.1 L75.8,221.2 L76.5,220.2 L77.2,219.3 L77.9,218.4 L78.6,217.4 L79.3,216.6 L80.0,215.9 L80.7,215.2 L81.4,214.6 L82.1,214.0 L82.8,213.5 L83.5,213.0 L84.2,212.5 L84.9,212.1 L85.6,211.6 L86.3,211.2 L87.0,210.8 L87.7,210.4 L88.4,210.0 L89.1,209.6 L89.8,209.3 L90.5,208.9 L91.2,208.6 L91.9,208.4 L92.6,208.2 L93.3,208.2 L94.0,208.2 L94.7,208.2 L95.4,208.5 L96.1,209.2 L96.8,210.1 L97.5,211.3 L98.2,213.0 L98.9,214.9 L99.6,216.8 L100.3,218.3 L101.0,219.7 L101.7,220.9 L102.6,222.2" fill="none" stroke="#b22222" stroke-width="1" stroke-linejoin="round"/><path d="M27.5,199.7 L28.2,203.3 L28.9,205.8 L29.6,207.4 L30.3,208.3 L31.0,208.1 L31.7,206.6 L32.4,205.0 L33.1,203.4 L33.8,201.8 L34.5,200.2 L35.2,198.6 L35.9,197.0 L36.6,195.4 L37.3,193.9 L38.0,193.0 L38.7,192.8 L39.4,192.9 L40.1,193.4 L40.8,193.9 L41.5,194.4 L42.2,195.0 L42.9,195.7 L43.6,196.4 L44.3,197.1 L45.0,197.8 L45.7,198.5 L46.4,199.2 L47.1,199.9 L47.8,200.6 L48.5,201.3 L49.2,202.0 L49.9,202.7 L50.6,203.4 L51.3,204.1 L52.0,204.7 L52.7,205.2 L53.4,205.5 L54.1,205.9 L54.8,206.4 L55.5,206.9 L56.2,207.5 L56.9,208.1 L57.6,208.9 L58.3,209.7 L59.0,210.7 L59.7,211.7 L60.4,212.8 L61.1,213.9 L61.8,215.1 L62.5,216.5 L63.2,217.8 L63.9,219.0 L64.6,219.8 L65.3,220.0 L66.0,219.9 L66.7,219.6 L67.4,219.0 L68.1,217.5 L68.8,214.9 L69.5,210.6 L70.2,205.3 L70.9,200.2 L71.6,195.8 L72.3,191.7 L73.0,188.2 L73.7,185.6 L74.4,183.7 L75.1,182.3 L75.8,181.1 L76.5,180.5 L77.2,182.1 L77.9,184.4 L78.6,186.8 L79.3,189.0 L80.0,191.3 L80.7,193.4 L81.4,195.3 L82.1,196.9 L82.8,198.2 L83.5,199.3 L84.2,200.3 L84.9,201.3 L85.6,202.1 L86.3,203.0 L87.0,203.8 L87.7,204.5 L88.4,205.2 L89.1,205.7 L89.8,206.2 L90.5,206.7 L91.2,207.2 L91.9,207.8 L92.6,208.6 L93.3,209.6 L94.0,210.7 L94.7,211.8 L95.4,213.0 L96.1,214.4 L96.8,216.0 L97.5,217.4 L98.2,218.5 L98.9,219.2 L99.6,219.5 L100.3,219.5 L101.0,219.4 L101.7,219.1 L102.6,218.3 L102.6,222.8 L101.7,225.4 L101.0,227.4 L100.3,229.3 L99.6,231.2 L98.9,232.9 L98.2,234.1 L97.5,233.9 L96.8,232.8 L96.1,231.6 L95.4,230.2 L94.7,228.9 L94.0,227.4 L93.3,225.8 L92.6,224.0 L91.9,222.2 L91.2,220.4 L90.5,218.8 L89.8,217.3 L89.1,216.1 L88.4,215.4 L87.7,215.3 L87.0,215.4 L86.3,215.6 L85.6,215.9 L84.9,216.2 L84.2,216.5 L83.5,216.8 L82.8,217.2 L82.1,217.5 L81.4,217.8 L80.7,218.2 L80.0,218.5 L79.3,218.9 L78.6,219.3 L77.9,219.6 L77.2,220.1 L76.5,220.5 L75.8,221.0 L75.1,221.5 L74.4,222.0 L73.7,222.4 L73.0,222.7 L72.3,222.8 L71.6,222.9 L70.9,223.0 L70.2,223.3 L69.5,223.9 L68.8,224.7 L68.1,225.6 L67.4,226.6 L66.7,227.5 L66.0,228.5 L65.3,229.5 L64.6,230.5 L63.9,231.4 L63.2,232.1 L62.5,232.4 L61.8,232.4 L61.1,232.3 L60.4,232.2 L59.7,232.1 L59.0,231.8 L58.3,231.5 L57.6,231.1 L56.9,230.4 L56.2,229.7 L55.5,228.9 L54.8,228.0 L54.1,227.2 L53.4,226.3 L52.7,225.4 L52.0,224.5 L51.3,223.6 L50.6,222.6 L49.9,221.6 L49.2,220.7 L48.5,219.8 L47.8,219.0 L47.1,218.2 L46.4,217.5 L45.7,216.8 L45.0,216.2 L44.3,215.5 L43.6,214.9 L42.9,214.3 L42.2,213.8 L41.5,213.3 L40.8,212.9 L40.1,212.6 L39.4,212.3 L38.7,212.2 L38.0,212.2 L37.3,212.2 L36.6,212.3 L35.9,212.4 L35.2,212.5 L34.5,212.7 L33.8,213.0 L33.1,213.3 L32.4,213.6 L31.7,213.8 L31.0,213.9 L30.3,213.8 L29.6,213.6 L28.9,213.3 L28.2,212.9 L27.5,212.5Z" fill="#228b22" fill-opacity="0.5"/><path d="M27.5,208.2 L28.2,209.2 L28.9,209.9 L29.6,210.4 L30.3,210.6 L31.0,210.6 L31.7,210.4 L32.4,209.9 L33.1,209.1 L33.8,208.0 L34.5,206.9 L35.2,205.8 L35.9,204.9 L36.6,204.1 L37.3,203.4 L38.0,202.8 L38.7,202.4 L39.4,202.2 L40.1,202.2 L40.8,202.4 L41.5,202.7 L42.2,203.1 L42.9,203.5 L43.6,204.0 L44.3,204.5 L45.0,205.0 L45.7,205.6 L46.4,206.1 L47.1,206.6 L47.8,207.2 L48.5,208.0 L49.2,208.8 L49.9,209.9 L50.6,211.1 L51.3,212.3 L52.0,213.4 L52.7,214.6 L53.4,215.8 L54.1,216.9 L54.8,218.1 L55.5,219.3 L56.2,220.4 L56.9,221.6 L57.6,222.8 L58.3,223.9 L59.0,225.0 L59.7,226.0 L60.4,226.8 L61.1,227.5 L61.8,227.9 L62.5,227.9 L63.2,227.4 L63.9,226.6 L64.6,225.6 L65.3,224.3 L66.0,222.8 L66.7,221.0 L67.4,219.0 L68.1,216.8 L68.8,214.7 L69.5,212.6 L70.2,210.7 L70.9,208.9 L71.6,207.1 L72.3,205.6 L73.0,204.2 L73.7,203.2 L74.4,202.5 L75.1,202.0 L75.8,201.7 L76.5,201.5 L77.2,201.4 L77.9,201.4 L78.6,201.5 L79.3,201.8 L80.0,202.3 L80.7,202.8 L81.4,203.4 L82.1,203.9 L82.8,204.5 L83.5,205.1 L84.2,205.8 L84.9,206.4 L85.6,207.0 L86.3,207.7 L87.0,208.5 L87.7,209.3 L88.4,210.1 L89.1,211.2 L89.8,212.3 L90.5,213.5 L91.2,214.8 L91.9,216.1 L92.6,217.4 L93.3,218.8 L94.0,220.2 L94.7,221.6 L95.4,223.0 L96.1,224.1 L96.8,225.0 L97.5,225.6 L98.2,225.8 L98.9,225.5 L99.6,224.7 L100.3,223.6 L101.0,222.5 L101.7,221.2 L102.6,219.3" fill="none" stroke="#228b22" stroke-width="1" stroke-linejoin="round"/><line x1="28.3" x2="102.6" y1="219.5" y2="219.5" stroke="#6a6a6a" stroke-width="0.9" stroke-dasharray="0.75 1.15"/></g>
<path d="M27.5,180.2 V249.5 H102.6" fill="none" stroke="#b2b2b2" stroke-width="1"/>
<path d="M65.0,249.5 v-1 M102.6,249.5 v-1 " stroke="#b2b2b2" stroke-width="1" fill="none"/>
<g clip-path="url(#cB3)"><path d="M123.6,214.6 L124.3,214.9 L125.0,215.2 L125.7,215.5 L126.4,215.9 L127.1,216.2 L127.8,216.5 L128.5,216.9 L129.2,217.2 L129.9,217.6 L130.6,217.9 L131.3,218.1 L132.0,218.3 L132.7,218.4 L133.4,218.4 L134.1,218.2 L134.8,217.8 L135.5,217.3 L136.2,216.8 L136.9,216.1 L137.6,215.4 L138.3,214.5 L139.0,213.3 L139.7,211.8 L140.4,210.2 L141.1,208.5 L141.8,206.7 L142.5,204.8 L143.2,202.9 L143.9,201.1 L144.6,199.6 L145.3,198.2 L146.0,196.9 L146.7,195.9 L147.4,194.9 L148.1,194.3 L148.8,193.7 L149.5,193.4 L150.2,193.1 L150.9,193.1 L151.6,193.1 L152.3,193.4 L153.0,193.8 L153.7,194.6 L154.4,195.7 L155.1,196.9 L155.8,198.1 L156.5,199.2 L157.2,200.2 L157.9,201.0 L158.6,201.8 L159.3,202.0 L160.0,201.6 L160.7,200.6 L161.4,198.5 L162.1,195.6 L162.8,191.8 L163.5,187.8 L164.2,184.5 L164.9,181.8 L165.6,179.9 L166.3,179.7 L167.0,180.5 L167.7,182.2 L168.4,184.8 L169.1,187.7 L169.8,190.8 L170.5,194.3 L171.2,197.8 L171.9,201.1 L172.6,204.0 L173.3,206.6 L174.0,208.3 L174.7,209.1 L175.4,209.2 L176.1,209.0 L176.8,208.5 L177.5,207.6 L178.2,206.4 L178.9,205.2 L179.6,204.1 L180.3,203.1 L181.0,202.1 L181.7,201.2 L182.4,200.4 L183.1,199.8 L183.8,199.8 L184.5,200.8 L185.2,202.5 L185.9,204.6 L186.6,206.7 L187.3,208.5 L188.0,210.0 L188.7,211.1 L189.4,211.9 L190.1,211.7 L190.8,210.8 L191.5,209.3 L192.2,206.6 L192.9,204.3 L193.6,203.2 L194.3,204.2 L195.0,206.5 L195.7,209.7 L196.4,212.9 L197.1,215.5 L197.8,217.7 L198.7,219.9 L198.7,223.0 L197.8,222.8 L197.1,222.7 L196.4,222.4 L195.7,222.2 L195.0,221.7 L194.3,221.2 L193.6,220.7 L192.9,220.5 L192.2,220.5 L191.5,220.8 L190.8,221.2 L190.1,221.9 L189.4,223.1 L188.7,224.7 L188.0,226.6 L187.3,229.4 L186.6,232.3 L185.9,234.6 L185.2,236.3 L184.5,236.3 L183.8,235.4 L183.1,234.2 L182.4,232.9 L181.7,231.5 L181.0,230.1 L180.3,228.7 L179.6,227.3 L178.9,225.9 L178.2,224.5 L177.5,223.1 L176.8,221.8 L176.1,220.9 L175.4,220.2 L174.7,219.5 L174.0,218.7 L173.3,218.1 L172.6,217.5 L171.9,216.8 L171.2,215.9 L170.5,215.0 L169.8,214.0 L169.1,213.1 L168.4,212.2 L167.7,211.2 L167.0,210.3 L166.3,209.6 L165.6,209.9 L164.9,210.8 L164.2,211.8 L163.5,213.0 L162.8,214.3 L162.1,215.4 L161.4,216.3 L160.7,217.2 L160.0,217.8 L159.3,218.3 L158.6,218.4 L157.9,218.0 L157.2,217.3 L156.5,216.2 L155.8,214.9 L155.1,213.3 L154.4,211.5 L153.7,210.0 L153.0,208.9 L152.3,208.1 L151.6,207.7 L150.9,207.7 L150.2,208.0 L149.5,208.7 L148.8,209.6 L148.1,210.6 L147.4,211.8 L146.7,213.3 L146.0,214.8 L145.3,216.5 L144.6,218.2 L143.9,220.0 L143.2,221.9 L142.5,223.8 L141.8,225.4 L141.1,226.8 L140.4,227.8 L139.7,228.6 L139.0,229.2 L138.3,229.7 L137.6,230.0 L136.9,230.3 L136.2,230.3 L135.5,230.3 L134.8,230.3 L134.1,230.2 L133.4,230.0 L132.7,229.8 L132.0,229.5 L131.3,229.1 L130.6,228.8 L129.9,228.3 L129.2,227.8 L128.5,227.3 L127.8,226.8 L127.1,226.2 L126.4,225.6 L125.7,225.0 L125.0,224.4 L124.3,223.7 L123.6,223.0Z" fill="#b22222" fill-opacity="0.5"/><path d="M123.6,220.4 L124.3,220.7 L125.0,221.0 L125.7,221.3 L126.4,221.6 L127.1,222.0 L127.8,222.5 L128.5,222.9 L129.2,223.4 L129.9,223.9 L130.6,224.3 L131.3,224.7 L132.0,225.0 L132.7,225.3 L133.4,225.5 L134.1,225.4 L134.8,225.0 L135.5,224.6 L136.2,224.1 L136.9,223.7 L137.6,223.0 L138.3,222.0 L139.0,220.3 L139.7,217.7 L140.4,215.2 L141.1,213.7 L141.8,212.2 L142.5,210.8 L143.2,209.5 L143.9,208.3 L144.6,207.0 L145.3,205.8 L146.0,204.7 L146.7,203.6 L147.4,202.8 L148.1,202.1 L148.8,201.5 L149.5,200.9 L150.2,200.5 L150.9,200.3 L151.6,200.3 L152.3,200.5 L153.0,201.7 L153.7,203.3 L154.4,204.9 L155.1,206.6 L155.8,208.2 L156.5,209.8 L157.2,211.5 L157.9,212.9 L158.6,213.2 L159.3,212.9 L160.0,212.0 L160.7,210.4 L161.4,208.4 L162.1,206.2 L162.8,203.9 L163.5,201.5 L164.2,199.4 L164.9,198.2 L165.6,197.8 L166.3,197.6 L167.0,197.6 L167.7,198.1 L168.4,199.2 L169.1,200.6 L169.8,202.3 L170.5,204.1 L171.2,206.1 L171.9,207.9 L172.6,209.6 L173.3,211.1 L174.0,212.4 L174.7,213.4 L175.4,214.3 L176.1,214.9 L176.8,215.4 L177.5,215.8 L178.2,216.1 L178.9,216.4 L179.6,216.5 L180.3,216.4 L181.0,216.0 L181.7,215.7 L182.4,215.9 L183.1,216.2 L183.8,216.6 L184.5,217.0 L185.2,217.3 L185.9,217.7 L186.6,217.9 L187.3,218.1 L188.0,217.9 L188.7,217.5 L189.4,216.8 L190.1,216.2 L190.8,215.5 L191.5,214.8 L192.2,214.1 L192.9,213.7 L193.6,213.5 L194.3,213.8 L195.0,214.8 L195.7,216.5 L196.4,218.4 L197.1,219.8 L197.8,221.2 L198.7,222.7" fill="none" stroke="#b22222" stroke-width="1" stroke-linejoin="round"/><path d="M123.6,213.0 L124.3,214.1 L125.0,214.9 L125.7,215.7 L126.4,216.2 L127.1,215.9 L127.8,215.1 L128.5,214.1 L129.2,213.0 L129.9,211.8 L130.6,210.6 L131.3,209.5 L132.0,208.4 L132.7,207.7 L133.4,207.9 L134.1,208.8 L134.8,209.3 L135.5,209.6 L136.2,209.9 L136.9,210.0 L137.6,209.6 L138.3,208.9 L139.0,208.4 L139.7,208.7 L140.4,209.5 L141.1,210.8 L141.8,212.6 L142.5,214.3 L143.2,215.7 L143.9,216.9 L144.6,217.8 L145.3,218.4 L146.0,218.7 L146.7,218.6 L147.4,217.9 L148.1,216.7 L148.8,215.3 L149.5,213.4 L150.2,211.2 L150.9,208.8 L151.6,206.5 L152.3,204.2 L153.0,201.8 L153.7,199.5 L154.4,197.2 L155.1,195.0 L155.8,193.1 L156.5,191.4 L157.2,189.9 L157.9,188.8 L158.6,188.1 L159.3,188.0 L160.0,188.7 L160.7,190.2 L161.4,192.3 L162.1,195.0 L162.8,197.9 L163.5,200.8 L164.2,203.7 L164.9,206.7 L165.6,209.6 L166.3,211.7 L167.0,213.1 L167.7,214.1 L168.4,214.9 L169.1,215.6 L169.8,216.1 L170.5,216.4 L171.2,216.6 L171.9,216.8 L172.6,216.9 L173.3,216.8 L174.0,216.7 L174.7,216.6 L175.4,216.4 L176.1,216.0 L176.8,215.5 L177.5,214.9 L178.2,214.4 L178.9,213.9 L179.6,213.4 L180.3,213.0 L181.0,212.7 L181.7,212.4 L182.4,212.2 L183.1,212.1 L183.8,212.2 L184.5,212.5 L185.2,213.1 L185.9,213.8 L186.6,214.5 L187.3,215.2 L188.0,215.9 L188.7,216.6 L189.4,217.3 L190.1,218.0 L190.8,218.7 L191.5,219.4 L192.2,220.1 L192.9,220.8 L193.6,221.3 L194.3,221.5 L195.0,221.5 L195.7,221.2 L196.4,220.6 L197.1,219.9 L197.8,219.0 L198.7,217.6 L198.7,221.5 L197.8,224.2 L197.1,226.8 L196.4,229.8 L195.7,232.2 L195.0,233.6 L194.3,233.5 L193.6,232.7 L192.9,231.6 L192.2,230.4 L191.5,229.1 L190.8,227.8 L190.1,226.6 L189.4,225.6 L188.7,224.7 L188.0,224.0 L187.3,223.4 L186.6,223.0 L185.9,222.6 L185.2,222.2 L184.5,222.0 L183.8,221.8 L183.1,221.7 L182.4,221.8 L181.7,221.9 L181.0,222.0 L180.3,222.1 L179.6,222.1 L178.9,222.2 L178.2,222.3 L177.5,222.4 L176.8,222.5 L176.1,222.6 L175.4,222.7 L174.7,222.7 L174.0,222.8 L173.3,222.9 L172.6,222.9 L171.9,223.0 L171.2,223.0 L170.5,223.0 L169.8,223.0 L169.1,223.0 L168.4,222.8 L167.7,222.4 L167.0,221.8 L166.3,220.9 L165.6,219.6 L164.9,218.4 L164.2,217.3 L163.5,216.5 L162.8,215.9 L162.1,215.3 L161.4,215.0 L160.7,215.1 L160.0,215.8 L159.3,217.4 L158.6,220.1 L157.9,223.4 L157.2,227.1 L156.5,230.2 L155.8,233.0 L155.1,235.6 L154.4,238.1 L153.7,240.5 L153.0,242.7 L152.3,244.7 L151.6,246.0 L150.9,246.2 L150.2,245.7 L149.5,244.5 L148.8,243.0 L148.1,241.3 L147.4,239.6 L146.7,238.1 L146.0,236.7 L145.3,235.3 L144.6,233.9 L143.9,232.5 L143.2,231.1 L142.5,229.7 L141.8,228.4 L141.1,227.3 L140.4,226.5 L139.7,225.9 L139.0,225.6 L138.3,225.7 L137.6,226.1 L136.9,226.5 L136.2,227.2 L135.5,228.6 L134.8,230.6 L134.1,232.7 L133.4,234.8 L132.7,236.9 L132.0,239.0 L131.3,240.1 L130.6,240.6 L129.9,240.6 L129.2,240.5 L128.5,240.1 L127.8,239.6 L127.1,238.7 L126.4,237.8 L125.7,237.4 L125.0,237.4 L124.3,237.7 L123.6,238.3Z" fill="#228b22" fill-opacity="0.5"/><path d="M123.6,227.6 L124.3,227.0 L125.0,226.5 L125.7,226.2 L126.4,226.0 L127.1,226.0 L127.8,226.1 L128.5,226.0 L129.2,225.9 L129.9,225.7 L130.6,225.4 L131.3,224.8 L132.0,223.8 L132.7,222.7 L133.4,221.5 L134.1,220.1 L134.8,218.6 L135.5,217.3 L136.2,216.4 L136.9,215.8 L137.6,215.6 L138.3,215.9 L139.0,216.5 L139.7,217.3 L140.4,218.4 L141.1,219.6 L141.8,220.8 L142.5,221.9 L143.2,222.8 L143.9,223.8 L144.6,224.6 L145.3,225.4 L146.0,226.1 L146.7,226.7 L147.4,227.3 L148.1,227.8 L148.8,228.2 L149.5,228.5 L150.2,228.7 L150.9,228.8 L151.6,228.7 L152.3,227.9 L153.0,226.7 L153.7,224.7 L154.4,221.8 L155.1,218.0 L155.8,214.0 L156.5,210.8 L157.2,208.0 L157.9,205.8 L158.6,204.2 L159.3,203.0 L160.0,202.4 L160.7,202.3 L161.4,202.7 L162.1,203.8 L162.8,205.4 L163.5,207.2 L164.2,209.2 L164.9,211.3 L165.6,213.3 L166.3,214.9 L167.0,216.3 L167.7,217.5 L168.4,218.4 L169.1,219.1 L169.8,219.6 L170.5,220.0 L171.2,220.3 L171.9,220.4 L172.6,220.3 L173.3,220.2 L174.0,220.1 L174.7,219.8 L175.4,219.5 L176.1,219.2 L176.8,218.9 L177.5,218.7 L178.2,218.4 L178.9,218.2 L179.6,218.0 L180.3,217.8 L181.0,217.7 L181.7,217.7 L182.4,217.8 L183.1,218.0 L183.8,218.1 L184.5,218.3 L185.2,218.4 L185.9,218.7 L186.6,219.1 L187.3,219.6 L188.0,220.2 L188.7,220.7 L189.4,221.2 L190.1,221.7 L190.8,222.3 L191.5,222.8 L192.2,223.3 L192.9,223.8 L193.6,224.3 L194.3,224.5 L195.0,224.5 L195.7,224.2 L196.4,223.3 L197.1,222.2 L197.8,221.0 L198.7,219.2" fill="none" stroke="#228b22" stroke-width="1" stroke-linejoin="round"/><line x1="124.4" x2="198.7" y1="220.5" y2="220.5" stroke="#8e8e8e" stroke-width="0.9" stroke-dasharray="0.75 1.15"/></g>
<path d="M123.6,180.2 V249.5 H198.7" fill="none" stroke="#b2b2b2" stroke-width="1"/>
<path d="M161.1,249.5 v-1 M198.7,249.5 v-1 " stroke="#b2b2b2" stroke-width="1" fill="none"/>
<g clip-path="url(#cC3)"><path d="M219.7,225.2 L220.4,225.3 L221.1,225.4 L221.8,225.4 L222.5,225.5 L223.2,225.6 L223.9,225.7 L224.6,225.8 L225.3,225.9 L226.0,226.0 L226.7,226.1 L227.4,226.2 L228.1,226.3 L228.8,226.4 L229.5,226.5 L230.2,226.6 L230.9,226.7 L231.6,226.7 L232.3,226.6 L233.0,226.5 L233.7,226.2 L234.4,225.9 L235.1,225.5 L235.8,224.7 L236.5,223.6 L237.2,222.3 L237.9,220.7 L238.6,218.8 L239.3,216.8 L240.0,214.7 L240.7,212.6 L241.4,210.6 L242.1,208.7 L242.8,206.8 L243.5,205.0 L244.2,203.3 L244.9,201.6 L245.6,200.2 L246.3,199.0 L247.0,198.1 L247.7,197.3 L248.4,196.7 L249.1,196.1 L249.8,195.6 L250.5,195.2 L251.2,195.2 L251.9,195.6 L252.6,196.2 L253.3,196.9 L254.0,197.6 L254.7,198.5 L255.4,199.5 L256.1,200.4 L256.8,201.4 L257.5,202.3 L258.2,203.2 L258.9,204.1 L259.6,205.0 L260.3,205.8 L261.0,206.6 L261.7,207.4 L262.4,208.1 L263.1,208.9 L263.8,209.5 L264.5,210.2 L265.2,210.8 L265.9,211.4 L266.6,211.9 L267.3,212.5 L268.0,213.0 L268.7,213.5 L269.4,214.0 L270.1,214.4 L270.8,214.8 L271.5,215.3 L272.2,215.7 L272.9,216.0 L273.6,216.3 L274.3,216.5 L275.0,216.6 L275.7,216.7 L276.4,216.7 L277.1,216.5 L277.8,216.1 L278.5,215.6 L279.2,214.9 L279.9,214.0 L280.6,213.1 L281.3,212.0 L282.0,211.0 L282.7,209.9 L283.4,208.8 L284.1,207.5 L284.8,206.3 L285.5,205.1 L286.2,204.4 L286.9,204.7 L287.6,205.9 L288.3,207.7 L289.0,210.6 L289.7,213.8 L290.4,216.4 L291.1,218.1 L291.8,219.5 L292.5,220.6 L293.2,221.5 L293.9,222.1 L294.8,222.4 L294.8,224.6 L293.9,224.5 L293.2,224.7 L292.5,225.0 L291.8,225.7 L291.1,227.0 L290.4,228.5 L289.7,229.4 L289.0,229.4 L288.3,229.0 L287.6,228.5 L286.9,227.8 L286.2,226.9 L285.5,226.0 L284.8,225.3 L284.1,225.3 L283.4,225.5 L282.7,225.9 L282.0,226.3 L281.3,226.7 L280.6,227.2 L279.9,227.6 L279.2,228.1 L278.5,228.5 L277.8,228.7 L277.1,228.5 L276.4,228.1 L275.7,227.5 L275.0,227.0 L274.3,226.6 L273.6,226.4 L272.9,226.1 L272.2,225.9 L271.5,225.7 L270.8,225.4 L270.1,225.2 L269.4,225.0 L268.7,224.7 L268.0,224.5 L267.3,224.3 L266.6,224.0 L265.9,223.8 L265.2,223.6 L264.5,223.3 L263.8,223.1 L263.1,222.9 L262.4,222.6 L261.7,222.4 L261.0,222.1 L260.3,221.7 L259.6,221.3 L258.9,220.8 L258.2,220.2 L257.5,219.7 L256.8,219.1 L256.1,218.5 L255.4,217.9 L254.7,217.2 L254.0,216.6 L253.3,216.0 L252.6,215.4 L251.9,214.8 L251.2,214.4 L250.5,214.1 L249.8,213.9 L249.1,213.8 L248.4,214.0 L247.7,214.5 L247.0,215.2 L246.3,216.1 L245.6,217.3 L244.9,218.6 L244.2,220.0 L243.5,221.5 L242.8,223.0 L242.1,224.5 L241.4,225.9 L240.7,227.2 L240.0,228.6 L239.3,229.7 L238.6,230.6 L237.9,231.2 L237.2,231.6 L236.5,231.7 L235.8,231.7 L235.1,231.6 L234.4,231.4 L233.7,231.2 L233.0,231.0 L232.3,230.8 L231.6,230.6 L230.9,230.5 L230.2,230.3 L229.5,230.1 L228.8,229.9 L228.1,229.7 L227.4,229.6 L226.7,229.4 L226.0,229.2 L225.3,229.0 L224.6,228.9 L223.9,228.7 L223.2,228.6 L222.5,228.5 L221.8,228.3 L221.1,228.2 L220.4,228.2 L219.7,228.1Z" fill="#b22222" fill-opacity="0.5"/><path d="M219.7,226.6 L220.4,226.7 L221.1,226.8 L221.8,226.8 L222.5,226.9 L223.2,227.0 L223.9,227.1 L224.6,227.2 L225.3,227.3 L226.0,227.4 L226.7,227.5 L227.4,227.6 L228.1,227.7 L228.8,227.8 L229.5,227.9 L230.2,228.0 L230.9,228.1 L231.6,228.2 L232.3,228.3 L233.0,228.4 L233.7,228.5 L234.4,228.6 L235.1,228.6 L235.8,228.5 L236.5,228.0 L237.2,227.3 L237.9,226.1 L238.6,224.6 L239.3,222.9 L240.0,221.1 L240.7,219.3 L241.4,217.5 L242.1,215.8 L242.8,214.2 L243.5,212.5 L244.2,210.9 L244.9,209.3 L245.6,207.9 L246.3,206.8 L247.0,206.1 L247.7,205.6 L248.4,205.4 L249.1,205.4 L249.8,205.4 L250.5,205.6 L251.2,205.8 L251.9,206.3 L252.6,206.9 L253.3,207.5 L254.0,208.3 L254.7,209.0 L255.4,209.7 L256.1,210.4 L256.8,211.1 L257.5,211.7 L258.2,212.4 L258.9,213.0 L259.6,213.6 L260.3,214.2 L261.0,214.8 L261.7,215.4 L262.4,215.9 L263.1,216.5 L263.8,217.0 L264.5,217.5 L265.2,217.9 L265.9,218.1 L266.6,218.4 L267.3,218.6 L268.0,218.8 L268.7,219.1 L269.4,219.3 L270.1,219.5 L270.8,219.8 L271.5,220.0 L272.2,220.2 L272.9,220.5 L273.6,220.7 L274.3,220.9 L275.0,221.2 L275.7,221.3 L276.4,221.5 L277.1,221.5 L277.8,221.3 L278.5,221.0 L279.2,220.6 L279.9,220.1 L280.6,219.7 L281.3,219.2 L282.0,218.7 L282.7,218.2 L283.4,217.8 L284.1,217.3 L284.8,216.8 L285.5,216.3 L286.2,216.0 L286.9,216.3 L287.6,217.0 L288.3,217.8 L289.0,218.7 L289.7,219.9 L290.4,221.0 L291.1,222.1 L291.8,222.8 L292.5,223.3 L293.2,223.6 L293.9,223.8 L294.8,223.8" fill="none" stroke="#b22222" stroke-width="1" stroke-linejoin="round"/><path d="M219.7,205.1 L220.4,207.8 L221.1,210.7 L221.8,213.5 L222.5,216.5 L223.2,219.8 L223.9,223.1 L224.6,226.1 L225.3,228.5 L226.0,229.9 L226.7,230.5 L227.4,230.8 L228.1,231.0 L228.8,230.9 L229.5,230.2 L230.2,228.6 L230.9,226.2 L231.6,223.1 L232.3,219.5 L233.0,215.3 L233.7,210.8 L234.4,205.8 L235.1,200.7 L235.8,195.8 L236.5,191.4 L237.2,187.6 L237.9,184.3 L238.6,181.8 L239.3,180.3 L240.0,180.0 L240.7,181.1 L241.4,182.4 L242.1,183.7 L242.8,185.0 L243.5,186.3 L244.2,187.6 L244.9,188.9 L245.6,189.6 L246.3,190.1 L247.0,190.7 L247.7,191.6 L248.4,192.7 L249.1,194.0 L249.8,195.3 L250.5,196.5 L251.2,197.6 L251.9,198.6 L252.6,199.3 L253.3,200.1 L254.0,200.8 L254.7,201.4 L255.4,202.1 L256.1,202.7 L256.8,203.2 L257.5,203.6 L258.2,203.9 L258.9,204.3 L259.6,204.8 L260.3,205.5 L261.0,206.7 L261.7,208.3 L262.4,209.9 L263.1,211.2 L263.8,212.3 L264.5,213.3 L265.2,214.3 L265.9,215.2 L266.6,216.0 L267.3,216.7 L268.0,217.4 L268.7,218.0 L269.4,218.5 L270.1,218.9 L270.8,219.0 L271.5,219.0 L272.2,218.8 L272.9,218.5 L273.6,218.2 L274.3,217.8 L275.0,217.4 L275.7,217.0 L276.4,216.4 L277.1,215.9 L277.8,215.4 L278.5,215.0 L279.2,214.7 L279.9,214.5 L280.6,214.6 L281.3,215.0 L282.0,215.6 L282.7,216.2 L283.4,217.0 L284.1,217.7 L284.8,218.5 L285.5,219.3 L286.2,220.1 L286.9,220.8 L287.6,221.3 L288.3,221.6 L289.0,221.9 L289.7,222.0 L290.4,222.2 L291.1,222.3 L291.8,222.5 L292.5,222.6 L293.2,222.7 L293.9,222.8 L294.8,222.9 L294.8,224.6 L293.9,224.7 L293.2,224.9 L292.5,225.0 L291.8,225.1 L291.1,225.3 L290.4,225.5 L289.7,225.8 L289.0,226.0 L288.3,226.3 L287.6,226.5 L286.9,226.7 L286.2,226.8 L285.5,226.8 L284.8,226.8 L284.1,226.7 L283.4,226.7 L282.7,226.6 L282.0,226.4 L281.3,225.9 L280.6,225.5 L279.9,225.1 L279.2,225.0 L278.5,225.3 L277.8,225.8 L277.1,226.4 L276.4,227.0 L275.7,227.6 L275.0,228.2 L274.3,228.8 L273.6,229.3 L272.9,229.9 L272.2,230.4 L271.5,230.9 L270.8,231.3 L270.1,231.6 L269.4,231.8 L268.7,231.8 L268.0,231.7 L267.3,231.5 L266.6,231.2 L265.9,230.8 L265.2,230.3 L264.5,229.7 L263.8,229.0 L263.1,228.2 L262.4,227.2 L261.7,226.3 L261.0,225.4 L260.3,224.4 L259.6,223.5 L258.9,222.6 L258.2,221.6 L257.5,220.7 L256.8,219.8 L256.1,218.8 L255.4,217.9 L254.7,217.0 L254.0,216.0 L253.3,215.1 L252.6,214.2 L251.9,213.2 L251.2,212.3 L250.5,211.4 L249.8,210.5 L249.1,210.0 L248.4,209.7 L247.7,209.6 L247.0,209.6 L246.3,209.6 L245.6,209.6 L244.9,209.7 L244.2,209.8 L243.5,210.1 L242.8,210.4 L242.1,210.8 L241.4,211.3 L240.7,212.1 L240.0,213.1 L239.3,214.4 L238.6,216.0 L237.9,217.9 L237.2,220.0 L236.5,222.3 L235.8,224.8 L235.1,227.6 L234.4,230.5 L233.7,233.4 L233.0,236.0 L232.3,238.4 L231.6,240.6 L230.9,242.2 L230.2,243.0 L229.5,243.5 L228.8,244.1 L228.1,244.6 L227.4,245.2 L226.7,245.8 L226.0,246.3 L225.3,246.9 L224.6,247.4 L223.9,246.8 L223.2,245.1 L222.5,242.8 L221.8,240.6 L221.1,238.5 L220.4,236.3 L219.7,234.0Z" fill="#228b22" fill-opacity="0.5"/><path d="M219.7,222.0 L220.4,224.0 L221.1,225.9 L221.8,227.8 L222.5,229.7 L223.2,231.5 L223.9,233.2 L224.6,234.9 L225.3,236.3 L226.0,237.2 L226.7,237.7 L227.4,237.9 L228.1,238.0 L228.8,237.7 L229.5,236.9 L230.2,235.6 L230.9,233.8 L231.6,231.6 L232.3,229.1 L233.0,226.2 L233.7,223.0 L234.4,219.4 L235.1,215.7 L235.8,212.3 L236.5,209.2 L237.2,206.4 L237.9,203.9 L238.6,201.9 L239.3,200.3 L240.0,199.0 L240.7,198.1 L241.4,197.6 L242.1,197.3 L242.8,197.1 L243.5,197.1 L244.2,197.2 L244.9,197.6 L245.6,198.1 L246.3,198.6 L247.0,199.1 L247.7,199.8 L248.4,200.6 L249.1,201.5 L249.8,202.4 L250.5,203.3 L251.2,204.3 L251.9,205.2 L252.6,206.1 L253.3,207.1 L254.0,208.0 L254.7,208.9 L255.4,209.9 L256.1,210.8 L256.8,211.7 L257.5,212.7 L258.2,213.6 L258.9,214.5 L259.6,215.5 L260.3,216.4 L261.0,217.3 L261.7,218.3 L262.4,219.1 L263.1,219.9 L263.8,220.6 L264.5,221.2 L265.2,221.8 L265.9,222.4 L266.6,223.0 L267.3,223.5 L268.0,223.9 L268.7,224.3 L269.4,224.5 L270.1,224.6 L270.8,224.7 L271.5,224.5 L272.2,224.3 L272.9,223.9 L273.6,223.5 L274.3,223.0 L275.0,222.4 L275.7,221.6 L276.4,220.9 L277.1,220.2 L277.8,219.6 L278.5,219.1 L279.2,218.8 L279.9,218.9 L280.6,219.4 L281.3,219.8 L282.0,220.4 L282.7,220.8 L283.4,221.4 L284.1,222.0 L284.8,222.6 L285.5,223.1 L286.2,223.6 L286.9,223.8 L287.6,223.8 L288.3,223.8 L289.0,223.8 L289.7,223.8 L290.4,223.8 L291.1,223.8 L291.8,223.8 L292.5,223.8 L293.2,223.8 L293.9,223.8 L294.8,223.8" fill="none" stroke="#228b22" stroke-width="1" stroke-linejoin="round"/><line x1="220.5" x2="294.8" y1="224.5" y2="224.5" stroke="#8e8e8e" stroke-width="0.9" stroke-dasharray="0.75 1.15"/></g>
<path d="M219.7,180.2 V249.5 H294.8" fill="none" stroke="#b2b2b2" stroke-width="1"/>
<path d="M257.2,249.5 v-1 M294.8,249.5 v-1 " stroke="#b2b2b2" stroke-width="1" fill="none"/>
<g clip-path="url(#cD3)"><path d="M315.7,220.5 L316.4,220.0 L317.1,219.5 L317.8,219.0 L318.5,218.5 L319.2,217.9 L319.9,217.3 L320.6,216.6 L321.3,216.0 L322.0,215.4 L322.7,214.7 L323.4,214.0 L324.1,213.1 L324.8,212.1 L325.5,210.8 L326.2,209.3 L326.9,207.8 L327.6,206.1 L328.3,204.4 L329.0,202.7 L329.7,200.9 L330.4,199.1 L331.1,197.4 L331.8,195.8 L332.5,194.6 L333.2,193.6 L333.9,192.9 L334.6,192.3 L335.3,191.9 L336.0,191.8 L336.7,192.1 L337.4,192.7 L338.1,193.4 L338.8,194.2 L339.5,195.0 L340.2,195.8 L340.9,196.7 L341.6,197.6 L342.3,198.5 L343.0,199.6 L343.7,200.9 L344.4,202.4 L345.1,204.2 L345.8,206.4 L346.5,208.8 L347.2,211.2 L347.9,213.4 L348.6,215.5 L349.3,217.6 L350.0,219.6 L350.7,221.4 L351.4,222.8 L352.1,223.6 L352.8,223.8 L353.5,224.0 L354.2,224.0 L354.9,224.0 L355.6,223.8 L356.3,223.7 L357.0,223.5 L357.7,223.2 L358.4,222.9 L359.1,222.6 L359.8,222.4 L360.5,222.2 L361.2,222.0 L361.9,222.0 L362.6,221.9 L363.3,221.9 L364.0,222.0 L364.7,222.0 L365.4,222.1 L366.1,222.2 L366.8,222.3 L367.5,222.5 L368.2,222.6 L368.9,222.9 L369.6,223.2 L370.3,223.6 L371.0,224.2 L371.7,224.9 L372.4,225.7 L373.1,226.6 L373.8,227.6 L374.5,228.6 L375.2,229.6 L375.9,230.4 L376.6,231.2 L377.3,232.0 L378.0,232.6 L378.7,233.1 L379.4,233.4 L380.1,233.5 L380.8,233.2 L381.5,232.8 L382.2,232.2 L382.9,231.6 L383.6,230.9 L384.3,230.2 L385.0,229.4 L385.7,228.5 L386.4,227.7 L387.1,226.8 L387.8,225.9 L388.5,225.0 L389.2,224.1 L389.9,223.2 L390.8,222.0 L390.8,225.1 L389.9,228.4 L389.2,230.7 L388.5,232.7 L387.8,234.5 L387.1,236.1 L386.4,237.5 L385.7,238.7 L385.0,239.7 L384.3,240.5 L383.6,241.1 L382.9,241.6 L382.2,241.8 L381.5,242.0 L380.8,242.1 L380.1,242.1 L379.4,241.9 L378.7,241.5 L378.0,241.1 L377.3,240.6 L376.6,240.1 L375.9,239.5 L375.2,238.7 L374.5,237.9 L373.8,237.1 L373.1,236.2 L372.4,235.4 L371.7,234.5 L371.0,233.7 L370.3,232.9 L369.6,232.0 L368.9,231.2 L368.2,230.3 L367.5,229.5 L366.8,228.7 L366.1,228.2 L365.4,227.8 L364.7,227.5 L364.0,227.4 L363.3,227.3 L362.6,227.3 L361.9,227.4 L361.2,227.4 L360.5,227.4 L359.8,227.5 L359.1,227.5 L358.4,227.6 L357.7,227.6 L357.0,227.7 L356.3,227.7 L355.6,227.7 L354.9,227.7 L354.2,227.7 L353.5,227.7 L352.8,227.6 L352.1,227.5 L351.4,227.4 L350.7,227.2 L350.0,226.8 L349.3,226.2 L348.6,225.5 L347.9,224.7 L347.2,223.9 L346.5,223.0 L345.8,222.1 L345.1,221.2 L344.4,220.1 L343.7,219.0 L343.0,218.0 L342.3,216.9 L341.6,216.0 L340.9,215.2 L340.2,214.6 L339.5,214.0 L338.8,213.4 L338.1,212.9 L337.4,212.6 L336.7,212.4 L336.0,212.4 L335.3,212.5 L334.6,212.7 L333.9,213.0 L333.2,213.4 L332.5,213.9 L331.8,214.4 L331.1,214.9 L330.4,215.5 L329.7,216.0 L329.0,216.6 L328.3,217.1 L327.6,217.7 L326.9,218.3 L326.2,218.8 L325.5,219.3 L324.8,219.8 L324.1,220.3 L323.4,220.8 L322.7,221.2 L322.0,221.6 L321.3,222.1 L320.6,222.5 L319.9,223.0 L319.2,223.4 L318.5,223.8 L317.8,224.3 L317.1,224.7 L316.4,225.1 L315.7,225.5Z" fill="#b22222" fill-opacity="0.5"/><path d="M315.7,222.8 L316.4,222.4 L317.1,222.0 L317.8,221.6 L318.5,221.1 L319.2,220.6 L319.9,220.1 L320.6,219.6 L321.3,219.0 L322.0,218.5 L322.7,217.9 L323.4,217.2 L324.1,216.5 L324.8,215.8 L325.5,215.0 L326.2,214.1 L326.9,213.0 L327.6,211.7 L328.3,210.2 L329.0,208.9 L329.7,207.7 L330.4,206.7 L331.1,205.8 L331.8,205.0 L332.5,204.4 L333.2,203.9 L333.9,203.5 L334.6,203.3 L335.3,203.2 L336.0,203.3 L336.7,203.5 L337.4,203.9 L338.1,204.3 L338.8,204.9 L339.5,205.6 L340.2,206.4 L340.9,207.3 L341.6,208.2 L342.3,209.3 L343.0,210.5 L343.7,211.7 L344.4,212.9 L345.1,214.2 L345.8,215.6 L346.5,217.0 L347.2,218.4 L347.9,219.8 L348.6,221.2 L349.3,222.5 L350.0,223.6 L350.7,224.5 L351.4,225.2 L352.1,225.6 L352.8,225.8 L353.5,225.9 L354.2,225.8 L354.9,225.7 L355.6,225.6 L356.3,225.4 L357.0,225.3 L357.7,225.2 L358.4,225.0 L359.1,224.9 L359.8,224.7 L360.5,224.5 L361.2,224.4 L361.9,224.2 L362.6,224.1 L363.3,223.9 L364.0,223.9 L364.7,223.9 L365.4,224.0 L366.1,224.2 L366.8,224.6 L367.5,225.0 L368.2,225.5 L368.9,226.2 L369.6,226.8 L370.3,227.5 L371.0,228.3 L371.7,229.1 L372.4,229.8 L373.1,230.7 L373.8,231.6 L374.5,232.4 L375.2,233.3 L375.9,234.1 L376.6,234.8 L377.3,235.4 L378.0,235.9 L378.7,236.4 L379.4,236.9 L380.1,237.3 L380.8,237.5 L381.5,237.6 L382.2,237.4 L382.9,237.0 L383.6,236.3 L384.3,235.5 L385.0,234.6 L385.7,233.6 L386.4,232.5 L387.1,231.3 L387.8,230.0 L388.5,228.6 L389.2,227.1 L389.9,225.5 L390.8,223.2" fill="none" stroke="#b22222" stroke-width="1" stroke-linejoin="round"/><path d="M315.7,219.0 L316.4,218.2 L317.1,217.5 L317.8,216.7 L318.5,216.0 L319.2,215.1 L319.9,214.3 L320.6,213.5 L321.3,212.5 L322.0,211.6 L322.7,210.6 L323.4,209.6 L324.1,208.7 L324.8,207.8 L325.5,207.1 L326.2,206.4 L326.9,205.9 L327.6,205.5 L328.3,205.2 L329.0,205.0 L329.7,205.2 L330.4,205.7 L331.1,206.5 L331.8,207.4 L332.5,208.2 L333.2,209.0 L333.9,209.9 L334.6,210.7 L335.3,211.6 L336.0,212.4 L336.7,213.2 L337.4,214.0 L338.1,214.8 L338.8,215.6 L339.5,216.3 L340.2,217.1 L340.9,217.8 L341.6,218.5 L342.3,219.2 L343.0,219.9 L343.7,220.6 L344.4,221.3 L345.1,221.9 L345.8,222.3 L346.5,222.7 L347.2,222.9 L347.9,222.9 L348.6,222.9 L349.3,222.7 L350.0,222.2 L350.7,221.4 L351.4,220.3 L352.1,218.9 L352.8,217.3 L353.5,215.7 L354.2,214.2 L354.9,212.6 L355.6,211.0 L356.3,209.4 L357.0,207.9 L357.7,206.3 L358.4,204.7 L359.1,203.5 L359.8,202.8 L360.5,202.3 L361.2,202.1 L361.9,202.2 L362.6,202.8 L363.3,203.8 L364.0,205.5 L364.7,207.5 L365.4,209.5 L366.1,211.0 L366.8,212.4 L367.5,213.8 L368.2,215.2 L368.9,216.6 L369.6,218.0 L370.3,219.4 L371.0,221.0 L371.7,222.9 L372.4,224.9 L373.1,226.7 L373.8,228.5 L374.5,230.2 L375.2,231.8 L375.9,233.4 L376.6,234.6 L377.3,235.6 L378.0,236.3 L378.7,236.9 L379.4,237.4 L380.1,237.8 L380.8,238.0 L381.5,238.2 L382.2,238.2 L382.9,238.1 L383.6,237.9 L384.3,237.4 L385.0,236.7 L385.7,235.7 L386.4,234.3 L387.1,232.7 L387.8,230.9 L388.5,229.0 L389.2,227.1 L389.9,225.2 L390.8,222.5 L390.8,227.1 L389.9,231.3 L389.2,234.1 L388.5,236.6 L387.8,238.6 L387.1,240.5 L386.4,242.0 L385.7,243.2 L385.0,244.0 L384.3,244.4 L383.6,244.8 L382.9,245.1 L382.2,245.4 L381.5,245.7 L380.8,245.9 L380.1,246.1 L379.4,246.2 L378.7,246.2 L378.0,245.8 L377.3,245.1 L376.6,244.1 L375.9,243.0 L375.2,241.9 L374.5,240.7 L373.8,239.5 L373.1,238.2 L372.4,236.7 L371.7,235.1 L371.0,233.3 L370.3,230.5 L369.6,227.3 L368.9,225.0 L368.2,223.7 L367.5,222.6 L366.8,221.8 L366.1,221.0 L365.4,220.2 L364.7,219.6 L364.0,219.3 L363.3,219.0 L362.6,218.9 L361.9,218.9 L361.2,219.0 L360.5,219.1 L359.8,219.3 L359.1,219.5 L358.4,219.9 L357.7,220.3 L357.0,220.8 L356.3,221.5 L355.6,222.1 L354.9,222.8 L354.2,223.5 L353.5,224.1 L352.8,224.7 L352.1,225.2 L351.4,225.7 L350.7,226.1 L350.0,226.4 L349.3,226.5 L348.6,226.6 L347.9,226.6 L347.2,226.5 L346.5,226.3 L345.8,226.1 L345.1,225.9 L344.4,225.6 L343.7,225.3 L343.0,225.0 L342.3,224.8 L341.6,224.4 L340.9,224.1 L340.2,223.8 L339.5,223.5 L338.8,223.1 L338.1,222.8 L337.4,222.4 L336.7,222.0 L336.0,221.5 L335.3,221.0 L334.6,220.5 L333.9,219.9 L333.2,219.3 L332.5,218.8 L331.8,218.2 L331.1,217.6 L330.4,217.0 L329.7,216.7 L329.0,216.7 L328.3,217.0 L327.6,217.6 L326.9,218.2 L326.2,218.8 L325.5,219.4 L324.8,220.0 L324.1,220.6 L323.4,221.2 L322.7,221.8 L322.0,222.3 L321.3,222.9 L320.6,223.4 L319.9,223.8 L319.2,224.2 L318.5,224.5 L317.8,224.8 L317.1,225.1 L316.4,225.3 L315.7,225.5Z" fill="#228b22" fill-opacity="0.5"/><path d="M315.7,223.6 L316.4,223.0 L317.1,222.3 L317.8,221.7 L318.5,221.0 L319.2,220.4 L319.9,219.7 L320.6,219.0 L321.3,218.3 L322.0,217.6 L322.7,216.8 L323.4,215.9 L324.1,215.1 L324.8,214.2 L325.5,213.4 L326.2,212.6 L326.9,212.0 L327.6,211.6 L328.3,211.4 L329.0,211.3 L329.7,211.4 L330.4,211.6 L331.1,212.0 L331.8,212.5 L332.5,213.2 L333.2,213.9 L333.9,214.6 L334.6,215.3 L335.3,216.0 L336.0,216.7 L336.7,217.4 L337.4,218.0 L338.1,218.7 L338.8,219.3 L339.5,220.0 L340.2,220.6 L340.9,221.2 L341.6,221.8 L342.3,222.3 L343.0,222.7 L343.7,223.1 L344.4,223.4 L345.1,223.7 L345.8,224.0 L346.5,224.2 L347.2,224.3 L347.9,224.3 L348.6,224.1 L349.3,223.8 L350.0,223.4 L350.7,222.8 L351.4,222.1 L352.1,221.4 L352.8,220.5 L353.5,219.6 L354.2,218.6 L354.9,217.5 L355.6,216.5 L356.3,215.6 L357.0,214.8 L357.7,214.1 L358.4,213.5 L359.1,213.0 L359.8,212.7 L360.5,212.4 L361.2,212.2 L361.9,212.2 L362.6,212.3 L363.3,212.5 L364.0,212.9 L364.7,213.4 L365.4,213.9 L366.1,214.6 L366.8,215.2 L367.5,216.0 L368.2,217.2 L368.9,218.9 L369.6,220.9 L370.3,222.9 L371.0,225.0 L371.7,227.1 L372.4,229.1 L373.1,231.2 L373.8,233.2 L374.5,234.8 L375.2,236.0 L375.9,237.0 L376.6,237.8 L377.3,238.6 L378.0,239.3 L378.7,239.9 L379.4,240.4 L380.1,240.8 L380.8,241.1 L381.5,241.2 L382.2,241.3 L382.9,241.3 L383.6,241.2 L384.3,241.0 L385.0,240.6 L385.7,239.8 L386.4,238.3 L387.1,236.1 L387.8,233.8 L388.5,231.4 L389.2,228.9 L389.9,226.5 L390.8,223.2" fill="none" stroke="#228b22" stroke-width="1" stroke-linejoin="round"/><line x1="316.5" x2="390.8" y1="226.5" y2="226.5" stroke="#8e8e8e" stroke-width="0.9" stroke-dasharray="0.75 1.15"/></g>
<path d="M315.7,180.2 V249.5 H390.8" fill="none" stroke="#b2b2b2" stroke-width="1"/>
<path d="M353.3,249.5 v-1 M390.8,249.5 v-1 " stroke="#b2b2b2" stroke-width="1" fill="none"/>
<g clip-path="url(#cE3)"><line x1="412.6" x2="486.9" y1="225.5" y2="225.5" stroke="#b8b8b8" stroke-width="0.9" stroke-dasharray="0.75 1.15"/><path d="M411.8,226.1 L412.5,226.0 L413.2,225.9 L413.9,225.8 L414.6,225.7 L415.3,225.6 L416.0,225.4 L416.7,225.2 L417.4,225.0 L418.1,224.8 L418.8,224.5 L419.5,224.2 L420.2,223.9 L420.9,223.6 L421.6,223.3 L422.3,223.0 L423.0,222.6 L423.7,222.2 L424.4,221.7 L425.1,221.3 L425.8,220.8 L426.5,220.4 L427.2,220.1 L427.9,219.7 L428.6,219.4 L429.3,219.2 L430.0,219.0 L430.7,218.9 L431.4,218.9 L432.1,219.0 L432.8,219.2 L433.5,219.4 L434.2,219.7 L434.9,220.0 L435.6,220.4 L436.3,220.8 L437.0,221.3 L437.7,221.7 L438.4,222.2 L439.1,222.6 L439.8,222.9 L440.5,223.1 L441.2,223.4 L441.9,223.7 L442.6,223.9 L443.3,224.1 L444.0,224.4 L444.7,224.6 L445.4,224.8 L446.1,224.9 L446.8,225.1 L447.5,225.3 L448.2,225.5 L448.9,225.6 L449.6,225.7 L450.3,225.8 L451.0,225.8 L451.7,225.8 L452.4,225.8 L453.1,225.7 L453.8,225.7 L454.5,225.7 L455.2,225.6 L455.9,225.5 L456.6,225.5 L457.3,225.4 L458.0,225.3 L458.7,225.3 L459.4,225.2 L460.1,225.1 L460.8,225.1 L461.5,225.0 L462.2,224.9 L462.9,224.8 L463.6,224.8 L464.3,224.7 L465.0,224.6 L465.7,224.6 L466.4,224.5 L467.1,224.4 L467.8,224.4 L468.5,224.3 L469.2,224.4 L469.9,224.5 L470.6,224.6 L471.3,224.7 L472.0,224.9 L472.7,225.1 L473.4,225.2 L474.1,225.4 L474.8,225.6 L475.5,225.8 L476.2,226.0 L476.9,226.2 L477.6,226.4 L478.3,226.5 L479.0,226.6 L479.7,226.7 L480.4,226.6 L481.1,226.6 L481.8,226.4 L482.5,226.3 L483.2,226.1 L483.9,225.9 L484.6,225.7 L485.3,225.5 L486.0,225.3 L486.9,224.9 L486.9,226.6 L486.0,227.4 L485.3,227.9 L484.6,228.3 L483.9,228.7 L483.2,228.9 L482.5,229.2 L481.8,229.4 L481.1,229.5 L480.4,229.6 L479.7,229.6 L479.0,229.5 L478.3,229.3 L477.6,229.0 L476.9,228.8 L476.2,228.5 L475.5,228.2 L474.8,227.9 L474.1,227.7 L473.4,227.5 L472.7,227.3 L472.0,227.2 L471.3,227.0 L470.6,226.8 L469.9,226.7 L469.2,226.6 L468.5,226.6 L467.8,226.6 L467.1,226.7 L466.4,226.8 L465.7,226.8 L465.0,226.9 L464.3,227.0 L463.6,227.0 L462.9,227.1 L462.2,227.2 L461.5,227.3 L460.8,227.3 L460.1,227.4 L459.4,227.5 L458.7,227.5 L458.0,227.6 L457.3,227.7 L456.6,227.7 L455.9,227.8 L455.2,227.9 L454.5,227.9 L453.8,228.0 L453.1,228.0 L452.4,228.0 L451.7,228.0 L451.0,228.0 L450.3,228.1 L449.6,228.1 L448.9,228.0 L448.2,228.0 L447.5,227.9 L446.8,227.8 L446.1,227.7 L445.4,227.6 L444.7,227.4 L444.0,227.2 L443.3,227.0 L442.6,226.8 L441.9,226.5 L441.2,226.2 L440.5,226.0 L439.8,225.7 L439.1,225.4 L438.4,225.1 L437.7,224.7 L437.0,224.4 L436.3,224.1 L435.6,223.7 L434.9,223.4 L434.2,223.2 L433.5,222.9 L432.8,222.7 L432.1,222.6 L431.4,222.5 L430.7,222.4 L430.0,222.4 L429.3,222.4 L428.6,222.6 L427.9,222.8 L427.2,223.0 L426.5,223.3 L425.8,223.6 L425.1,223.9 L424.4,224.3 L423.7,224.6 L423.0,224.9 L422.3,225.2 L421.6,225.5 L420.9,225.7 L420.2,226.0 L419.5,226.2 L418.8,226.4 L418.1,226.6 L417.4,226.8 L416.7,226.9 L416.0,227.0 L415.3,227.1 L414.6,227.2 L413.9,227.2 L413.2,227.3 L412.5,227.2 L411.8,227.2Z" fill="#b22222" fill-opacity="0.5"/><path d="M411.8,226.6 L412.5,226.6 L413.2,226.6 L413.9,226.5 L414.6,226.5 L415.3,226.3 L416.0,226.2 L416.7,226.1 L417.4,225.9 L418.1,225.7 L418.8,225.5 L419.5,225.2 L420.2,225.0 L420.9,224.7 L421.6,224.4 L422.3,224.1 L423.0,223.8 L423.7,223.4 L424.4,223.0 L425.1,222.6 L425.8,222.2 L426.5,221.9 L427.2,221.5 L427.9,221.2 L428.6,221.0 L429.3,220.8 L430.0,220.7 L430.7,220.7 L431.4,220.7 L432.1,220.8 L432.8,221.0 L433.5,221.2 L434.2,221.4 L434.9,221.7 L435.6,222.1 L436.3,222.4 L437.0,222.8 L437.7,223.2 L438.4,223.6 L439.1,224.0 L439.8,224.3 L440.5,224.6 L441.2,224.8 L441.9,225.1 L442.6,225.3 L443.3,225.6 L444.0,225.8 L444.7,226.0 L445.4,226.2 L446.1,226.3 L446.8,226.5 L447.5,226.6 L448.2,226.7 L448.9,226.8 L449.6,226.9 L450.3,226.9 L451.0,226.9 L451.7,226.9 L452.4,226.9 L453.1,226.9 L453.8,226.8 L454.5,226.8 L455.2,226.7 L455.9,226.7 L456.6,226.6 L457.3,226.5 L458.0,226.5 L458.7,226.4 L459.4,226.3 L460.1,226.3 L460.8,226.2 L461.5,226.1 L462.2,226.1 L462.9,226.0 L463.6,225.9 L464.3,225.8 L465.0,225.8 L465.7,225.7 L466.4,225.6 L467.1,225.6 L467.8,225.5 L468.5,225.5 L469.2,225.5 L469.9,225.6 L470.6,225.7 L471.3,225.9 L472.0,226.0 L472.7,226.2 L473.4,226.4 L474.1,226.5 L474.8,226.7 L475.5,227.0 L476.2,227.2 L476.9,227.5 L477.6,227.7 L478.3,227.9 L479.0,228.0 L479.7,228.1 L480.4,228.1 L481.1,228.0 L481.8,227.9 L482.5,227.7 L483.2,227.5 L483.9,227.3 L484.6,227.0 L485.3,226.7 L486.0,226.3 L486.9,225.8" fill="none" stroke="#b22222" stroke-width="1" stroke-linejoin="round"/><path d="M411.8,225.2 L412.5,223.5 L413.2,221.6 L413.9,219.6 L414.6,217.5 L415.3,215.1 L416.0,212.6 L416.7,210.0 L417.4,207.5 L418.1,205.3 L418.8,203.3 L419.5,201.4 L420.2,199.7 L420.9,198.2 L421.6,196.8 L422.3,195.5 L423.0,194.3 L423.7,193.3 L424.4,192.5 L425.1,191.7 L425.8,191.1 L426.5,190.7 L427.2,190.5 L427.9,190.3 L428.6,190.3 L429.3,190.4 L430.0,190.8 L430.7,191.5 L431.4,192.6 L432.1,194.2 L432.8,196.2 L433.5,198.5 L434.2,201.0 L434.9,203.7 L435.6,206.7 L436.3,209.7 L437.0,212.2 L437.7,214.1 L438.4,215.7 L439.1,217.1 L439.8,218.2 L440.5,219.2 L441.2,220.1 L441.9,221.1 L442.6,222.0 L443.3,222.8 L444.0,223.4 L444.7,223.8 L445.4,223.8 L446.1,223.8 L446.8,223.8 L447.5,223.8 L448.2,223.8 L448.9,223.8 L449.6,223.8 L450.3,223.8 L451.0,223.7 L451.7,223.7 L452.4,223.7 L453.1,223.7 L453.8,223.8 L454.5,224.0 L455.2,224.3 L455.9,224.5 L456.6,224.8 L457.3,225.0 L458.0,225.3 L458.7,225.5 L459.4,225.8 L460.1,226.0 L460.8,226.2 L461.5,226.5 L462.2,226.7 L462.9,226.9 L463.6,227.0 L464.3,227.1 L465.0,227.2 L465.7,227.3 L466.4,227.5 L467.1,228.0 L467.8,228.6 L468.5,229.4 L469.2,230.2 L469.9,230.8 L470.6,231.4 L471.3,231.8 L472.0,232.1 L472.7,232.3 L473.4,232.1 L474.1,231.3 L474.8,230.0 L475.5,228.4 L476.2,226.6 L476.9,224.4 L477.6,222.1 L478.3,220.0 L479.0,218.3 L479.7,216.8 L480.4,215.5 L481.1,214.6 L481.8,214.2 L482.5,214.4 L483.2,215.2 L483.9,216.2 L484.6,217.6 L485.3,219.1 L486.0,221.0 L486.9,223.8 L486.9,227.5 L486.0,227.8 L485.3,228.1 L484.6,228.4 L483.9,228.7 L483.2,229.1 L482.5,229.5 L481.8,230.0 L481.1,230.5 L480.4,231.2 L479.7,232.0 L479.0,233.0 L478.3,234.0 L477.6,235.4 L476.9,236.8 L476.2,238.3 L475.5,239.7 L474.8,241.1 L474.1,242.5 L473.4,243.5 L472.7,243.9 L472.0,243.4 L471.3,242.5 L470.6,241.6 L469.9,240.7 L469.2,239.7 L468.5,238.7 L467.8,237.6 L467.1,236.7 L466.4,236.1 L465.7,235.6 L465.0,235.1 L464.3,234.7 L463.6,234.2 L462.9,233.7 L462.2,233.3 L461.5,232.8 L460.8,232.3 L460.1,231.9 L459.4,231.4 L458.7,230.9 L458.0,230.5 L457.3,230.0 L456.6,229.6 L455.9,229.2 L455.2,228.8 L454.5,228.5 L453.8,228.2 L453.1,227.9 L452.4,227.8 L451.7,227.9 L451.0,228.0 L450.3,228.2 L449.6,228.5 L448.9,228.8 L448.2,229.2 L447.5,229.7 L446.8,230.3 L446.1,230.8 L445.4,231.3 L444.7,231.6 L444.0,231.9 L443.3,232.0 L442.6,231.8 L441.9,231.3 L441.2,230.3 L440.5,229.2 L439.8,228.2 L439.1,227.1 L438.4,226.1 L437.7,225.0 L437.0,224.0 L436.3,222.9 L435.6,222.0 L434.9,221.2 L434.2,220.5 L433.5,219.9 L432.8,219.2 L432.1,218.6 L431.4,218.0 L430.7,217.4 L430.0,216.9 L429.3,216.5 L428.6,216.2 L427.9,216.0 L427.2,216.0 L426.5,216.2 L425.8,216.5 L425.1,216.8 L424.4,217.2 L423.7,217.6 L423.0,218.1 L422.3,218.6 L421.6,219.1 L420.9,219.7 L420.2,220.2 L419.5,220.8 L418.8,221.4 L418.1,222.0 L417.4,222.5 L416.7,223.0 L416.0,223.5 L415.3,224.0 L414.6,224.5 L413.9,225.0 L413.2,225.6 L412.5,226.3 L411.8,227.0Z" fill="#228b22" fill-opacity="0.5"/><path d="M411.8,226.5 L412.5,226.1 L413.2,225.5 L413.9,224.6 L414.6,223.4 L415.3,222.1 L416.0,220.7 L416.7,219.4 L417.4,218.0 L418.1,216.7 L418.8,215.3 L419.5,214.0 L420.2,212.7 L420.9,211.4 L421.6,210.1 L422.3,208.8 L423.0,207.6 L423.7,206.5 L424.4,205.5 L425.1,204.7 L425.8,203.9 L426.5,203.3 L427.2,203.1 L427.9,203.0 L428.6,203.1 L429.3,203.2 L430.0,203.4 L430.7,204.0 L431.4,205.3 L432.1,207.1 L432.8,208.8 L433.5,210.6 L434.2,212.3 L434.9,214.1 L435.6,215.8 L436.3,217.6 L437.0,219.3 L437.7,220.9 L438.4,222.2 L439.1,223.1 L439.8,223.8 L440.5,224.4 L441.2,225.0 L441.9,225.5 L442.6,226.0 L443.3,226.3 L444.0,226.5 L444.7,226.6 L445.4,226.6 L446.1,226.5 L446.8,226.3 L447.5,226.1 L448.2,225.9 L448.9,225.8 L449.6,225.8 L450.3,225.7 L451.0,225.6 L451.7,225.6 L452.4,225.6 L453.1,225.7 L453.8,225.9 L454.5,226.1 L455.2,226.4 L455.9,226.7 L456.6,227.0 L457.3,227.3 L458.0,227.6 L458.7,227.9 L459.4,228.2 L460.1,228.6 L460.8,228.9 L461.5,229.2 L462.2,229.5 L462.9,229.8 L463.6,230.0 L464.3,230.2 L465.0,230.4 L465.7,230.6 L466.4,230.9 L467.1,231.5 L467.8,232.3 L468.5,233.3 L469.2,234.2 L469.9,235.1 L470.6,235.7 L471.3,236.3 L472.0,236.8 L472.7,237.1 L473.4,237.0 L474.1,236.4 L474.8,235.4 L475.5,234.0 L476.2,232.5 L476.9,230.7 L477.6,228.8 L478.3,227.1 L479.0,225.5 L479.7,224.1 L480.4,222.9 L481.1,222.0 L481.8,221.5 L482.5,221.4 L483.2,221.7 L483.9,222.2 L484.6,222.8 L485.3,223.5 L486.0,224.4 L486.9,225.8" fill="none" stroke="#228b22" stroke-width="1" stroke-linejoin="round"/></g>
<path d="M411.8,180.2 V249.5 H486.9" fill="none" stroke="#b2b2b2" stroke-width="1"/>
<path d="M449.4,249.5 v-1 M486.9,249.5 v-1 " stroke="#b2b2b2" stroke-width="1" fill="none"/>
<g clip-path="url(#cF3)"><line x1="508.7" x2="583.0" y1="231.5" y2="231.5" stroke="#b8b8b8" stroke-width="0.9" stroke-dasharray="0.75 1.15"/><path d="M507.9,232.0 L508.6,232.3 L509.3,232.6 L510.0,232.8 L510.7,233.1 L511.4,233.4 L512.1,233.7 L512.8,234.0 L513.5,234.3 L514.2,234.7 L514.9,235.0 L515.6,235.4 L516.3,235.7 L517.0,236.1 L517.7,236.5 L518.4,236.8 L519.1,237.2 L519.8,237.5 L520.5,237.8 L521.2,238.2 L521.9,238.5 L522.6,238.7 L523.3,239.0 L524.0,239.3 L524.7,239.6 L525.4,239.8 L526.1,240.0 L526.8,240.0 L527.5,240.0 L528.2,240.0 L528.9,239.9 L529.6,239.7 L530.3,239.4 L531.0,239.0 L531.7,238.5 L532.4,238.0 L533.1,237.3 L533.8,236.6 L534.5,235.8 L535.2,234.9 L535.9,234.0 L536.6,233.1 L537.3,231.9 L538.0,230.5 L538.7,229.2 L539.4,228.3 L540.1,227.9 L540.8,227.8 L541.5,227.9 L542.2,228.1 L542.9,228.4 L543.6,228.7 L544.3,228.9 L545.0,229.2 L545.7,229.6 L546.4,229.9 L547.1,230.2 L547.8,230.6 L548.5,230.9 L549.2,231.1 L549.9,231.2 L550.6,231.2 L551.3,231.1 L552.0,231.0 L552.7,230.9 L553.4,230.8 L554.1,230.6 L554.8,230.4 L555.5,230.0 L556.2,229.6 L556.9,229.1 L557.6,228.4 L558.3,227.6 L559.0,226.7 L559.7,225.8 L560.4,224.8 L561.1,223.9 L561.8,222.8 L562.5,221.7 L563.2,220.6 L563.9,219.7 L564.6,219.4 L565.3,220.0 L566.0,221.0 L566.7,222.3 L567.4,223.8 L568.1,225.3 L568.8,226.3 L569.5,227.2 L570.2,228.0 L570.9,228.6 L571.6,228.9 L572.3,229.1 L573.0,229.3 L573.7,229.5 L574.4,229.6 L575.1,229.7 L575.8,229.8 L576.5,229.8 L577.2,229.9 L577.9,229.9 L578.6,230.0 L579.3,230.0 L580.0,230.0 L580.7,230.1 L581.4,230.1 L582.1,230.1 L583.0,230.0 L583.0,230.9 L582.1,230.9 L581.4,230.9 L580.7,230.9 L580.0,230.9 L579.3,230.9 L578.6,230.9 L577.9,230.9 L577.2,230.9 L576.5,230.8 L575.8,230.8 L575.1,230.8 L574.4,230.7 L573.7,230.8 L573.0,230.9 L572.3,231.1 L571.6,231.4 L570.9,231.9 L570.2,232.5 L569.5,233.3 L568.8,234.0 L568.1,234.5 L567.4,235.0 L566.7,235.4 L566.0,235.7 L565.3,235.7 L564.6,235.3 L563.9,234.6 L563.2,233.9 L562.5,233.5 L561.8,233.2 L561.1,233.0 L560.4,232.8 L559.7,232.7 L559.0,232.7 L558.3,232.8 L557.6,232.8 L556.9,232.9 L556.2,233.0 L555.5,233.2 L554.8,233.4 L554.1,233.5 L553.4,233.7 L552.7,233.7 L552.0,233.8 L551.3,233.7 L550.6,233.7 L549.9,233.6 L549.2,233.5 L548.5,233.4 L547.8,233.3 L547.1,233.2 L546.4,233.0 L545.7,232.9 L545.0,232.8 L544.3,232.7 L543.6,232.6 L542.9,232.6 L542.2,232.6 L541.5,233.0 L540.8,233.8 L540.1,234.9 L539.4,236.6 L538.7,238.7 L538.0,240.6 L537.3,242.1 L536.6,243.4 L535.9,244.7 L535.2,245.8 L534.5,246.7 L533.8,247.5 L533.1,248.2 L532.4,248.8 L531.7,249.2 L531.0,249.5 L530.3,249.7 L529.6,249.8 L528.9,249.9 L528.2,249.9 L527.5,249.8 L526.8,249.6 L526.1,249.4 L525.4,249.1 L524.7,248.8 L524.0,248.5 L523.3,248.0 L522.6,247.3 L521.9,246.6 L521.2,245.8 L520.5,244.9 L519.8,244.1 L519.1,243.3 L518.4,242.5 L517.7,241.7 L517.0,240.8 L516.3,239.9 L515.6,239.0 L514.9,238.1 L514.2,237.3 L513.5,236.7 L512.8,236.2 L512.1,235.9 L511.4,235.6 L510.7,235.2 L510.0,234.8 L509.3,234.5 L508.6,234.1 L507.9,233.7Z" fill="#b22222" fill-opacity="0.5"/><path d="M507.9,232.9 L508.6,232.9 L509.3,233.0 L510.0,233.1 L510.7,233.4 L511.4,233.6 L512.1,233.9 L512.8,234.3 L513.5,234.7 L514.2,235.1 L514.9,235.7 L515.6,236.2 L516.3,236.9 L517.0,237.7 L517.7,238.6 L518.4,239.5 L519.1,240.4 L519.8,241.2 L520.5,242.0 L521.2,242.6 L521.9,243.2 L522.6,243.8 L523.3,244.3 L524.0,244.8 L524.7,245.2 L525.4,245.6 L526.1,245.8 L526.8,246.0 L527.5,246.0 L528.2,246.0 L528.9,245.9 L529.6,245.7 L530.3,245.3 L531.0,244.9 L531.7,244.3 L532.4,243.5 L533.1,242.6 L533.8,241.6 L534.5,240.6 L535.2,239.5 L535.9,238.5 L536.6,237.5 L537.3,236.4 L538.0,235.4 L538.7,234.4 L539.4,233.4 L540.1,232.5 L540.8,231.6 L541.5,230.9 L542.2,230.6 L542.9,230.5 L543.6,230.7 L544.3,230.9 L545.0,231.1 L545.7,231.3 L546.4,231.6 L547.1,231.8 L547.8,232.1 L548.5,232.3 L549.2,232.5 L549.9,232.7 L550.6,232.9 L551.3,233.0 L552.0,233.1 L552.7,233.2 L553.4,233.1 L554.1,232.9 L554.8,232.7 L555.5,232.3 L556.2,231.9 L556.9,231.6 L557.6,231.1 L558.3,230.7 L559.0,230.2 L559.7,229.7 L560.4,229.2 L561.1,228.7 L561.8,228.4 L562.5,228.0 L563.2,227.7 L563.9,227.5 L564.6,227.4 L565.3,227.4 L566.0,227.6 L566.7,227.9 L567.4,228.3 L568.1,228.7 L568.8,229.1 L569.5,229.4 L570.2,229.6 L570.9,229.8 L571.6,229.9 L572.3,230.1 L573.0,230.2 L573.7,230.3 L574.4,230.3 L575.1,230.3 L575.8,230.3 L576.5,230.3 L577.2,230.3 L577.9,230.3 L578.6,230.3 L579.3,230.3 L580.0,230.3 L580.7,230.3 L581.4,230.3 L582.1,230.3 L583.0,230.3" fill="none" stroke="#b22222" stroke-width="1" stroke-linejoin="round"/><path d="M507.9,179.8 L508.6,187.5 L509.3,196.2 L510.0,207.6 L510.7,214.7 L511.4,218.1 L512.1,219.8 L512.8,221.2 L513.5,222.2 L514.2,222.4 L514.9,221.8 L515.6,221.1 L516.3,220.0 L517.0,218.5 L517.7,216.8 L518.4,215.1 L519.1,213.4 L519.8,211.9 L520.5,210.5 L521.2,209.2 L521.9,208.0 L522.6,207.0 L523.3,206.1 L524.0,205.2 L524.7,204.7 L525.4,204.4 L526.1,204.4 L526.8,204.5 L527.5,204.8 L528.2,205.5 L528.9,206.6 L529.6,208.3 L530.3,210.6 L531.0,213.2 L531.7,215.7 L532.4,218.1 L533.1,220.4 L533.8,222.7 L534.5,224.8 L535.2,226.6 L535.9,227.9 L536.6,228.8 L537.3,229.3 L538.0,229.4 L538.7,229.5 L539.4,229.4 L540.1,229.2 L540.8,228.9 L541.5,228.7 L542.2,228.6 L542.9,228.6 L543.6,228.7 L544.3,228.9 L545.0,229.1 L545.7,229.2 L546.4,229.4 L547.1,229.5 L547.8,229.5 L548.5,229.6 L549.2,229.6 L549.9,229.6 L550.6,229.5 L551.3,229.5 L552.0,229.4 L552.7,229.2 L553.4,229.0 L554.1,228.8 L554.8,228.5 L555.5,228.1 L556.2,227.7 L556.9,227.3 L557.6,226.8 L558.3,226.2 L559.0,225.5 L559.7,224.9 L560.4,224.1 L561.1,223.3 L561.8,222.4 L562.5,221.5 L563.2,220.7 L563.9,219.8 L564.6,219.1 L565.3,218.4 L566.0,217.7 L566.7,217.1 L567.4,216.6 L568.1,216.1 L568.8,215.6 L569.5,215.3 L570.2,215.1 L570.9,215.1 L571.6,215.2 L572.3,215.4 L573.0,215.7 L573.7,216.1 L574.4,216.7 L575.1,217.6 L575.8,218.6 L576.5,219.7 L577.2,221.0 L577.9,222.2 L578.6,223.3 L579.3,224.4 L580.0,225.4 L580.7,226.4 L581.4,227.4 L582.1,228.3 L583.0,229.5 L583.0,231.5 L582.1,232.3 L581.4,232.7 L580.7,232.9 L580.0,232.9 L579.3,232.6 L578.6,232.0 L577.9,231.0 L577.2,229.9 L576.5,228.8 L575.8,227.8 L575.1,227.1 L574.4,226.5 L573.7,226.0 L573.0,225.5 L572.3,225.3 L571.6,225.1 L570.9,225.1 L570.2,225.1 L569.5,225.3 L568.8,225.6 L568.1,226.0 L567.4,226.5 L566.7,226.9 L566.0,227.4 L565.3,227.9 L564.6,228.3 L563.9,228.8 L563.2,229.3 L562.5,229.7 L561.8,230.2 L561.1,230.7 L560.4,231.1 L559.7,231.6 L559.0,232.0 L558.3,232.4 L557.6,232.8 L556.9,233.1 L556.2,233.5 L555.5,233.8 L554.8,234.1 L554.1,234.5 L553.4,234.7 L552.7,235.0 L552.0,235.1 L551.3,235.1 L550.6,235.0 L549.9,234.8 L549.2,234.5 L548.5,234.2 L547.8,233.9 L547.1,233.7 L546.4,233.6 L545.7,233.4 L545.0,233.3 L544.3,233.2 L543.6,233.2 L542.9,233.2 L542.2,233.2 L541.5,233.4 L540.8,233.7 L540.1,233.9 L539.4,234.1 L538.7,234.3 L538.0,234.4 L537.3,234.4 L536.6,234.4 L535.9,234.3 L535.2,234.3 L534.5,234.3 L533.8,234.2 L533.1,233.8 L532.4,233.2 L531.7,232.3 L531.0,231.3 L530.3,230.4 L529.6,229.5 L528.9,228.6 L528.2,227.7 L527.5,226.8 L526.8,225.9 L526.1,225.2 L525.4,225.2 L524.7,225.4 L524.0,225.7 L523.3,226.1 L522.6,226.4 L521.9,226.8 L521.2,227.3 L520.5,227.8 L519.8,228.4 L519.1,229.2 L518.4,230.2 L517.7,231.1 L517.0,231.9 L516.3,232.5 L515.6,232.8 L514.9,233.0 L514.2,233.0 L513.5,233.1 L512.8,233.2 L512.1,232.9 L511.4,232.5 L510.7,232.5 L510.0,236.8 L509.3,237.6 L508.6,233.1 L507.9,225.2Z" fill="#228b22" fill-opacity="0.5"/><path d="M507.9,209.6 L508.6,213.9 L509.3,217.6 L510.0,220.9 L510.7,223.6 L511.4,225.8 L512.1,227.6 L512.8,228.9 L513.5,229.5 L514.2,229.3 L514.9,228.7 L515.6,228.0 L516.3,227.0 L517.0,225.8 L517.7,224.4 L518.4,222.9 L519.1,221.5 L519.8,220.2 L520.5,219.1 L521.2,218.1 L521.9,217.2 L522.6,216.4 L523.3,215.8 L524.0,215.2 L524.7,214.8 L525.4,214.7 L526.1,214.9 L526.8,215.4 L527.5,216.1 L528.2,217.0 L528.9,218.2 L529.6,219.6 L530.3,221.3 L531.0,223.2 L531.7,225.0 L532.4,226.6 L533.1,228.0 L533.8,229.1 L534.5,230.1 L535.2,230.9 L535.9,231.4 L536.6,231.9 L537.3,232.2 L538.0,232.3 L538.7,232.3 L539.4,232.1 L540.1,231.8 L540.8,231.5 L541.5,231.2 L542.2,230.9 L542.9,230.9 L543.6,231.0 L544.3,231.0 L545.0,231.1 L545.7,231.2 L546.4,231.3 L547.1,231.4 L547.8,231.6 L548.5,231.7 L549.2,231.9 L549.9,232.1 L550.6,232.2 L551.3,232.3 L552.0,232.3 L552.7,232.2 L553.4,232.0 L554.1,231.7 L554.8,231.3 L555.5,231.0 L556.2,230.6 L556.9,230.2 L557.6,229.8 L558.3,229.3 L559.0,228.8 L559.7,228.2 L560.4,227.6 L561.1,226.9 L561.8,226.2 L562.5,225.5 L563.2,224.8 L563.9,224.1 L564.6,223.4 L565.3,222.7 L566.0,222.1 L566.7,221.5 L567.4,220.9 L568.1,220.4 L568.8,219.8 L569.5,219.5 L570.2,219.3 L570.9,219.3 L571.6,219.4 L572.3,219.6 L573.0,220.0 L573.7,220.5 L574.4,221.1 L575.1,221.9 L575.8,222.8 L576.5,223.9 L577.2,225.2 L577.9,226.5 L578.6,227.6 L579.3,228.5 L580.0,229.1 L580.7,229.7 L581.4,230.0 L582.1,230.2 L583.0,230.3" fill="none" stroke="#228b22" stroke-width="1" stroke-linejoin="round"/></g>
<path d="M507.9,180.2 V249.5 H583.0" fill="none" stroke="#b2b2b2" stroke-width="1"/>
<path d="M545.5,249.5 v-1 M583.0,249.5 v-1 " stroke="#b2b2b2" stroke-width="1" fill="none"/>
<g clip-path="url(#cG3)"><path d="M604.0,234.9 L604.7,234.9 L605.4,234.9 L606.1,235.0 L606.8,235.0 L607.5,235.0 L608.2,235.0 L608.9,235.0 L609.6,235.0 L610.3,235.0 L611.0,235.0 L611.7,235.0 L612.4,234.9 L613.1,234.8 L613.8,234.8 L614.5,234.7 L615.2,234.6 L615.9,234.5 L616.6,234.4 L617.3,234.3 L618.0,234.2 L618.7,234.1 L619.4,234.0 L620.1,233.9 L620.8,233.8 L621.5,233.7 L622.2,233.6 L622.9,233.6 L623.6,233.5 L624.3,233.4 L625.0,233.4 L625.7,233.3 L626.4,233.2 L627.1,233.2 L627.8,233.2 L628.5,233.1 L629.2,233.1 L629.9,233.2 L630.6,233.2 L631.3,233.2 L632.0,233.3 L632.7,233.4 L633.4,233.5 L634.1,233.6 L634.8,233.7 L635.5,233.8 L636.2,233.9 L636.9,234.0 L637.6,234.1 L638.3,234.3 L639.0,234.4 L639.7,234.5 L640.4,234.7 L641.1,234.8 L641.8,235.0 L642.5,235.1 L643.2,235.3 L643.9,235.4 L644.6,235.5 L645.3,235.5 L646.0,235.4 L646.7,235.4 L647.4,235.2 L648.1,235.1 L648.8,234.9 L649.5,234.7 L650.2,234.5 L650.9,234.2 L651.6,234.0 L652.3,233.7 L653.0,233.4 L653.7,233.1 L654.4,232.8 L655.1,232.5 L655.8,232.2 L656.5,231.8 L657.2,231.3 L657.9,230.9 L658.6,230.5 L659.3,230.1 L660.0,229.9 L660.7,229.7 L661.4,229.8 L662.1,230.3 L662.8,231.1 L663.5,231.9 L664.2,232.4 L664.9,232.8 L665.6,233.1 L666.3,233.3 L667.0,233.3 L667.7,233.0 L668.4,232.3 L669.1,231.3 L669.8,230.3 L670.5,229.3 L671.2,228.5 L671.9,227.9 L672.6,227.4 L673.3,227.4 L674.0,228.0 L674.7,228.8 L675.4,229.6 L676.1,230.5 L676.8,231.5 L677.5,232.4 L678.2,233.3 L679.1,234.6 L679.1,237.4 L678.2,237.3 L677.5,237.3 L676.8,237.2 L676.1,237.2 L675.4,237.1 L674.7,237.1 L674.0,237.1 L673.3,237.1 L672.6,237.1 L671.9,237.2 L671.2,237.5 L670.5,237.9 L669.8,238.2 L669.1,238.6 L668.4,238.8 L667.7,238.9 L667.0,239.0 L666.3,239.0 L665.6,239.0 L664.9,239.0 L664.2,238.9 L663.5,238.7 L662.8,238.4 L662.1,238.1 L661.4,237.7 L660.7,237.4 L660.0,237.2 L659.3,237.1 L658.6,237.0 L657.9,237.0 L657.2,237.0 L656.5,237.0 L655.8,237.1 L655.1,237.2 L654.4,237.4 L653.7,237.5 L653.0,237.7 L652.3,237.9 L651.6,238.1 L650.9,238.3 L650.2,238.5 L649.5,238.6 L648.8,238.7 L648.1,238.8 L647.4,238.9 L646.7,238.9 L646.0,238.9 L645.3,238.9 L644.6,238.9 L643.9,238.8 L643.2,238.6 L642.5,238.4 L641.8,238.2 L641.1,237.9 L640.4,237.7 L639.7,237.4 L639.0,237.2 L638.3,237.1 L637.6,237.0 L636.9,236.9 L636.2,236.8 L635.5,236.6 L634.8,236.5 L634.1,236.4 L633.4,236.4 L632.7,236.3 L632.0,236.2 L631.3,236.1 L630.6,236.0 L629.9,236.0 L629.2,235.9 L628.5,235.9 L627.8,235.8 L627.1,235.8 L626.4,235.8 L625.7,235.7 L625.0,235.7 L624.3,235.7 L623.6,235.7 L622.9,235.7 L622.2,235.7 L621.5,235.7 L620.8,235.7 L620.1,235.8 L619.4,235.9 L618.7,235.9 L618.0,236.0 L617.3,236.1 L616.6,236.2 L615.9,236.3 L615.2,236.4 L614.5,236.5 L613.8,236.5 L613.1,236.6 L612.4,236.6 L611.7,236.6 L611.0,236.6 L610.3,236.6 L609.6,236.7 L608.9,236.7 L608.2,236.7 L607.5,236.7 L606.8,236.7 L606.1,236.6 L605.4,236.6 L604.7,236.6 L604.0,236.6Z" fill="#b22222" fill-opacity="0.5"/><path d="M604.0,235.7 L604.7,235.8 L605.4,235.8 L606.1,235.8 L606.8,235.8 L607.5,235.9 L608.2,235.9 L608.9,235.9 L609.6,235.9 L610.3,235.8 L611.0,235.8 L611.7,235.8 L612.4,235.7 L613.1,235.7 L613.8,235.6 L614.5,235.6 L615.2,235.5 L615.9,235.4 L616.6,235.2 L617.3,235.1 L618.0,235.0 L618.7,234.9 L619.4,234.8 L620.1,234.7 L620.8,234.6 L621.5,234.6 L622.2,234.5 L622.9,234.5 L623.6,234.5 L624.3,234.4 L625.0,234.4 L625.7,234.4 L626.4,234.4 L627.1,234.4 L627.8,234.5 L628.5,234.5 L629.2,234.5 L629.9,234.6 L630.6,234.6 L631.3,234.7 L632.0,234.8 L632.7,234.8 L633.4,234.9 L634.1,235.0 L634.8,235.1 L635.5,235.2 L636.2,235.3 L636.9,235.5 L637.6,235.6 L638.3,235.7 L639.0,235.8 L639.7,236.0 L640.4,236.2 L641.1,236.4 L641.8,236.6 L642.5,236.8 L643.2,237.0 L643.9,237.1 L644.6,237.2 L645.3,237.2 L646.0,237.2 L646.7,237.2 L647.4,237.1 L648.1,237.0 L648.8,236.8 L649.5,236.7 L650.2,236.5 L650.9,236.2 L651.6,236.0 L652.3,235.7 L653.0,235.5 L653.7,235.2 L654.4,234.9 L655.1,234.7 L655.8,234.5 L656.5,234.3 L657.2,234.1 L657.9,233.9 L658.6,233.8 L659.3,233.7 L660.0,233.7 L660.7,233.9 L661.4,234.3 L662.1,234.7 L662.8,235.1 L663.5,235.5 L664.2,235.8 L664.9,235.9 L665.6,236.0 L666.3,236.1 L667.0,236.1 L667.7,236.1 L668.4,236.0 L669.1,235.6 L669.8,235.1 L670.5,234.4 L671.2,233.8 L671.9,233.4 L672.6,233.2 L673.3,233.1 L674.0,233.2 L674.7,233.4 L675.4,233.7 L676.1,234.1 L676.8,234.5 L677.5,234.9 L678.2,235.3 L679.1,236.0" fill="none" stroke="#b22222" stroke-width="1" stroke-linejoin="round"/><path d="M604.0,181.3 L604.7,191.2 L605.4,201.1 L606.1,210.9 L606.8,220.6 L607.5,227.2 L608.2,230.3 L608.9,231.9 L609.6,233.2 L610.3,234.2 L611.0,234.6 L611.7,234.6 L612.4,234.7 L613.1,234.7 L613.8,234.7 L614.5,234.6 L615.2,234.5 L615.9,234.5 L616.6,234.4 L617.3,234.2 L618.0,233.8 L618.7,233.1 L619.4,232.2 L620.1,231.3 L620.8,230.3 L621.5,229.4 L622.2,228.5 L622.9,227.6 L623.6,226.7 L624.3,225.8 L625.0,225.5 L625.7,226.0 L626.4,227.0 L627.1,228.0 L627.8,228.9 L628.5,229.8 L629.2,230.8 L629.9,231.6 L630.6,232.4 L631.3,232.9 L632.0,233.2 L632.7,233.5 L633.4,233.6 L634.1,233.7 L634.8,233.7 L635.5,233.7 L636.2,233.7 L636.9,233.5 L637.6,233.3 L638.3,233.0 L639.0,232.5 L639.7,232.0 L640.4,231.3 L641.1,230.7 L641.8,230.1 L642.5,229.6 L643.2,229.3 L643.9,228.9 L644.6,228.6 L645.3,228.3 L646.0,228.0 L646.7,227.6 L647.4,227.3 L648.1,226.9 L648.8,226.6 L649.5,226.2 L650.2,225.9 L650.9,225.6 L651.6,225.7 L652.3,226.0 L653.0,226.5 L653.7,227.1 L654.4,227.8 L655.1,228.5 L655.8,229.2 L656.5,229.9 L657.2,230.7 L657.9,231.6 L658.6,232.5 L659.3,233.5 L660.0,234.4 L660.7,235.4 L661.4,236.3 L662.1,237.2 L662.8,238.0 L663.5,238.8 L664.2,239.6 L664.9,240.3 L665.6,240.8 L666.3,241.2 L667.0,241.4 L667.7,241.6 L668.4,241.7 L669.1,241.8 L669.8,241.9 L670.5,241.9 L671.2,241.7 L671.9,241.4 L672.6,240.7 L673.3,240.0 L674.0,239.2 L674.7,238.5 L675.4,237.7 L676.1,236.9 L676.8,236.2 L677.5,235.4 L678.2,234.7 L679.1,233.7 L679.1,237.1 L678.2,240.5 L677.5,242.7 L676.8,244.5 L676.1,245.8 L675.4,246.9 L674.7,247.8 L674.0,248.4 L673.3,248.9 L672.6,249.4 L671.9,249.8 L671.2,250.1 L670.5,250.2 L669.8,250.2 L669.1,250.0 L668.4,249.8 L667.7,249.4 L667.0,249.0 L666.3,248.5 L665.6,247.9 L664.9,247.4 L664.2,246.8 L663.5,246.1 L662.8,245.3 L662.1,244.4 L661.4,243.5 L660.7,242.5 L660.0,241.5 L659.3,240.5 L658.6,239.6 L657.9,238.7 L657.2,237.9 L656.5,237.1 L655.8,236.3 L655.1,235.6 L654.4,235.0 L653.7,234.5 L653.0,234.1 L652.3,233.8 L651.6,233.6 L650.9,233.6 L650.2,233.6 L649.5,233.8 L648.8,234.1 L648.1,234.5 L647.4,234.9 L646.7,235.4 L646.0,235.9 L645.3,236.4 L644.6,236.9 L643.9,237.3 L643.2,237.6 L642.5,237.9 L641.8,238.2 L641.1,238.5 L640.4,238.7 L639.7,238.9 L639.0,239.0 L638.3,239.1 L637.6,239.1 L636.9,239.1 L636.2,239.0 L635.5,238.8 L634.8,238.5 L634.1,238.1 L633.4,237.7 L632.7,237.3 L632.0,237.1 L631.3,236.8 L630.6,236.6 L629.9,236.4 L629.2,236.2 L628.5,236.0 L627.8,235.8 L627.1,235.6 L626.4,235.3 L625.7,235.1 L625.0,235.0 L624.3,235.0 L623.6,235.0 L622.9,235.1 L622.2,235.5 L621.5,236.2 L620.8,236.8 L620.1,237.1 L619.4,237.1 L618.7,237.1 L618.0,237.1 L617.3,237.1 L616.6,237.1 L615.9,237.1 L615.2,237.1 L614.5,237.1 L613.8,237.1 L613.1,237.1 L612.4,237.1 L611.7,237.1 L611.0,237.1 L610.3,236.9 L609.6,236.8 L608.9,236.6 L608.2,236.6 L607.5,236.8 L606.8,237.1 L606.1,238.6 L605.4,240.7 L604.7,239.2 L604.0,233.7Z" fill="#228b22" fill-opacity="0.5"/><path d="M604.0,208.2 L604.7,213.4 L605.4,218.3 L606.1,222.9 L606.8,227.1 L607.5,230.4 L608.2,232.7 L608.9,234.1 L609.6,234.9 L610.3,235.6 L611.0,236.0 L611.7,236.0 L612.4,235.9 L613.1,235.8 L613.8,235.8 L614.5,235.7 L615.2,235.6 L615.9,235.5 L616.6,235.5 L617.3,235.4 L618.0,235.3 L618.7,235.1 L619.4,234.8 L620.1,234.2 L620.8,233.4 L621.5,232.7 L622.2,232.2 L622.9,231.7 L623.6,231.2 L624.3,230.9 L625.0,230.9 L625.7,231.2 L626.4,231.5 L627.1,231.9 L627.8,232.4 L628.5,232.8 L629.2,233.2 L629.9,233.7 L630.6,234.1 L631.3,234.5 L632.0,234.9 L632.7,235.1 L633.4,235.3 L634.1,235.5 L634.8,235.6 L635.5,235.7 L636.2,235.8 L636.9,235.9 L637.6,235.9 L638.3,235.9 L639.0,235.9 L639.7,235.8 L640.4,235.6 L641.1,235.3 L641.8,235.0 L642.5,234.6 L643.2,234.3 L643.9,233.9 L644.6,233.5 L645.3,233.0 L646.0,232.5 L646.7,232.0 L647.4,231.5 L648.1,231.1 L648.8,230.7 L649.5,230.4 L650.2,230.2 L650.9,230.1 L651.6,230.0 L652.3,230.1 L653.0,230.2 L653.7,230.4 L654.4,230.8 L655.1,231.4 L655.8,232.0 L656.5,232.8 L657.2,233.6 L657.9,234.4 L658.6,235.3 L659.3,236.2 L660.0,237.2 L660.7,238.2 L661.4,239.2 L662.1,240.2 L662.8,241.1 L663.5,241.9 L664.2,242.6 L664.9,243.3 L665.6,243.9 L666.3,244.5 L667.0,245.1 L667.7,245.5 L668.4,245.9 L669.1,246.2 L669.8,246.4 L670.5,246.5 L671.2,246.5 L671.9,246.4 L672.6,246.1 L673.3,245.6 L674.0,245.0 L674.7,244.2 L675.4,243.3 L676.1,242.1 L676.8,240.8 L677.5,239.3 L678.2,237.6 L679.1,235.1" fill="none" stroke="#228b22" stroke-width="1" stroke-linejoin="round"/></g>
<path d="M604.0,180.2 V249.5 H679.1" fill="none" stroke="#b2b2b2" stroke-width="1"/>
<path d="M641.5,249.5 v-1 M679.1,249.5 v-1 " stroke="#b2b2b2" stroke-width="1" fill="none"/>
<g font-family="'Liberation Sans', sans-serif" fill="#1c1c1c" stroke="#1c1c1c" stroke-width="0.22" style="filter:opacity(1)">
<text x="24.0" y="21.8" text-anchor="end" font-size="7.7">100</text>
<text x="24.0" y="39.1" text-anchor="end" font-size="7.7">80</text>
<text x="24.0" y="56.4" text-anchor="end" font-size="7.7">60</text>
<text x="24.0" y="73.8" text-anchor="end" font-size="7.7">40</text>
<text x="24.0" y="91.1" text-anchor="end" font-size="7.7">20</text>
<text x="65.0" y="6.2" text-anchor="middle" font-size="8.45">A</text>
<text x="65.0" y="17.2" text-anchor="middle" font-size="8.45">Shoulder flexion</text>
<text x="120.1" y="21.8" text-anchor="end" font-size="7.7">0</text>
<text x="120.1" y="39.1" text-anchor="end" font-size="7.7">-12.5</text>
<text x="120.1" y="56.4" text-anchor="end" font-size="7.7">-25</text>
<text x="120.1" y="73.8" text-anchor="end" font-size="7.7">-37.5</text>
<text x="120.1" y="91.1" text-anchor="end" font-size="7.7">-50</text>
<text x="161.1" y="6.2" text-anchor="middle" font-size="8.45">B</text>
<text x="161.1" y="17.2" text-anchor="middle" font-size="8.45">Shoulder adduction</text>
<text x="216.2" y="21.8" text-anchor="end" font-size="7.7">50</text>
<text x="216.2" y="39.1" text-anchor="end" font-size="7.7">25</text>
<text x="216.2" y="56.4" text-anchor="end" font-size="7.7">0</text>
<text x="216.2" y="73.8" text-anchor="end" font-size="7.7">-25</text>
<text x="216.2" y="91.1" text-anchor="end" font-size="7.7">-50</text>
<text x="257.2" y="6.2" text-anchor="middle" font-size="8.45">C</text>
<text x="257.2" y="17.2" text-anchor="middle" font-size="8.45">Shoulder rotation</text>
<text x="312.2" y="21.8" text-anchor="end" font-size="7.7">150</text>
<text x="312.2" y="39.1" text-anchor="end" font-size="7.7">120</text>
<text x="312.2" y="56.4" text-anchor="end" font-size="7.7">90</text>
<text x="312.2" y="73.8" text-anchor="end" font-size="7.7">60</text>
<text x="312.2" y="91.1" text-anchor="end" font-size="7.7">30</text>
<text x="353.3" y="6.2" text-anchor="middle" font-size="8.45">D</text>
<text x="353.3" y="17.2" text-anchor="middle" font-size="8.45">Elbow flexion</text>
<text x="408.3" y="21.8" text-anchor="end" font-size="7.7">60</text>
<text x="408.3" y="39.1" text-anchor="end" font-size="7.7">45</text>
<text x="408.3" y="56.4" text-anchor="end" font-size="7.7">30</text>
<text x="408.3" y="73.8" text-anchor="end" font-size="7.7">15</text>
<text x="408.3" y="91.1" text-anchor="end" font-size="7.7">0</text>
<text x="449.4" y="6.2" text-anchor="middle" font-size="8.45">E</text>
<text x="449.4" y="17.2" text-anchor="middle" font-size="8.45">Elbow pronation</text>
<text x="504.4" y="21.8" text-anchor="end" font-size="7.7">10</text>
<text x="504.4" y="39.1" text-anchor="end" font-size="7.7">-7.5</text>
<text x="504.4" y="56.4" text-anchor="end" font-size="7.7">-25</text>
<text x="504.4" y="73.8" text-anchor="end" font-size="7.7">-42.5</text>
<text x="504.4" y="91.1" text-anchor="end" font-size="7.7">-60</text>
<text x="545.5" y="6.2" text-anchor="middle" font-size="8.45">F</text>
<text x="545.5" y="17.2" text-anchor="middle" font-size="8.45">Wrist flexion</text>
<text x="600.5" y="21.8" text-anchor="end" font-size="7.7">40</text>
<text x="600.5" y="39.1" text-anchor="end" font-size="7.7">22.5</text>
<text x="600.5" y="56.4" text-anchor="end" font-size="7.7">5</text>
<text x="600.5" y="73.8" text-anchor="end" font-size="7.7">-12.5</text>
<text x="600.5" y="91.1" text-anchor="end" font-size="7.7">-30</text>
<text x="641.5" y="6.2" text-anchor="middle" font-size="8.45">G</text>
<text x="641.5" y="17.2" text-anchor="middle" font-size="8.45">Ulnar deviation</text>
<text x="24.0" y="102.1" text-anchor="end" font-size="7.7">50</text>
<text x="24.0" y="119.4" text-anchor="end" font-size="7.7">20</text>
<text x="24.0" y="136.8" text-anchor="end" font-size="7.7">-10</text>
<text x="24.0" y="154.1" text-anchor="end" font-size="7.7">-40</text>
<text x="24.0" y="171.4" text-anchor="end" font-size="7.7">-70</text>
<text x="120.1" y="102.1" text-anchor="end" font-size="7.7">50</text>
<text x="120.1" y="119.4" text-anchor="end" font-size="7.7">30</text>
<text x="120.1" y="136.8" text-anchor="end" font-size="7.7">10</text>
<text x="120.1" y="154.1" text-anchor="end" font-size="7.7">-10</text>
<text x="120.1" y="171.4" text-anchor="end" font-size="7.7">-30</text>
<text x="216.2" y="102.1" text-anchor="end" font-size="7.7">60</text>
<text x="216.2" y="119.4" text-anchor="end" font-size="7.7">37.5</text>
<text x="216.2" y="136.8" text-anchor="end" font-size="7.7">15</text>
<text x="216.2" y="154.1" text-anchor="end" font-size="7.7">-7.5</text>
<text x="216.2" y="171.4" text-anchor="end" font-size="7.7">-30</text>
<text x="312.2" y="102.1" text-anchor="end" font-size="7.7">40</text>
<text x="312.2" y="119.4" text-anchor="end" font-size="7.7">25</text>
<text x="312.2" y="136.8" text-anchor="end" font-size="7.7">10</text>
<text x="312.2" y="154.1" text-anchor="end" font-size="7.7">-5</text>
<text x="312.2" y="171.4" text-anchor="end" font-size="7.7">-20</text>
<text x="408.3" y="102.1" text-anchor="end" font-size="7.7">30</text>
<text x="408.3" y="119.4" text-anchor="end" font-size="7.7">17.5</text>
<text x="408.3" y="136.8" text-anchor="end" font-size="7.7">5</text>
<text x="408.3" y="154.1" text-anchor="end" font-size="7.7">-7.5</text>
<text x="408.3" y="171.4" text-anchor="end" font-size="7.7">-20</text>
<text x="504.4" y="102.1" text-anchor="end" font-size="7.7">20</text>
<text x="504.4" y="119.4" text-anchor="end" font-size="7.7">12.5</text>
<text x="504.4" y="136.8" text-anchor="end" font-size="7.7">5</text>
<text x="504.4" y="154.1" text-anchor="end" font-size="7.7">-2.5</text>
<text x="504.4" y="171.4" text-anchor="end" font-size="7.7">-10</text>
<text x="600.5" y="102.1" text-anchor="end" font-size="7.7">50</text>
<text x="600.5" y="119.4" text-anchor="end" font-size="7.7">25</text>
<text x="600.5" y="136.8" text-anchor="end" font-size="7.7">0</text>
<text x="600.5" y="154.1" text-anchor="end" font-size="7.7">-25</text>
<text x="600.5" y="171.4" text-anchor="end" font-size="7.7">-50</text>
<text x="24.0" y="183.3" text-anchor="end" font-size="7.7">280</text>
<text x="24.0" y="200.6" text-anchor="end" font-size="7.7">160</text>
<text x="24.0" y="217.9" text-anchor="end" font-size="7.7">40</text>
<text x="24.0" y="235.3" text-anchor="end" font-size="7.7">-80</text>
<text x="24.0" y="252.6" text-anchor="end" font-size="7.7">-200</text>
<text x="27.5" y="260.6" text-anchor="middle" font-size="7.7">0</text>
<text x="102.6" y="260.6" text-anchor="middle" font-size="7.7">100</text>
<text x="65.0" y="260.6" text-anchor="middle" font-size="8.45">% Strike</text>
<text x="120.1" y="183.3" text-anchor="end" font-size="7.7">140</text>
<text x="120.1" y="200.6" text-anchor="end" font-size="7.7">80</text>
<text x="120.1" y="217.9" text-anchor="end" font-size="7.7">20</text>
<text x="120.1" y="235.3" text-anchor="end" font-size="7.7">-40</text>
<text x="120.1" y="252.6" text-anchor="end" font-size="7.7">-100</text>
<text x="123.6" y="260.6" text-anchor="middle" font-size="7.7">0</text>
<text x="198.7" y="260.6" text-anchor="middle" font-size="7.7">100</text>
<text x="161.1" y="260.6" text-anchor="middle" font-size="8.45">% Strike</text>
<text x="216.2" y="183.3" text-anchor="end" font-size="7.7">400</text>
<text x="216.2" y="200.6" text-anchor="end" font-size="7.7">245</text>
<text x="216.2" y="217.9" text-anchor="end" font-size="7.7">90</text>
<text x="216.2" y="235.3" text-anchor="end" font-size="7.7">-65</text>
<text x="216.2" y="252.6" text-anchor="end" font-size="7.7">-220</text>
<text x="219.7" y="260.6" text-anchor="middle" font-size="7.7">0</text>
<text x="294.8" y="260.6" text-anchor="middle" font-size="7.7">100</text>
<text x="257.2" y="260.6" text-anchor="middle" font-size="8.45">% Strike</text>
<text x="312.2" y="183.3" text-anchor="end" font-size="7.7">400</text>
<text x="312.2" y="200.6" text-anchor="end" font-size="7.7">250</text>
<text x="312.2" y="217.9" text-anchor="end" font-size="7.7">100</text>
<text x="312.2" y="235.3" text-anchor="end" font-size="7.7">-50</text>
<text x="312.2" y="252.6" text-anchor="end" font-size="7.7">-200</text>
<text x="315.7" y="260.6" text-anchor="middle" font-size="7.7">0</text>
<text x="390.8" y="260.6" text-anchor="middle" font-size="7.7">100</text>
<text x="353.3" y="260.6" text-anchor="middle" font-size="8.45">% Strike</text>
<text x="408.3" y="183.3" text-anchor="end" font-size="7.7">200</text>
<text x="408.3" y="200.6" text-anchor="end" font-size="7.7">125</text>
<text x="408.3" y="217.9" text-anchor="end" font-size="7.7">50</text>
<text x="408.3" y="235.3" text-anchor="end" font-size="7.7">-25</text>
<text x="408.3" y="252.6" text-anchor="end" font-size="7.7">-100</text>
<text x="411.8" y="260.6" text-anchor="middle" font-size="7.7">0</text>
<text x="486.9" y="260.6" text-anchor="middle" font-size="7.7">100</text>
<text x="449.4" y="260.6" text-anchor="middle" font-size="8.45">% Strike</text>
<text x="504.4" y="183.3" text-anchor="end" font-size="7.7">110</text>
<text x="504.4" y="200.6" text-anchor="end" font-size="7.7">73</text>
<text x="504.4" y="217.9" text-anchor="end" font-size="7.7">35</text>
<text x="504.4" y="235.3" text-anchor="end" font-size="7.7">-3</text>
<text x="504.4" y="252.6" text-anchor="end" font-size="7.7">-40</text>
<text x="507.9" y="260.6" text-anchor="middle" font-size="7.7">0</text>
<text x="583.0" y="260.6" text-anchor="middle" font-size="7.7">100</text>
<text x="545.5" y="260.6" text-anchor="middle" font-size="8.45">% Strike</text>
<text x="600.5" y="183.3" text-anchor="end" font-size="7.7">430</text>
<text x="600.5" y="200.6" text-anchor="end" font-size="7.7">298</text>
<text x="600.5" y="217.9" text-anchor="end" font-size="7.7">165</text>
<text x="600.5" y="235.3" text-anchor="end" font-size="7.7">33</text>
<text x="600.5" y="252.6" text-anchor="end" font-size="7.7">-100</text>
<text x="604.0" y="260.6" text-anchor="middle" font-size="7.7">0</text>
<text x="679.1" y="260.6" text-anchor="middle" font-size="7.7">100</text>
<text x="641.5" y="260.6" text-anchor="middle" font-size="8.45">% Strike</text>
<text transform="translate(6.4,53.3) rotate(-90)" text-anchor="middle" font-size="8.45">Angle (degrees)</text>
<text transform="translate(6.4,134.5) rotate(-90)" text-anchor="middle" font-size="8.45">Moment (N.m)</text>
<text transform="translate(6.4,215.3) rotate(-90)" text-anchor="middle" font-size="8.45">Power (W)</text>
</g></svg>
</body></html>
